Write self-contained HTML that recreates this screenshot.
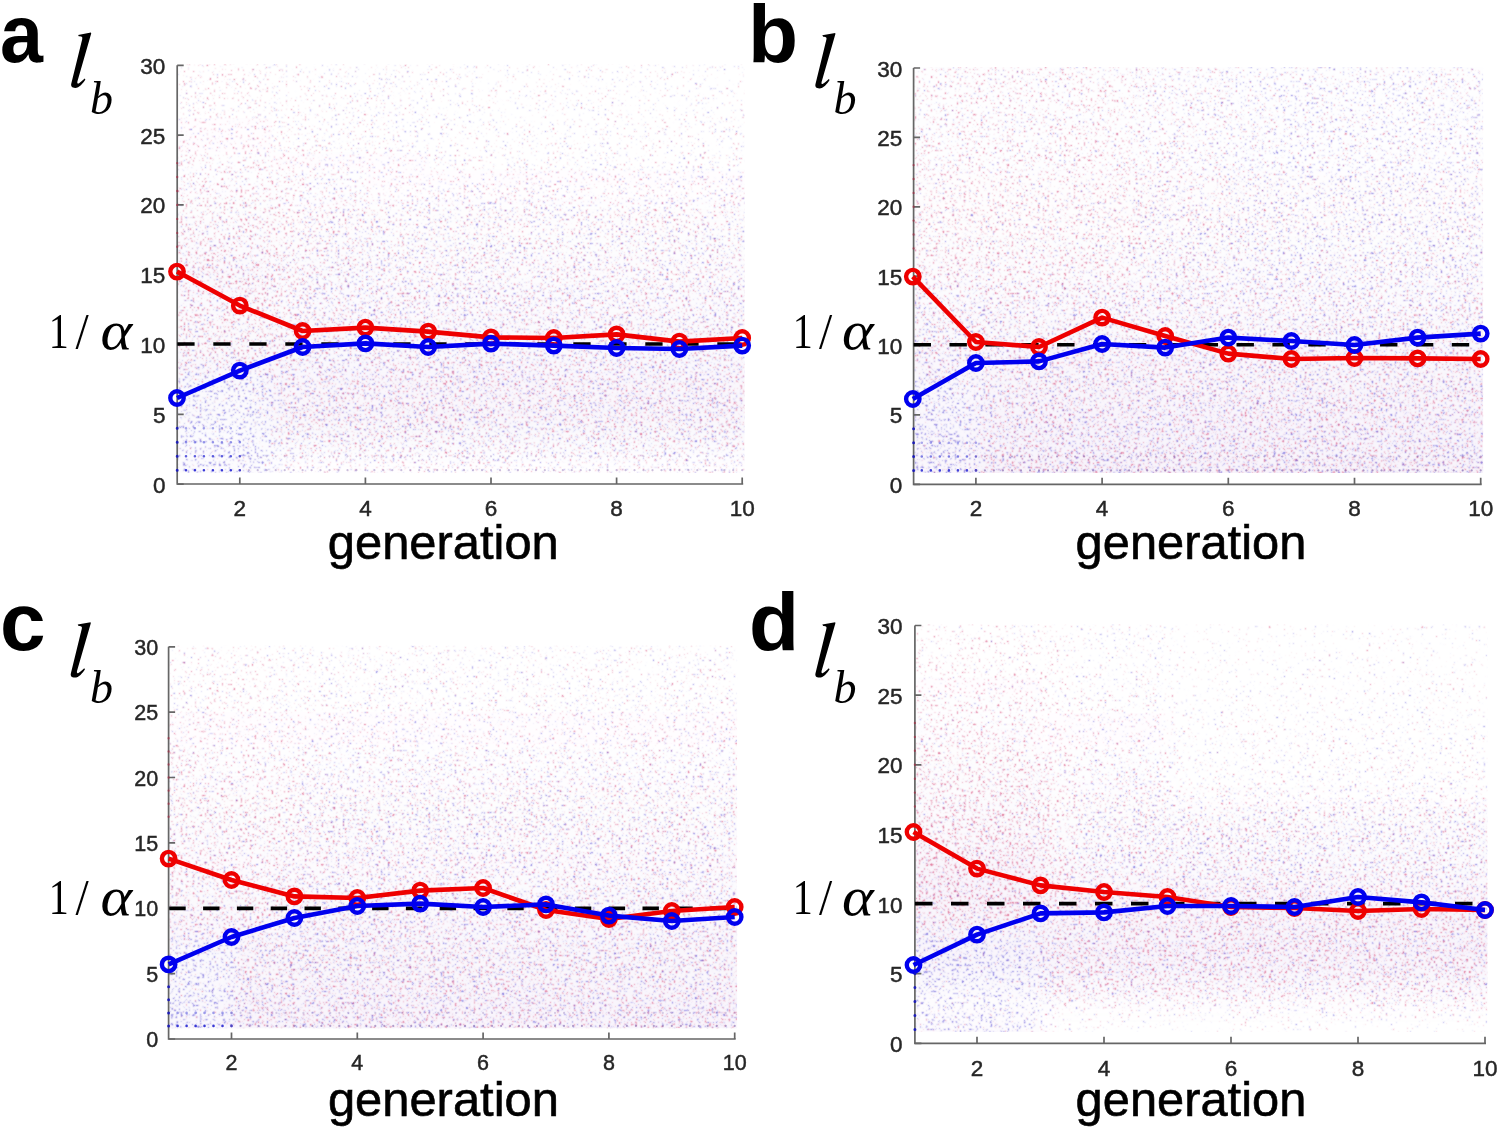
<!DOCTYPE html>
<html><head><meta charset="utf-8"><style>
html,body{margin:0;padding:0;background:#fff;overflow:hidden;}
svg{display:block;will-change:transform;}
.t{font-family:"Liberation Sans",sans-serif;fill:#262626;stroke:#262626;stroke-width:0.45px;}
.g{font-family:"Liberation Sans",sans-serif;font-size:48px;fill:#000;stroke:#000;stroke-width:0.6px;}
.L{font-family:"Liberation Sans",sans-serif;font-weight:bold;font-size:82px;fill:#000;}
.s{font-family:"Liberation Serif",serif;fill:#000;}
.si{font-family:"Liberation Serif",serif;font-style:italic;fill:#000;}
</style></head><body>
<svg width="1500" height="1132" viewBox="0 0 1500 1132">
<defs>
<filter id="nR" x="0" y="0" width="1" height="1" color-interpolation-filters="sRGB">
<feGaussianBlur in="SourceGraphic" stdDeviation="10" result="dn"/>
<feTurbulence type="fractalNoise" baseFrequency="0.42" numOctaves="2" seed="3" result="t0"/>
<feColorMatrix in="t0" type="matrix" values="1 0 0 0 0  0 1 0 0 0  0 0 1 0 0  0 0 0 0 1" result="t"/>
<feComposite in="t" in2="dn" operator="arithmetic" k1="0" k2="1" k3="0.4" k4="-0.2" result="s"/>
<feComponentTransfer in="s"><feFuncR type="linear" slope="6" intercept="-3.600"/></feComponentTransfer>
<feConvolveMatrix order="3" kernelMatrix="1 2 1 2 8 2 1 2 1" preserveAlpha="true"/>
<feColorMatrix type="matrix" values="0 0 0 0 0.85  0 0 0 0 0.33  0 0 0 0 0.5  0.9 0 0 0 0"/>
</filter>
<filter id="nB" x="0" y="0" width="1" height="1" color-interpolation-filters="sRGB">
<feGaussianBlur in="SourceGraphic" stdDeviation="10" result="dn"/>
<feTurbulence type="fractalNoise" baseFrequency="0.42" numOctaves="2" seed="11" result="t0"/>
<feColorMatrix in="t0" type="matrix" values="1 0 0 0 0  0 1 0 0 0  0 0 1 0 0  0 0 0 0 1" result="t"/>
<feComposite in="t" in2="dn" operator="arithmetic" k1="0" k2="1" k3="0.4" k4="-0.2" result="s"/>
<feComponentTransfer in="s"><feFuncR type="linear" slope="6" intercept="-3.600"/></feComponentTransfer>
<feConvolveMatrix order="3" kernelMatrix="1 2 1 2 8 2 1 2 1" preserveAlpha="true"/>
<feColorMatrix type="matrix" values="0 0 0 0 0.42  0 0 0 0 0.38  0 0 0 0 0.85  0.9 0 0 0 0"/>
</filter>
<filter id="tb" x="-0.05" y="-0.05" width="1.1" height="1.1"><feGaussianBlur stdDeviation="10"/></filter>
<clipPath id="ca"><rect x="178.1" y="64.3" width="566.5" height="408.4"/></clipPath>
<clipPath id="cb"><rect x="914.5" y="67.0" width="568.6" height="405.9"/></clipPath>
<clipPath id="cc"><rect x="169.5" y="645.8" width="567.6" height="382.5"/></clipPath>
<clipPath id="cd"><rect x="915.8" y="624.5" width="571.6" height="407.4"/></clipPath>
</defs>
<rect width="1500" height="1132" fill="#fff"/>
<g clip-path="url(#ca)"><g fill="rgb(205, 178, 228)" filter="url(#tb)"><path fill-opacity="0.004" d="M83 100h32v18h-32zM83 83h32v18h-32zM83 65h32v18h-32zM83 48h32v18h-32zM83 30h32v18h-32zM83 13h32v18h-32zM114 100h32v18h-32zM114 83h32v18h-32zM114 65h32v18h-32zM114 48h32v18h-32zM114 30h32v18h-32zM114 13h32v18h-32zM146 100h32v18h-32zM146 83h32v18h-32zM146 65h32v18h-32zM146 48h32v18h-32zM146 30h32v18h-32zM146 13h32v18h-32zM177 100h32v18h-32zM177 83h32v18h-32zM177 65h32v18h-32zM177 48h32v18h-32zM177 30h32v18h-32zM177 13h32v18h-32zM208 100h32v18h-32zM208 83h32v18h-32zM208 65h32v18h-32zM208 48h32v18h-32zM208 30h32v18h-32zM208 13h32v18h-32zM240 100h32v18h-32zM240 83h32v18h-32zM240 65h32v18h-32zM240 48h32v18h-32zM240 30h32v18h-32zM240 13h32v18h-32zM271 135h32v18h-32zM271 118h32v18h-32zM271 100h32v18h-32zM271 83h32v18h-32zM271 65h32v18h-32zM271 48h32v18h-32zM271 30h32v18h-32zM271 13h32v18h-32zM303 135h32v18h-32zM303 118h32v18h-32zM303 100h32v18h-32zM303 83h32v18h-32zM303 65h32v18h-32zM303 48h32v18h-32zM303 30h32v18h-32zM303 13h32v18h-32zM334 135h32v18h-32zM334 118h32v18h-32zM334 100h32v18h-32zM334 83h32v18h-32zM334 65h32v18h-32zM334 48h32v18h-32zM334 30h32v18h-32zM334 13h32v18h-32zM365 135h32v18h-32zM365 118h32v18h-32zM365 100h32v18h-32zM365 83h32v18h-32zM397 135h32v18h-32zM397 118h32v18h-32zM397 100h32v18h-32zM397 83h32v18h-32zM428 153h32v18h-32zM428 135h32v18h-32zM428 118h32v18h-32zM460 153h32v18h-32zM460 135h32v18h-32zM460 118h32v18h-32zM491 153h32v18h-32zM491 135h32v18h-32zM491 118h32v18h-32zM522 153h32v18h-32zM522 135h32v18h-32zM522 118h32v18h-32zM554 153h32v18h-32zM554 135h32v18h-32zM554 118h32v18h-32zM585 153h32v18h-32zM585 135h32v18h-32zM585 118h32v18h-32zM617 153h32v18h-32zM617 135h32v18h-32zM617 118h32v18h-32zM648 153h32v18h-32zM648 135h32v18h-32zM648 118h32v18h-32zM679 153h32v18h-32zM679 135h32v18h-32zM679 118h32v18h-32zM711 153h32v18h-32zM711 135h32v18h-32zM711 118h32v18h-32zM742 153h32v18h-32zM742 135h32v18h-32zM742 118h32v18h-32zM774 153h32v18h-32zM774 135h32v18h-32zM774 118h32v18h-32z"/><path fill-opacity="0.008" d="M83 135h32v18h-32zM83 118h32v18h-32zM114 135h32v18h-32zM114 118h32v18h-32zM146 135h32v18h-32zM146 118h32v18h-32zM177 135h32v18h-32zM177 118h32v18h-32zM208 135h32v18h-32zM208 118h32v18h-32zM240 135h32v18h-32zM240 118h32v18h-32zM271 519h32v18h-32zM271 502h32v18h-32zM271 484h32v18h-32zM271 467h32v18h-32zM271 153h32v18h-32zM303 519h32v18h-32zM303 502h32v18h-32zM303 484h32v18h-32zM303 467h32v18h-32zM303 153h32v18h-32zM334 519h32v18h-32zM334 502h32v18h-32zM334 484h32v18h-32zM334 467h32v18h-32zM334 153h32v18h-32zM365 519h32v18h-32zM365 502h32v18h-32zM365 484h32v18h-32zM365 467h32v18h-32zM365 170h32v18h-32zM365 153h32v18h-32zM397 519h32v18h-32zM397 502h32v18h-32zM397 484h32v18h-32zM397 467h32v18h-32zM397 170h32v18h-32zM397 153h32v18h-32zM428 519h32v18h-32zM428 502h32v18h-32zM428 484h32v18h-32zM428 467h32v18h-32zM428 170h32v18h-32zM460 519h32v18h-32zM460 502h32v18h-32zM460 484h32v18h-32zM460 467h32v18h-32zM460 170h32v18h-32zM491 519h32v18h-32zM491 502h32v18h-32zM491 484h32v18h-32zM491 467h32v18h-32zM491 170h32v18h-32zM522 519h32v18h-32zM522 502h32v18h-32zM522 484h32v18h-32zM522 467h32v18h-32zM522 170h32v18h-32zM554 519h32v18h-32zM554 502h32v18h-32zM554 484h32v18h-32zM554 467h32v18h-32zM554 170h32v18h-32zM585 519h32v18h-32zM585 502h32v18h-32zM585 484h32v18h-32zM585 467h32v18h-32zM585 170h32v18h-32zM617 519h32v18h-32zM617 502h32v18h-32zM617 484h32v18h-32zM617 467h32v18h-32zM617 170h32v18h-32zM648 519h32v18h-32zM648 502h32v18h-32zM648 484h32v18h-32zM648 467h32v18h-32zM648 170h32v18h-32zM679 519h32v18h-32zM679 502h32v18h-32zM679 484h32v18h-32zM679 467h32v18h-32zM679 170h32v18h-32zM711 519h32v18h-32zM711 502h32v18h-32zM711 484h32v18h-32zM711 467h32v18h-32zM711 170h32v18h-32zM742 519h32v18h-32zM742 502h32v18h-32zM742 484h32v18h-32zM742 467h32v18h-32zM742 170h32v18h-32zM774 519h32v18h-32zM774 502h32v18h-32zM774 484h32v18h-32zM774 467h32v18h-32zM774 170h32v18h-32z"/><path fill-opacity="0.012" d="M83 153h32v18h-32zM114 153h32v18h-32zM146 153h32v18h-32zM177 153h32v18h-32zM208 153h32v18h-32zM240 153h32v18h-32zM271 170h32v18h-32zM303 170h32v18h-32zM334 170h32v18h-32zM365 187h32v18h-32zM397 187h32v18h-32zM428 187h32v18h-32zM460 187h32v18h-32zM491 187h32v18h-32zM522 187h32v18h-32zM554 187h32v18h-32zM585 187h32v18h-32zM617 187h32v18h-32zM648 187h32v18h-32zM679 187h32v18h-32zM711 187h32v18h-32zM742 187h32v18h-32zM774 187h32v18h-32z"/><path fill-opacity="0.016" d="M83 170h32v18h-32zM114 170h32v18h-32zM146 170h32v18h-32zM177 170h32v18h-32zM208 170h32v18h-32zM240 170h32v18h-32zM271 449h32v18h-32zM271 187h32v18h-32zM303 449h32v18h-32zM303 187h32v18h-32zM334 449h32v18h-32zM334 187h32v18h-32zM365 449h32v18h-32zM397 449h32v18h-32zM428 449h32v18h-32zM460 449h32v18h-32zM491 449h32v18h-32zM522 449h32v18h-32zM554 449h32v18h-32zM585 449h32v18h-32zM617 449h32v18h-32zM648 449h32v18h-32zM679 449h32v18h-32zM711 449h32v18h-32zM742 449h32v18h-32zM774 449h32v18h-32z"/><path fill-opacity="0.020" d="M83 187h32v18h-32zM114 187h32v18h-32zM146 187h32v18h-32zM177 187h32v18h-32zM208 187h32v18h-32zM240 187h32v18h-32zM365 205h32v18h-32zM397 205h32v18h-32zM428 205h32v18h-32zM460 205h32v18h-32zM491 205h32v18h-32zM522 205h32v18h-32zM554 205h32v18h-32zM585 205h32v18h-32zM617 205h32v18h-32zM648 205h32v18h-32zM679 205h32v18h-32zM711 205h32v18h-32zM742 205h32v18h-32zM774 205h32v18h-32z"/><path fill-opacity="0.024" d="M271 205h32v18h-32zM303 205h32v18h-32zM334 205h32v18h-32zM365 222h32v18h-32zM397 222h32v18h-32zM428 222h32v18h-32zM460 222h32v18h-32zM491 222h32v18h-32zM522 222h32v18h-32zM554 222h32v18h-32zM585 222h32v18h-32zM617 222h32v18h-32zM648 222h32v18h-32zM679 222h32v18h-32zM711 222h32v18h-32zM742 222h32v18h-32zM774 222h32v18h-32z"/><path fill-opacity="0.027" d="M271 222h32v18h-32zM303 222h32v18h-32zM334 222h32v18h-32z"/><path fill-opacity="0.031" d="M83 205h32v18h-32zM114 205h32v18h-32zM146 205h32v18h-32zM177 205h32v18h-32zM208 205h32v18h-32zM240 205h32v18h-32zM365 240h32v18h-32zM397 240h32v18h-32zM428 240h32v18h-32zM460 240h32v18h-32zM491 240h32v18h-32zM522 240h32v18h-32zM554 240h32v18h-32zM585 240h32v18h-32zM617 240h32v18h-32zM648 240h32v18h-32zM679 240h32v18h-32zM711 240h32v18h-32zM742 240h32v18h-32zM774 240h32v18h-32z"/><path fill-opacity="0.035" d="M271 240h32v18h-32zM303 240h32v18h-32zM334 240h32v18h-32zM365 257h32v18h-32zM397 257h32v18h-32zM428 257h32v18h-32zM460 257h32v18h-32zM491 257h32v18h-32zM522 257h32v18h-32zM554 257h32v18h-32zM585 257h32v18h-32zM617 257h32v18h-32zM648 257h32v18h-32zM679 257h32v18h-32zM711 257h32v18h-32zM742 257h32v18h-32zM774 257h32v18h-32z"/><path fill-opacity="0.039" d="M83 222h32v18h-32zM114 222h32v18h-32zM146 222h32v18h-32zM177 222h32v18h-32zM208 222h32v18h-32zM240 222h32v18h-32z"/><path fill-opacity="0.043" d="M271 257h32v18h-32zM303 257h32v18h-32zM334 257h32v18h-32zM365 275h32v18h-32zM397 275h32v18h-32zM428 275h32v18h-32zM460 275h32v18h-32zM491 275h32v18h-32zM522 275h32v18h-32zM554 275h32v18h-32zM585 275h32v18h-32zM617 275h32v18h-32zM648 275h32v18h-32zM679 275h32v18h-32zM711 275h32v18h-32zM742 275h32v18h-32zM774 275h32v18h-32z"/><path fill-opacity="0.051" d="M83 519h32v18h-32zM83 502h32v18h-32zM83 484h32v18h-32zM83 467h32v18h-32zM83 449h32v18h-32zM83 432h32v18h-32zM83 292h32v18h-32zM83 240h32v18h-32zM114 519h32v18h-32zM114 502h32v18h-32zM114 484h32v18h-32zM114 467h32v18h-32zM114 449h32v18h-32zM114 432h32v18h-32zM114 292h32v18h-32zM114 240h32v18h-32zM146 519h32v18h-32zM146 502h32v18h-32zM146 484h32v18h-32zM146 467h32v18h-32zM146 449h32v18h-32zM146 432h32v18h-32zM146 292h32v18h-32zM146 240h32v18h-32zM177 519h32v18h-32zM177 502h32v18h-32zM177 484h32v18h-32zM177 467h32v18h-32zM177 449h32v18h-32zM177 432h32v18h-32zM177 292h32v18h-32zM177 240h32v18h-32zM208 519h32v18h-32zM208 502h32v18h-32zM208 484h32v18h-32zM208 467h32v18h-32zM208 449h32v18h-32zM208 432h32v18h-32zM208 292h32v18h-32zM208 240h32v18h-32zM240 519h32v18h-32zM240 502h32v18h-32zM240 484h32v18h-32zM240 467h32v18h-32zM240 449h32v18h-32zM240 432h32v18h-32zM240 292h32v18h-32zM240 240h32v18h-32zM271 292h32v18h-32zM271 275h32v18h-32zM303 292h32v18h-32zM303 275h32v18h-32zM334 292h32v18h-32zM334 275h32v18h-32zM365 292h32v18h-32zM397 292h32v18h-32zM428 292h32v18h-32zM460 292h32v18h-32zM491 292h32v18h-32zM522 292h32v18h-32zM554 292h32v18h-32zM585 292h32v18h-32zM617 292h32v18h-32zM648 292h32v18h-32zM679 292h32v18h-32zM711 292h32v18h-32zM742 292h32v18h-32zM774 292h32v18h-32z"/><path fill-opacity="0.059" d="M83 310h32v18h-32zM114 310h32v18h-32zM146 310h32v18h-32zM177 310h32v18h-32zM208 310h32v18h-32zM240 310h32v18h-32zM271 310h32v18h-32zM303 310h32v18h-32zM334 310h32v18h-32zM365 310h32v18h-32zM397 310h32v18h-32zM428 310h32v18h-32zM460 310h32v18h-32zM491 310h32v18h-32zM522 310h32v18h-32zM554 310h32v18h-32zM585 310h32v18h-32zM617 310h32v18h-32zM648 310h32v18h-32zM679 310h32v18h-32zM711 310h32v18h-32zM742 310h32v18h-32zM774 310h32v18h-32z"/><path fill-opacity="0.063" d="M83 257h32v18h-32zM114 257h32v18h-32zM146 257h32v18h-32zM177 257h32v18h-32zM208 257h32v18h-32zM240 257h32v18h-32z"/><path fill-opacity="0.071" d="M83 414h32v18h-32zM83 379h32v18h-32zM83 327h32v18h-32zM114 414h32v18h-32zM114 379h32v18h-32zM114 327h32v18h-32zM146 414h32v18h-32zM146 379h32v18h-32zM146 327h32v18h-32zM177 414h32v18h-32zM177 379h32v18h-32zM177 327h32v18h-32zM208 414h32v18h-32zM208 379h32v18h-32zM208 327h32v18h-32zM240 414h32v18h-32zM240 379h32v18h-32zM240 327h32v18h-32zM271 432h32v18h-32zM271 327h32v18h-32zM303 432h32v18h-32zM303 327h32v18h-32zM334 432h32v18h-32zM334 327h32v18h-32zM365 432h32v18h-32zM365 327h32v18h-32zM397 432h32v18h-32zM397 327h32v18h-32zM428 432h32v18h-32zM428 327h32v18h-32zM460 432h32v18h-32zM460 327h32v18h-32zM491 432h32v18h-32zM491 327h32v18h-32zM522 432h32v18h-32zM522 327h32v18h-32zM554 432h32v18h-32zM554 327h32v18h-32zM585 432h32v18h-32zM585 327h32v18h-32zM617 432h32v18h-32zM617 327h32v18h-32zM648 432h32v18h-32zM648 327h32v18h-32zM679 432h32v18h-32zM679 327h32v18h-32zM711 432h32v18h-32zM711 327h32v18h-32zM742 432h32v18h-32zM742 327h32v18h-32zM774 432h32v18h-32zM774 327h32v18h-32z"/><path fill-opacity="0.075" d="M83 397h32v18h-32zM83 275h32v18h-32zM114 397h32v18h-32zM114 275h32v18h-32zM146 397h32v18h-32zM146 275h32v18h-32zM177 397h32v18h-32zM177 275h32v18h-32zM208 397h32v18h-32zM208 275h32v18h-32zM240 397h32v18h-32zM240 275h32v18h-32z"/><path fill-opacity="0.082" d="M83 345h32v18h-32zM114 345h32v18h-32zM146 345h32v18h-32zM177 345h32v18h-32zM208 345h32v18h-32zM240 345h32v18h-32zM271 345h32v18h-32zM303 345h32v18h-32zM334 345h32v18h-32zM365 345h32v18h-32zM397 345h32v18h-32zM428 345h32v18h-32zM460 345h32v18h-32zM491 345h32v18h-32zM522 345h32v18h-32zM554 345h32v18h-32zM585 345h32v18h-32zM617 345h32v18h-32zM648 345h32v18h-32zM679 345h32v18h-32zM711 345h32v18h-32zM742 345h32v18h-32zM774 345h32v18h-32z"/><path fill-opacity="0.090" d="M83 362h32v18h-32zM114 362h32v18h-32zM146 362h32v18h-32zM177 362h32v18h-32zM208 362h32v18h-32zM240 362h32v18h-32zM271 362h32v18h-32zM303 362h32v18h-32zM334 362h32v18h-32zM365 362h32v18h-32zM397 362h32v18h-32zM428 362h32v18h-32zM460 362h32v18h-32zM491 362h32v18h-32zM522 362h32v18h-32zM554 362h32v18h-32zM585 362h32v18h-32zM617 362h32v18h-32zM648 362h32v18h-32zM679 362h32v18h-32zM711 362h32v18h-32zM742 362h32v18h-32zM774 362h32v18h-32z"/><path fill-opacity="0.094" d="M271 414h32v18h-32zM303 414h32v18h-32zM334 414h32v18h-32zM365 414h32v18h-32zM397 414h32v18h-32zM428 414h32v18h-32zM460 414h32v18h-32zM491 414h32v18h-32zM522 414h32v18h-32zM554 414h32v18h-32zM585 414h32v18h-32zM617 414h32v18h-32zM648 414h32v18h-32zM679 414h32v18h-32zM711 414h32v18h-32zM742 414h32v18h-32zM774 414h32v18h-32z"/><path fill-opacity="0.102" d="M271 379h32v18h-32zM303 379h32v18h-32zM334 379h32v18h-32zM365 379h32v18h-32zM397 379h32v18h-32zM428 379h32v18h-32zM460 379h32v18h-32zM491 379h32v18h-32zM522 379h32v18h-32zM554 379h32v18h-32zM585 379h32v18h-32zM617 379h32v18h-32zM648 379h32v18h-32zM679 379h32v18h-32zM711 379h32v18h-32zM742 379h32v18h-32zM774 379h32v18h-32z"/><path fill-opacity="0.106" d="M271 397h32v18h-32zM303 397h32v18h-32zM334 397h32v18h-32zM365 397h32v18h-32zM397 397h32v18h-32zM428 397h32v18h-32zM460 397h32v18h-32zM491 397h32v18h-32zM522 397h32v18h-32zM554 397h32v18h-32zM585 397h32v18h-32zM617 397h32v18h-32zM648 397h32v18h-32zM679 397h32v18h-32zM711 397h32v18h-32zM742 397h32v18h-32zM774 397h32v18h-32z"/></g><g filter="url(#nR)"><path fill="rgb(49,49,49)" d="M83 519h32v18h-32zM83 502h32v18h-32zM83 484h32v18h-32zM83 467h32v18h-32zM83 449h32v18h-32zM83 432h32v18h-32zM114 519h32v18h-32zM114 502h32v18h-32zM114 484h32v18h-32zM114 467h32v18h-32zM114 449h32v18h-32zM114 432h32v18h-32zM146 519h32v18h-32zM146 502h32v18h-32zM146 484h32v18h-32zM146 467h32v18h-32zM146 449h32v18h-32zM146 432h32v18h-32zM177 519h32v18h-32zM177 502h32v18h-32zM177 484h32v18h-32zM177 467h32v18h-32zM177 449h32v18h-32zM177 432h32v18h-32zM208 519h32v18h-32zM208 502h32v18h-32zM208 484h32v18h-32zM208 467h32v18h-32zM208 449h32v18h-32zM208 432h32v18h-32zM240 519h32v18h-32zM240 502h32v18h-32zM240 484h32v18h-32zM240 467h32v18h-32zM240 449h32v18h-32zM240 432h32v18h-32z"/><path fill="rgb(51,51,51)" d="M83 414h32v18h-32zM83 397h32v18h-32zM83 379h32v18h-32zM114 414h32v18h-32zM114 397h32v18h-32zM114 379h32v18h-32zM146 414h32v18h-32zM146 397h32v18h-32zM146 379h32v18h-32zM177 414h32v18h-32zM177 397h32v18h-32zM177 379h32v18h-32zM208 414h32v18h-32zM208 397h32v18h-32zM208 379h32v18h-32zM240 414h32v18h-32zM240 397h32v18h-32zM240 379h32v18h-32z"/><path fill="rgb(52,52,52)" d="M428 65h32v18h-32zM428 48h32v18h-32zM428 30h32v18h-32zM428 13h32v18h-32zM460 65h32v18h-32zM460 48h32v18h-32zM460 30h32v18h-32zM460 13h32v18h-32zM491 65h32v18h-32zM491 48h32v18h-32zM491 30h32v18h-32zM491 13h32v18h-32zM522 65h32v18h-32zM522 48h32v18h-32zM522 30h32v18h-32zM522 13h32v18h-32zM554 65h32v18h-32zM554 48h32v18h-32zM554 30h32v18h-32zM554 13h32v18h-32zM585 65h32v18h-32zM585 48h32v18h-32zM585 30h32v18h-32zM585 13h32v18h-32zM617 65h32v18h-32zM617 48h32v18h-32zM617 30h32v18h-32zM617 13h32v18h-32zM648 65h32v18h-32zM648 48h32v18h-32zM648 30h32v18h-32zM648 13h32v18h-32zM679 65h32v18h-32zM679 48h32v18h-32zM679 30h32v18h-32zM679 13h32v18h-32zM711 65h32v18h-32zM711 48h32v18h-32zM711 30h32v18h-32zM711 13h32v18h-32zM742 65h32v18h-32zM742 48h32v18h-32zM742 30h32v18h-32zM742 13h32v18h-32zM774 65h32v18h-32zM774 48h32v18h-32zM774 30h32v18h-32zM774 13h32v18h-32z"/><path fill="rgb(54,54,54)" d="M428 83h32v18h-32zM460 83h32v18h-32zM491 83h32v18h-32zM522 83h32v18h-32zM554 83h32v18h-32zM585 83h32v18h-32zM617 83h32v18h-32zM648 83h32v18h-32zM679 83h32v18h-32zM711 83h32v18h-32zM742 83h32v18h-32zM774 83h32v18h-32z"/><path fill="rgb(55,55,55)" d="M428 100h32v18h-32zM460 100h32v18h-32zM491 100h32v18h-32zM522 100h32v18h-32zM554 100h32v18h-32zM585 100h32v18h-32zM617 100h32v18h-32zM648 100h32v18h-32zM679 100h32v18h-32zM711 100h32v18h-32zM742 100h32v18h-32zM774 100h32v18h-32z"/><path fill="rgb(57,57,57)" d="M365 48h32v18h-32zM365 30h32v18h-32zM365 13h32v18h-32zM397 48h32v18h-32zM397 30h32v18h-32zM397 13h32v18h-32z"/><path fill="rgb(58,58,58)" d="M365 65h32v18h-32zM397 65h32v18h-32zM428 118h32v18h-32zM460 118h32v18h-32zM491 118h32v18h-32zM522 118h32v18h-32zM554 118h32v18h-32zM585 118h32v18h-32zM617 118h32v18h-32zM648 118h32v18h-32zM679 118h32v18h-32zM711 118h32v18h-32zM742 118h32v18h-32zM774 118h32v18h-32z"/><path fill="rgb(60,60,60)" d="M303 65h32v18h-32zM303 48h32v18h-32zM303 30h32v18h-32zM303 13h32v18h-32zM334 65h32v18h-32zM334 48h32v18h-32zM334 30h32v18h-32zM334 13h32v18h-32zM365 83h32v18h-32zM397 83h32v18h-32z"/><path fill="rgb(62,62,62)" d="M303 83h32v18h-32zM334 83h32v18h-32zM365 100h32v18h-32zM397 100h32v18h-32zM428 135h32v18h-32zM460 135h32v18h-32zM491 135h32v18h-32zM522 135h32v18h-32zM554 135h32v18h-32zM585 135h32v18h-32zM617 135h32v18h-32zM648 135h32v18h-32zM679 135h32v18h-32zM711 135h32v18h-32zM742 135h32v18h-32zM774 135h32v18h-32z"/><path fill="rgb(64,64,64)" d="M303 100h32v18h-32zM334 100h32v18h-32z"/><path fill="rgb(66,66,66)" d="M365 118h32v18h-32zM397 118h32v18h-32z"/><path fill="rgb(67,67,67)" d="M428 153h32v18h-32zM460 153h32v18h-32zM491 153h32v18h-32zM522 153h32v18h-32zM554 153h32v18h-32zM585 153h32v18h-32zM617 153h32v18h-32zM648 153h32v18h-32zM679 153h32v18h-32zM711 153h32v18h-32zM742 153h32v18h-32zM774 153h32v18h-32z"/><path fill="rgb(69,69,69)" d="M271 48h32v18h-32zM271 30h32v18h-32zM271 13h32v18h-32zM303 118h32v18h-32zM334 118h32v18h-32z"/><path fill="rgb(70,70,70)" d="M271 65h32v18h-32zM365 135h32v18h-32zM397 135h32v18h-32z"/><path fill="rgb(72,72,72)" d="M271 83h32v18h-32z"/><path fill="rgb(73,73,73)" d="M303 135h32v18h-32zM334 135h32v18h-32z"/><path fill="rgb(74,74,74)" d="M83 48h32v18h-32zM83 30h32v18h-32zM83 13h32v18h-32zM114 48h32v18h-32zM114 30h32v18h-32zM114 13h32v18h-32zM146 48h32v18h-32zM146 30h32v18h-32zM146 13h32v18h-32zM177 48h32v18h-32zM177 30h32v18h-32zM177 13h32v18h-32zM208 48h32v18h-32zM208 30h32v18h-32zM208 13h32v18h-32zM240 48h32v18h-32zM240 30h32v18h-32zM240 13h32v18h-32z"/><path fill="rgb(75,75,75)" d="M271 100h32v18h-32z"/><path fill="rgb(76,76,76)" d="M83 65h32v18h-32zM114 65h32v18h-32zM146 65h32v18h-32zM177 65h32v18h-32zM208 65h32v18h-32zM240 65h32v18h-32zM365 153h32v18h-32zM397 153h32v18h-32z"/><path fill="rgb(77,77,77)" d="M83 83h32v18h-32zM114 83h32v18h-32zM146 83h32v18h-32zM177 83h32v18h-32zM208 83h32v18h-32zM240 83h32v18h-32zM271 519h32v18h-32zM271 502h32v18h-32zM271 484h32v18h-32zM271 467h32v18h-32zM303 519h32v18h-32zM303 502h32v18h-32zM303 484h32v18h-32zM303 467h32v18h-32zM334 519h32v18h-32zM334 502h32v18h-32zM334 484h32v18h-32zM334 467h32v18h-32zM365 519h32v18h-32zM365 502h32v18h-32zM365 484h32v18h-32zM365 467h32v18h-32zM397 519h32v18h-32zM397 502h32v18h-32zM397 484h32v18h-32zM397 467h32v18h-32zM428 519h32v18h-32zM428 502h32v18h-32zM428 484h32v18h-32zM428 467h32v18h-32zM460 519h32v18h-32zM460 502h32v18h-32zM460 484h32v18h-32zM460 467h32v18h-32zM491 519h32v18h-32zM491 502h32v18h-32zM491 484h32v18h-32zM491 467h32v18h-32zM522 519h32v18h-32zM522 502h32v18h-32zM522 484h32v18h-32zM522 467h32v18h-32zM554 519h32v18h-32zM554 502h32v18h-32zM554 484h32v18h-32zM554 467h32v18h-32zM585 519h32v18h-32zM585 502h32v18h-32zM585 484h32v18h-32zM585 467h32v18h-32zM617 519h32v18h-32zM617 502h32v18h-32zM617 484h32v18h-32zM617 467h32v18h-32zM648 519h32v18h-32zM648 502h32v18h-32zM648 484h32v18h-32zM648 467h32v18h-32zM679 519h32v18h-32zM679 502h32v18h-32zM679 484h32v18h-32zM679 467h32v18h-32zM711 519h32v18h-32zM711 502h32v18h-32zM711 484h32v18h-32zM711 467h32v18h-32zM742 519h32v18h-32zM742 502h32v18h-32zM742 484h32v18h-32zM742 467h32v18h-32zM774 519h32v18h-32zM774 502h32v18h-32zM774 484h32v18h-32zM774 467h32v18h-32z"/><path fill="rgb(79,79,79)" d="M83 100h32v18h-32zM114 100h32v18h-32zM146 100h32v18h-32zM177 100h32v18h-32zM208 100h32v18h-32zM240 100h32v18h-32zM271 118h32v18h-32zM303 153h32v18h-32zM334 153h32v18h-32z"/><path fill="rgb(80,80,80)" d="M365 170h32v18h-32zM397 170h32v18h-32zM428 170h32v18h-32zM460 170h32v18h-32zM491 170h32v18h-32zM522 170h32v18h-32zM554 170h32v18h-32zM585 170h32v18h-32zM617 170h32v18h-32zM648 170h32v18h-32zM679 170h32v18h-32zM711 170h32v18h-32zM742 170h32v18h-32zM774 170h32v18h-32z"/><path fill="rgb(83,83,83)" d="M271 135h32v18h-32zM303 170h32v18h-32zM334 170h32v18h-32z"/><path fill="rgb(84,84,84)" d="M83 118h32v18h-32zM114 118h32v18h-32zM146 118h32v18h-32zM177 118h32v18h-32zM208 118h32v18h-32zM240 118h32v18h-32z"/><path fill="rgb(85,85,85)" d="M365 187h32v18h-32zM397 187h32v18h-32zM428 187h32v18h-32zM460 187h32v18h-32zM491 187h32v18h-32zM522 187h32v18h-32zM554 187h32v18h-32zM585 187h32v18h-32zM617 187h32v18h-32zM648 187h32v18h-32zM679 187h32v18h-32zM711 187h32v18h-32zM742 187h32v18h-32zM774 187h32v18h-32z"/><path fill="rgb(86,86,86)" d="M271 449h32v18h-32zM303 449h32v18h-32zM334 449h32v18h-32zM365 449h32v18h-32zM397 449h32v18h-32zM428 449h32v18h-32zM460 449h32v18h-32zM491 449h32v18h-32zM522 449h32v18h-32zM554 449h32v18h-32zM585 449h32v18h-32zM617 449h32v18h-32zM648 449h32v18h-32zM679 449h32v18h-32zM711 449h32v18h-32zM742 449h32v18h-32zM774 449h32v18h-32z"/><path fill="rgb(88,88,88)" d="M83 135h32v18h-32zM114 135h32v18h-32zM146 135h32v18h-32zM177 135h32v18h-32zM208 135h32v18h-32zM240 135h32v18h-32zM303 187h32v18h-32zM334 187h32v18h-32z"/><path fill="rgb(89,89,89)" d="M271 153h32v18h-32z"/><path fill="rgb(90,90,90)" d="M365 205h32v18h-32zM397 205h32v18h-32zM428 205h32v18h-32zM460 205h32v18h-32zM491 205h32v18h-32zM522 205h32v18h-32zM554 205h32v18h-32zM585 205h32v18h-32zM617 205h32v18h-32zM648 205h32v18h-32zM679 205h32v18h-32zM711 205h32v18h-32zM742 205h32v18h-32zM774 205h32v18h-32z"/><path fill="rgb(92,92,92)" d="M303 205h32v18h-32zM334 205h32v18h-32z"/><path fill="rgb(93,93,93)" d="M83 153h32v18h-32zM114 153h32v18h-32zM146 153h32v18h-32zM177 153h32v18h-32zM208 153h32v18h-32zM240 153h32v18h-32zM271 170h32v18h-32zM365 222h32v18h-32zM397 222h32v18h-32zM428 222h32v18h-32zM460 222h32v18h-32zM491 222h32v18h-32zM522 222h32v18h-32zM554 222h32v18h-32zM585 222h32v18h-32zM617 222h32v18h-32zM648 222h32v18h-32zM679 222h32v18h-32zM711 222h32v18h-32zM742 222h32v18h-32zM774 222h32v18h-32z"/><path fill="rgb(95,95,95)" d="M303 222h32v18h-32zM334 222h32v18h-32zM365 240h32v18h-32zM397 240h32v18h-32zM428 240h32v18h-32zM460 240h32v18h-32zM491 240h32v18h-32zM522 240h32v18h-32zM554 240h32v18h-32zM585 240h32v18h-32zM617 240h32v18h-32zM648 240h32v18h-32zM679 240h32v18h-32zM711 240h32v18h-32zM742 240h32v18h-32zM774 240h32v18h-32z"/><path fill="rgb(97,97,97)" d="M83 170h32v18h-32zM114 170h32v18h-32zM146 170h32v18h-32zM177 170h32v18h-32zM208 170h32v18h-32zM240 170h32v18h-32zM271 187h32v18h-32z"/><path fill="rgb(98,98,98)" d="M303 240h32v18h-32zM334 240h32v18h-32zM365 257h32v18h-32zM397 257h32v18h-32zM428 257h32v18h-32zM460 257h32v18h-32zM491 257h32v18h-32zM522 257h32v18h-32zM554 257h32v18h-32zM585 257h32v18h-32zM617 257h32v18h-32zM648 257h32v18h-32zM679 257h32v18h-32zM711 257h32v18h-32zM742 257h32v18h-32zM774 257h32v18h-32z"/><path fill="rgb(100,100,100)" d="M303 257h32v18h-32zM334 257h32v18h-32zM365 275h32v18h-32zM397 275h32v18h-32zM428 275h32v18h-32zM460 275h32v18h-32zM491 275h32v18h-32zM522 275h32v18h-32zM554 275h32v18h-32zM585 275h32v18h-32zM617 275h32v18h-32zM648 275h32v18h-32zM679 275h32v18h-32zM711 275h32v18h-32zM742 275h32v18h-32zM774 275h32v18h-32z"/><path fill="rgb(101,101,101)" d="M83 187h32v18h-32zM114 187h32v18h-32zM146 187h32v18h-32zM177 187h32v18h-32zM208 187h32v18h-32zM240 187h32v18h-32zM271 205h32v18h-32z"/><path fill="rgb(102,102,102)" d="M303 292h32v18h-32zM303 275h32v18h-32zM334 292h32v18h-32zM334 275h32v18h-32zM365 292h32v18h-32zM397 292h32v18h-32zM428 292h32v18h-32zM460 292h32v18h-32zM491 292h32v18h-32zM522 292h32v18h-32zM554 292h32v18h-32zM585 292h32v18h-32zM617 292h32v18h-32zM648 292h32v18h-32zM679 292h32v18h-32zM711 292h32v18h-32zM742 292h32v18h-32zM774 292h32v18h-32z"/><path fill="rgb(103,103,103)" d="M303 310h32v18h-32zM334 310h32v18h-32zM365 310h32v18h-32zM397 310h32v18h-32zM428 310h32v18h-32zM460 310h32v18h-32zM491 310h32v18h-32zM522 310h32v18h-32zM554 310h32v18h-32zM585 310h32v18h-32zM617 310h32v18h-32zM648 310h32v18h-32zM679 310h32v18h-32zM711 310h32v18h-32zM742 310h32v18h-32zM774 310h32v18h-32z"/><path fill="rgb(105,105,105)" d="M271 432h32v18h-32zM271 222h32v18h-32zM303 432h32v18h-32zM303 327h32v18h-32zM334 432h32v18h-32zM334 327h32v18h-32zM365 432h32v18h-32zM365 327h32v18h-32zM397 432h32v18h-32zM397 327h32v18h-32zM428 432h32v18h-32zM428 327h32v18h-32zM460 432h32v18h-32zM460 327h32v18h-32zM491 432h32v18h-32zM491 327h32v18h-32zM522 432h32v18h-32zM522 327h32v18h-32zM554 432h32v18h-32zM554 327h32v18h-32zM585 432h32v18h-32zM585 327h32v18h-32zM617 432h32v18h-32zM617 327h32v18h-32zM648 432h32v18h-32zM648 327h32v18h-32zM679 432h32v18h-32zM679 327h32v18h-32zM711 432h32v18h-32zM711 327h32v18h-32zM742 432h32v18h-32zM742 327h32v18h-32zM774 432h32v18h-32zM774 327h32v18h-32z"/><path fill="rgb(106,106,106)" d="M83 205h32v18h-32zM114 205h32v18h-32zM146 205h32v18h-32zM177 205h32v18h-32zM208 205h32v18h-32zM240 205h32v18h-32zM303 345h32v18h-32zM334 345h32v18h-32zM365 345h32v18h-32zM397 345h32v18h-32zM428 345h32v18h-32zM460 345h32v18h-32zM491 345h32v18h-32zM522 345h32v18h-32zM554 345h32v18h-32zM585 345h32v18h-32zM617 345h32v18h-32zM648 345h32v18h-32zM679 345h32v18h-32zM711 345h32v18h-32zM742 345h32v18h-32zM774 345h32v18h-32z"/><path fill="rgb(107,107,107)" d="M83 362h32v18h-32zM114 362h32v18h-32zM146 362h32v18h-32zM177 362h32v18h-32zM208 362h32v18h-32zM240 362h32v18h-32zM271 362h32v18h-32zM303 362h32v18h-32zM334 362h32v18h-32zM365 362h32v18h-32zM397 362h32v18h-32zM428 362h32v18h-32zM460 362h32v18h-32zM491 362h32v18h-32zM522 362h32v18h-32zM554 362h32v18h-32zM585 362h32v18h-32zM617 362h32v18h-32zM648 362h32v18h-32zM679 362h32v18h-32zM711 362h32v18h-32zM742 362h32v18h-32zM774 362h32v18h-32z"/><path fill="rgb(108,108,108)" d="M271 414h32v18h-32zM271 379h32v18h-32zM271 240h32v18h-32zM303 414h32v18h-32zM303 379h32v18h-32zM334 414h32v18h-32zM334 379h32v18h-32zM365 414h32v18h-32zM365 379h32v18h-32zM397 414h32v18h-32zM397 379h32v18h-32zM428 414h32v18h-32zM428 379h32v18h-32zM460 414h32v18h-32zM460 379h32v18h-32zM491 414h32v18h-32zM491 379h32v18h-32zM522 414h32v18h-32zM522 379h32v18h-32zM554 414h32v18h-32zM554 379h32v18h-32zM585 414h32v18h-32zM585 379h32v18h-32zM617 414h32v18h-32zM617 379h32v18h-32zM648 414h32v18h-32zM648 379h32v18h-32zM679 414h32v18h-32zM679 379h32v18h-32zM711 414h32v18h-32zM711 379h32v18h-32zM742 414h32v18h-32zM742 379h32v18h-32zM774 414h32v18h-32zM774 379h32v18h-32z"/><path fill="rgb(109,109,109)" d="M271 397h32v18h-32zM303 397h32v18h-32zM334 397h32v18h-32zM365 397h32v18h-32zM397 397h32v18h-32zM428 397h32v18h-32zM460 397h32v18h-32zM491 397h32v18h-32zM522 397h32v18h-32zM554 397h32v18h-32zM585 397h32v18h-32zM617 397h32v18h-32zM648 397h32v18h-32zM679 397h32v18h-32zM711 397h32v18h-32zM742 397h32v18h-32zM774 397h32v18h-32z"/><path fill="rgb(110,110,110)" d="M83 222h32v18h-32zM114 222h32v18h-32zM146 222h32v18h-32zM177 222h32v18h-32zM208 222h32v18h-32zM240 222h32v18h-32z"/><path fill="rgb(111,111,111)" d="M271 257h32v18h-32z"/><path fill="rgb(113,113,113)" d="M83 292h32v18h-32zM83 240h32v18h-32zM114 292h32v18h-32zM114 240h32v18h-32zM146 292h32v18h-32zM146 240h32v18h-32zM177 292h32v18h-32zM177 240h32v18h-32zM208 292h32v18h-32zM208 240h32v18h-32zM240 292h32v18h-32zM240 240h32v18h-32zM271 292h32v18h-32zM271 275h32v18h-32z"/><path fill="rgb(115,115,115)" d="M83 310h32v18h-32zM83 257h32v18h-32zM114 310h32v18h-32zM114 257h32v18h-32zM146 310h32v18h-32zM146 257h32v18h-32zM177 310h32v18h-32zM177 257h32v18h-32zM208 310h32v18h-32zM208 257h32v18h-32zM240 310h32v18h-32zM240 257h32v18h-32zM271 310h32v18h-32z"/><path fill="rgb(117,117,117)" d="M83 327h32v18h-32zM83 275h32v18h-32zM114 327h32v18h-32zM114 275h32v18h-32zM146 327h32v18h-32zM146 275h32v18h-32zM177 327h32v18h-32zM177 275h32v18h-32zM208 327h32v18h-32zM208 275h32v18h-32zM240 327h32v18h-32zM240 275h32v18h-32zM271 327h32v18h-32z"/><path fill="rgb(119,119,119)" d="M83 345h32v18h-32zM114 345h32v18h-32zM146 345h32v18h-32zM177 345h32v18h-32zM208 345h32v18h-32zM240 345h32v18h-32zM271 345h32v18h-32z"/></g><g filter="url(#nB)"><path fill="rgb(46,46,46)" d="M271 48h32v18h-32zM271 30h32v18h-32zM271 13h32v18h-32z"/><path fill="rgb(47,47,47)" d="M271 65h32v18h-32z"/><path fill="rgb(48,48,48)" d="M428 48h32v18h-32zM428 30h32v18h-32zM428 13h32v18h-32zM460 48h32v18h-32zM460 30h32v18h-32zM460 13h32v18h-32zM491 48h32v18h-32zM491 30h32v18h-32zM491 13h32v18h-32zM522 48h32v18h-32zM522 30h32v18h-32zM522 13h32v18h-32zM554 48h32v18h-32zM554 30h32v18h-32zM554 13h32v18h-32zM585 48h32v18h-32zM585 30h32v18h-32zM585 13h32v18h-32zM617 48h32v18h-32zM617 30h32v18h-32zM617 13h32v18h-32zM648 48h32v18h-32zM648 30h32v18h-32zM648 13h32v18h-32zM679 48h32v18h-32zM679 30h32v18h-32zM679 13h32v18h-32zM711 48h32v18h-32zM711 30h32v18h-32zM711 13h32v18h-32zM742 48h32v18h-32zM742 30h32v18h-32zM742 13h32v18h-32zM774 48h32v18h-32zM774 30h32v18h-32zM774 13h32v18h-32z"/><path fill="rgb(49,49,49)" d="M271 83h32v18h-32zM428 65h32v18h-32zM460 65h32v18h-32zM491 65h32v18h-32zM522 65h32v18h-32zM554 65h32v18h-32zM585 65h32v18h-32zM617 65h32v18h-32zM648 65h32v18h-32zM679 65h32v18h-32zM711 65h32v18h-32zM742 65h32v18h-32zM774 65h32v18h-32z"/><path fill="rgb(51,51,51)" d="M83 65h32v18h-32zM83 48h32v18h-32zM83 30h32v18h-32zM83 13h32v18h-32zM114 65h32v18h-32zM114 48h32v18h-32zM114 30h32v18h-32zM114 13h32v18h-32zM146 65h32v18h-32zM146 48h32v18h-32zM146 30h32v18h-32zM146 13h32v18h-32zM177 65h32v18h-32zM177 48h32v18h-32zM177 30h32v18h-32zM177 13h32v18h-32zM208 65h32v18h-32zM208 48h32v18h-32zM208 30h32v18h-32zM208 13h32v18h-32zM240 65h32v18h-32zM240 48h32v18h-32zM240 30h32v18h-32zM240 13h32v18h-32zM271 100h32v18h-32zM428 83h32v18h-32zM460 83h32v18h-32zM491 83h32v18h-32zM522 83h32v18h-32zM554 83h32v18h-32zM585 83h32v18h-32zM617 83h32v18h-32zM648 83h32v18h-32zM679 83h32v18h-32zM711 83h32v18h-32zM742 83h32v18h-32zM774 83h32v18h-32z"/><path fill="rgb(52,52,52)" d="M83 83h32v18h-32zM114 83h32v18h-32zM146 83h32v18h-32zM177 83h32v18h-32zM208 83h32v18h-32zM240 83h32v18h-32zM428 100h32v18h-32zM460 100h32v18h-32zM491 100h32v18h-32zM522 100h32v18h-32zM554 100h32v18h-32zM585 100h32v18h-32zM617 100h32v18h-32zM648 100h32v18h-32zM679 100h32v18h-32zM711 100h32v18h-32zM742 100h32v18h-32zM774 100h32v18h-32z"/><path fill="rgb(53,53,53)" d="M271 118h32v18h-32z"/><path fill="rgb(54,54,54)" d="M83 100h32v18h-32zM114 100h32v18h-32zM146 100h32v18h-32zM177 100h32v18h-32zM208 100h32v18h-32zM240 100h32v18h-32zM365 48h32v18h-32zM365 30h32v18h-32zM365 13h32v18h-32zM397 48h32v18h-32zM397 30h32v18h-32zM397 13h32v18h-32z"/><path fill="rgb(55,55,55)" d="M365 65h32v18h-32zM397 65h32v18h-32zM428 118h32v18h-32zM460 118h32v18h-32zM491 118h32v18h-32zM522 118h32v18h-32zM554 118h32v18h-32zM585 118h32v18h-32zM617 118h32v18h-32zM648 118h32v18h-32zM679 118h32v18h-32zM711 118h32v18h-32zM742 118h32v18h-32zM774 118h32v18h-32z"/><path fill="rgb(56,56,56)" d="M83 118h32v18h-32zM114 118h32v18h-32zM146 118h32v18h-32zM177 118h32v18h-32zM208 118h32v18h-32zM240 118h32v18h-32zM271 135h32v18h-32zM303 48h32v18h-32zM303 30h32v18h-32zM303 13h32v18h-32zM334 48h32v18h-32zM334 30h32v18h-32zM334 13h32v18h-32zM365 83h32v18h-32zM397 83h32v18h-32z"/><path fill="rgb(57,57,57)" d="M303 65h32v18h-32zM334 65h32v18h-32z"/><path fill="rgb(58,58,58)" d="M303 83h32v18h-32zM334 83h32v18h-32zM365 100h32v18h-32zM397 100h32v18h-32zM428 135h32v18h-32zM460 135h32v18h-32zM491 135h32v18h-32zM522 135h32v18h-32zM554 135h32v18h-32zM585 135h32v18h-32zM617 135h32v18h-32zM648 135h32v18h-32zM679 135h32v18h-32zM711 135h32v18h-32zM742 135h32v18h-32zM774 135h32v18h-32z"/><path fill="rgb(59,59,59)" d="M83 135h32v18h-32zM114 135h32v18h-32zM146 135h32v18h-32zM177 135h32v18h-32zM208 135h32v18h-32zM240 135h32v18h-32z"/><path fill="rgb(60,60,60)" d="M271 153h32v18h-32zM303 100h32v18h-32zM334 100h32v18h-32z"/><path fill="rgb(61,61,61)" d="M365 118h32v18h-32zM397 118h32v18h-32z"/><path fill="rgb(62,62,62)" d="M428 153h32v18h-32zM460 153h32v18h-32zM491 153h32v18h-32zM522 153h32v18h-32zM554 153h32v18h-32zM585 153h32v18h-32zM617 153h32v18h-32zM648 153h32v18h-32zM679 153h32v18h-32zM711 153h32v18h-32zM742 153h32v18h-32zM774 153h32v18h-32z"/><path fill="rgb(63,63,63)" d="M83 153h32v18h-32zM114 153h32v18h-32zM146 153h32v18h-32zM177 153h32v18h-32zM208 153h32v18h-32zM240 153h32v18h-32zM271 170h32v18h-32z"/><path fill="rgb(64,64,64)" d="M303 118h32v18h-32zM334 118h32v18h-32z"/><path fill="rgb(65,65,65)" d="M365 135h32v18h-32zM397 135h32v18h-32z"/><path fill="rgb(66,66,66)" d="M271 187h32v18h-32z"/><path fill="rgb(67,67,67)" d="M83 170h32v18h-32zM114 170h32v18h-32zM146 170h32v18h-32zM177 170h32v18h-32zM208 170h32v18h-32zM240 170h32v18h-32zM303 135h32v18h-32zM334 135h32v18h-32z"/><path fill="rgb(68,68,68)" d="M365 153h32v18h-32zM397 153h32v18h-32z"/><path fill="rgb(69,69,69)" d="M271 519h32v18h-32zM271 502h32v18h-32zM271 484h32v18h-32zM271 467h32v18h-32zM303 519h32v18h-32zM303 502h32v18h-32zM303 484h32v18h-32zM303 467h32v18h-32zM334 519h32v18h-32zM334 502h32v18h-32zM334 484h32v18h-32zM334 467h32v18h-32zM365 519h32v18h-32zM365 502h32v18h-32zM365 484h32v18h-32zM365 467h32v18h-32zM397 519h32v18h-32zM397 502h32v18h-32zM397 484h32v18h-32zM397 467h32v18h-32zM428 519h32v18h-32zM428 502h32v18h-32zM428 484h32v18h-32zM428 467h32v18h-32zM460 519h32v18h-32zM460 502h32v18h-32zM460 484h32v18h-32zM460 467h32v18h-32zM491 519h32v18h-32zM491 502h32v18h-32zM491 484h32v18h-32zM491 467h32v18h-32zM522 519h32v18h-32zM522 502h32v18h-32zM522 484h32v18h-32zM522 467h32v18h-32zM554 519h32v18h-32zM554 502h32v18h-32zM554 484h32v18h-32zM554 467h32v18h-32zM585 519h32v18h-32zM585 502h32v18h-32zM585 484h32v18h-32zM585 467h32v18h-32zM617 519h32v18h-32zM617 502h32v18h-32zM617 484h32v18h-32zM617 467h32v18h-32zM648 519h32v18h-32zM648 502h32v18h-32zM648 484h32v18h-32zM648 467h32v18h-32zM679 519h32v18h-32zM679 502h32v18h-32zM679 484h32v18h-32zM679 467h32v18h-32zM711 519h32v18h-32zM711 502h32v18h-32zM711 484h32v18h-32zM711 467h32v18h-32zM742 519h32v18h-32zM742 502h32v18h-32zM742 484h32v18h-32zM742 467h32v18h-32zM774 519h32v18h-32zM774 502h32v18h-32zM774 484h32v18h-32zM774 467h32v18h-32z"/><path fill="rgb(70,70,70)" d="M83 187h32v18h-32zM114 187h32v18h-32zM146 187h32v18h-32zM177 187h32v18h-32zM208 187h32v18h-32zM240 187h32v18h-32zM271 205h32v18h-32z"/><path fill="rgb(71,71,71)" d="M303 153h32v18h-32zM334 153h32v18h-32z"/><path fill="rgb(72,72,72)" d="M365 170h32v18h-32zM397 170h32v18h-32zM428 170h32v18h-32zM460 170h32v18h-32zM491 170h32v18h-32zM522 170h32v18h-32zM554 170h32v18h-32zM585 170h32v18h-32zM617 170h32v18h-32zM648 170h32v18h-32zM679 170h32v18h-32zM711 170h32v18h-32zM742 170h32v18h-32zM774 170h32v18h-32z"/><path fill="rgb(73,73,73)" d="M271 222h32v18h-32z"/><path fill="rgb(74,74,74)" d="M83 205h32v18h-32zM114 205h32v18h-32zM146 205h32v18h-32zM177 205h32v18h-32zM208 205h32v18h-32zM240 205h32v18h-32z"/><path fill="rgb(75,75,75)" d="M303 170h32v18h-32zM334 170h32v18h-32z"/><path fill="rgb(76,76,76)" d="M271 240h32v18h-32z"/><path fill="rgb(77,77,77)" d="M83 222h32v18h-32zM114 222h32v18h-32zM146 222h32v18h-32zM177 222h32v18h-32zM208 222h32v18h-32zM240 222h32v18h-32zM365 187h32v18h-32zM397 187h32v18h-32zM428 187h32v18h-32zM460 187h32v18h-32zM491 187h32v18h-32zM522 187h32v18h-32zM554 187h32v18h-32zM585 187h32v18h-32zM617 187h32v18h-32zM648 187h32v18h-32zM679 187h32v18h-32zM711 187h32v18h-32zM742 187h32v18h-32zM774 187h32v18h-32z"/><path fill="rgb(78,78,78)" d="M271 257h32v18h-32z"/><path fill="rgb(79,79,79)" d="M271 449h32v18h-32zM303 449h32v18h-32zM334 449h32v18h-32zM365 449h32v18h-32zM397 449h32v18h-32zM428 449h32v18h-32zM460 449h32v18h-32zM491 449h32v18h-32zM522 449h32v18h-32zM554 449h32v18h-32zM585 449h32v18h-32zM617 449h32v18h-32zM648 449h32v18h-32zM679 449h32v18h-32zM711 449h32v18h-32zM742 449h32v18h-32zM774 449h32v18h-32z"/><path fill="rgb(80,80,80)" d="M83 292h32v18h-32zM83 240h32v18h-32zM114 292h32v18h-32zM114 240h32v18h-32zM146 292h32v18h-32zM146 240h32v18h-32zM177 292h32v18h-32zM177 240h32v18h-32zM208 292h32v18h-32zM208 240h32v18h-32zM240 292h32v18h-32zM240 240h32v18h-32zM271 292h32v18h-32zM303 187h32v18h-32zM334 187h32v18h-32z"/><path fill="rgb(81,81,81)" d="M271 275h32v18h-32z"/><path fill="rgb(83,83,83)" d="M83 310h32v18h-32zM83 257h32v18h-32zM114 310h32v18h-32zM114 257h32v18h-32zM146 310h32v18h-32zM146 257h32v18h-32zM177 310h32v18h-32zM177 257h32v18h-32zM208 310h32v18h-32zM208 257h32v18h-32zM240 310h32v18h-32zM240 257h32v18h-32zM271 310h32v18h-32zM365 205h32v18h-32zM397 205h32v18h-32zM428 205h32v18h-32zM460 205h32v18h-32zM491 205h32v18h-32zM522 205h32v18h-32zM554 205h32v18h-32zM585 205h32v18h-32zM617 205h32v18h-32zM648 205h32v18h-32zM679 205h32v18h-32zM711 205h32v18h-32zM742 205h32v18h-32zM774 205h32v18h-32z"/><path fill="rgb(85,85,85)" d="M83 327h32v18h-32zM114 327h32v18h-32zM146 327h32v18h-32zM177 327h32v18h-32zM208 327h32v18h-32zM240 327h32v18h-32zM271 327h32v18h-32z"/><path fill="rgb(86,86,86)" d="M83 275h32v18h-32zM114 275h32v18h-32zM146 275h32v18h-32zM177 275h32v18h-32zM208 275h32v18h-32zM240 275h32v18h-32zM303 205h32v18h-32zM334 205h32v18h-32z"/><path fill="rgb(87,87,87)" d="M83 345h32v18h-32zM114 345h32v18h-32zM146 345h32v18h-32zM177 345h32v18h-32zM208 345h32v18h-32zM240 345h32v18h-32zM271 345h32v18h-32z"/><path fill="rgb(88,88,88)" d="M365 222h32v18h-32zM397 222h32v18h-32zM428 222h32v18h-32zM460 222h32v18h-32zM491 222h32v18h-32zM522 222h32v18h-32zM554 222h32v18h-32zM585 222h32v18h-32zM617 222h32v18h-32zM648 222h32v18h-32zM679 222h32v18h-32zM711 222h32v18h-32zM742 222h32v18h-32zM774 222h32v18h-32z"/><path fill="rgb(91,91,91)" d="M303 222h32v18h-32zM334 222h32v18h-32zM365 240h32v18h-32zM397 240h32v18h-32zM428 240h32v18h-32zM460 240h32v18h-32zM491 240h32v18h-32zM522 240h32v18h-32zM554 240h32v18h-32zM585 240h32v18h-32zM617 240h32v18h-32zM648 240h32v18h-32zM679 240h32v18h-32zM711 240h32v18h-32zM742 240h32v18h-32zM774 240h32v18h-32z"/><path fill="rgb(93,93,93)" d="M303 240h32v18h-32zM334 240h32v18h-32zM365 257h32v18h-32zM397 257h32v18h-32zM428 257h32v18h-32zM460 257h32v18h-32zM491 257h32v18h-32zM522 257h32v18h-32zM554 257h32v18h-32zM585 257h32v18h-32zM617 257h32v18h-32zM648 257h32v18h-32zM679 257h32v18h-32zM711 257h32v18h-32zM742 257h32v18h-32zM774 257h32v18h-32z"/><path fill="rgb(95,95,95)" d="M303 257h32v18h-32zM334 257h32v18h-32zM365 275h32v18h-32zM397 275h32v18h-32zM428 275h32v18h-32zM460 275h32v18h-32zM491 275h32v18h-32zM522 275h32v18h-32zM554 275h32v18h-32zM585 275h32v18h-32zM617 275h32v18h-32zM648 275h32v18h-32zM679 275h32v18h-32zM711 275h32v18h-32zM742 275h32v18h-32zM774 275h32v18h-32z"/><path fill="rgb(97,97,97)" d="M303 292h32v18h-32zM303 275h32v18h-32zM334 292h32v18h-32zM334 275h32v18h-32zM365 292h32v18h-32zM397 292h32v18h-32zM428 292h32v18h-32zM460 292h32v18h-32zM491 292h32v18h-32zM522 292h32v18h-32zM554 292h32v18h-32zM585 292h32v18h-32zM617 292h32v18h-32zM648 292h32v18h-32zM679 292h32v18h-32zM711 292h32v18h-32zM742 292h32v18h-32zM774 292h32v18h-32z"/><path fill="rgb(99,99,99)" d="M303 310h32v18h-32zM334 310h32v18h-32zM365 310h32v18h-32zM397 310h32v18h-32zM428 310h32v18h-32zM460 310h32v18h-32zM491 310h32v18h-32zM522 310h32v18h-32zM554 310h32v18h-32zM585 310h32v18h-32zM617 310h32v18h-32zM648 310h32v18h-32zM679 310h32v18h-32zM711 310h32v18h-32zM742 310h32v18h-32zM774 310h32v18h-32z"/><path fill="rgb(100,100,100)" d="M271 432h32v18h-32zM303 432h32v18h-32zM303 327h32v18h-32zM334 432h32v18h-32zM334 327h32v18h-32zM365 432h32v18h-32zM365 327h32v18h-32zM397 432h32v18h-32zM397 327h32v18h-32zM428 432h32v18h-32zM428 327h32v18h-32zM460 432h32v18h-32zM460 327h32v18h-32zM491 432h32v18h-32zM491 327h32v18h-32zM522 432h32v18h-32zM522 327h32v18h-32zM554 432h32v18h-32zM554 327h32v18h-32zM585 432h32v18h-32zM585 327h32v18h-32zM617 432h32v18h-32zM617 327h32v18h-32zM648 432h32v18h-32zM648 327h32v18h-32zM679 432h32v18h-32zM679 327h32v18h-32zM711 432h32v18h-32zM711 327h32v18h-32zM742 432h32v18h-32zM742 327h32v18h-32zM774 432h32v18h-32zM774 327h32v18h-32z"/><path fill="rgb(102,102,102)" d="M303 345h32v18h-32zM334 345h32v18h-32zM365 345h32v18h-32zM397 345h32v18h-32zM428 345h32v18h-32zM460 345h32v18h-32zM491 345h32v18h-32zM522 345h32v18h-32zM554 345h32v18h-32zM585 345h32v18h-32zM617 345h32v18h-32zM648 345h32v18h-32zM679 345h32v18h-32zM711 345h32v18h-32zM742 345h32v18h-32zM774 345h32v18h-32z"/><path fill="rgb(103,103,103)" d="M83 362h32v18h-32zM114 362h32v18h-32zM146 362h32v18h-32zM177 362h32v18h-32zM208 362h32v18h-32zM240 362h32v18h-32zM271 414h32v18h-32zM271 362h32v18h-32zM303 414h32v18h-32zM303 362h32v18h-32zM334 414h32v18h-32zM334 362h32v18h-32zM365 414h32v18h-32zM365 362h32v18h-32zM397 414h32v18h-32zM397 362h32v18h-32zM428 414h32v18h-32zM428 362h32v18h-32zM460 414h32v18h-32zM460 362h32v18h-32zM491 414h32v18h-32zM491 362h32v18h-32zM522 414h32v18h-32zM522 362h32v18h-32zM554 414h32v18h-32zM554 362h32v18h-32zM585 414h32v18h-32zM585 362h32v18h-32zM617 414h32v18h-32zM617 362h32v18h-32zM648 414h32v18h-32zM648 362h32v18h-32zM679 414h32v18h-32zM679 362h32v18h-32zM711 414h32v18h-32zM711 362h32v18h-32zM742 414h32v18h-32zM742 362h32v18h-32zM774 414h32v18h-32zM774 362h32v18h-32z"/><path fill="rgb(104,104,104)" d="M271 397h32v18h-32zM271 379h32v18h-32zM303 397h32v18h-32zM303 379h32v18h-32zM334 397h32v18h-32zM334 379h32v18h-32zM365 397h32v18h-32zM365 379h32v18h-32zM397 397h32v18h-32zM397 379h32v18h-32zM428 397h32v18h-32zM428 379h32v18h-32zM460 397h32v18h-32zM460 379h32v18h-32zM491 397h32v18h-32zM491 379h32v18h-32zM522 397h32v18h-32zM522 379h32v18h-32zM554 397h32v18h-32zM554 379h32v18h-32zM585 397h32v18h-32zM585 379h32v18h-32zM617 397h32v18h-32zM617 379h32v18h-32zM648 397h32v18h-32zM648 379h32v18h-32zM679 397h32v18h-32zM679 379h32v18h-32zM711 397h32v18h-32zM711 379h32v18h-32zM742 397h32v18h-32zM742 379h32v18h-32zM774 397h32v18h-32zM774 379h32v18h-32z"/><path fill="rgb(119,119,119)" d="M83 519h32v18h-32zM83 502h32v18h-32zM83 484h32v18h-32zM83 467h32v18h-32zM83 449h32v18h-32zM83 432h32v18h-32zM114 519h32v18h-32zM114 502h32v18h-32zM114 484h32v18h-32zM114 467h32v18h-32zM114 449h32v18h-32zM114 432h32v18h-32zM146 519h32v18h-32zM146 502h32v18h-32zM146 484h32v18h-32zM146 467h32v18h-32zM146 449h32v18h-32zM146 432h32v18h-32zM177 519h32v18h-32zM177 502h32v18h-32zM177 484h32v18h-32zM177 467h32v18h-32zM177 449h32v18h-32zM177 432h32v18h-32zM208 519h32v18h-32zM208 502h32v18h-32zM208 484h32v18h-32zM208 467h32v18h-32zM208 449h32v18h-32zM208 432h32v18h-32zM240 519h32v18h-32zM240 502h32v18h-32zM240 484h32v18h-32zM240 467h32v18h-32zM240 449h32v18h-32zM240 432h32v18h-32z"/><path fill="rgb(123,123,123)" d="M83 414h32v18h-32zM114 414h32v18h-32zM146 414h32v18h-32zM177 414h32v18h-32zM208 414h32v18h-32zM240 414h32v18h-32z"/><path fill="rgb(124,124,124)" d="M83 397h32v18h-32zM83 379h32v18h-32zM114 397h32v18h-32zM114 379h32v18h-32zM146 397h32v18h-32zM146 379h32v18h-32zM177 397h32v18h-32zM177 379h32v18h-32zM208 397h32v18h-32zM208 379h32v18h-32zM240 397h32v18h-32zM240 379h32v18h-32z"/></g></g>
<g clip-path="url(#cb)"><g fill="rgb(205, 178, 228)" filter="url(#tb)"><path fill-opacity="0.012" d="M818 103h33v18h-33zM818 85h33v18h-33zM818 68h33v18h-33zM818 51h33v18h-33zM818 33h33v18h-33zM818 16h33v18h-33zM850 103h33v18h-33zM850 85h33v18h-33zM850 68h33v18h-33zM850 51h33v18h-33zM850 33h33v18h-33zM850 16h33v18h-33zM881 103h33v18h-33zM881 85h33v18h-33zM881 68h33v18h-33zM881 51h33v18h-33zM881 33h33v18h-33zM881 16h33v18h-33zM913 103h33v18h-33zM913 85h33v18h-33zM913 68h33v18h-33zM913 51h33v18h-33zM913 33h33v18h-33zM913 16h33v18h-33zM944 103h33v18h-33zM944 85h33v18h-33zM944 68h33v18h-33zM944 51h33v18h-33zM944 33h33v18h-33zM944 16h33v18h-33zM976 103h33v18h-33zM976 85h33v18h-33zM976 68h33v18h-33zM976 51h33v18h-33zM976 33h33v18h-33zM976 16h33v18h-33zM1007 103h33v18h-33zM1007 85h33v18h-33zM1007 68h33v18h-33zM1007 51h33v18h-33zM1007 33h33v18h-33zM1007 16h33v18h-33zM1039 103h33v18h-33zM1039 85h33v18h-33zM1039 68h33v18h-33zM1039 51h33v18h-33zM1039 33h33v18h-33zM1039 16h33v18h-33zM1071 103h33v18h-33zM1071 85h33v18h-33zM1071 68h33v18h-33zM1071 51h33v18h-33zM1071 33h33v18h-33zM1071 16h33v18h-33zM1102 103h33v18h-33zM1102 85h33v18h-33zM1102 68h33v18h-33zM1102 51h33v18h-33zM1102 33h33v18h-33zM1102 16h33v18h-33zM1134 103h33v18h-33zM1134 85h33v18h-33zM1134 68h33v18h-33zM1134 51h33v18h-33zM1134 33h33v18h-33zM1134 16h33v18h-33zM1165 103h33v18h-33zM1165 85h33v18h-33zM1165 68h33v18h-33zM1165 51h33v18h-33zM1165 33h33v18h-33zM1165 16h33v18h-33zM1197 103h33v18h-33zM1197 85h33v18h-33zM1197 68h33v18h-33zM1197 51h33v18h-33zM1197 33h33v18h-33zM1197 16h33v18h-33zM1228 103h33v18h-33zM1228 85h33v18h-33zM1228 68h33v18h-33zM1228 51h33v18h-33zM1228 33h33v18h-33zM1228 16h33v18h-33zM1260 103h33v18h-33zM1260 85h33v18h-33zM1260 68h33v18h-33zM1260 51h33v18h-33zM1260 33h33v18h-33zM1260 16h33v18h-33zM1291 103h33v18h-33zM1291 85h33v18h-33zM1291 68h33v18h-33zM1291 51h33v18h-33zM1291 33h33v18h-33zM1291 16h33v18h-33zM1323 103h33v18h-33zM1323 85h33v18h-33zM1323 68h33v18h-33zM1323 51h33v18h-33zM1323 33h33v18h-33zM1323 16h33v18h-33zM1354 103h33v18h-33zM1354 85h33v18h-33zM1354 68h33v18h-33zM1354 51h33v18h-33zM1354 33h33v18h-33zM1354 16h33v18h-33zM1386 103h33v18h-33zM1386 85h33v18h-33zM1386 68h33v18h-33zM1386 51h33v18h-33zM1386 33h33v18h-33zM1386 16h33v18h-33zM1418 103h33v18h-33zM1418 85h33v18h-33zM1418 68h33v18h-33zM1418 51h33v18h-33zM1418 33h33v18h-33zM1418 16h33v18h-33zM1449 103h33v18h-33zM1449 85h33v18h-33zM1449 68h33v18h-33zM1449 51h33v18h-33zM1449 33h33v18h-33zM1449 16h33v18h-33zM1481 103h33v18h-33zM1481 85h33v18h-33zM1481 68h33v18h-33zM1481 51h33v18h-33zM1481 33h33v18h-33zM1481 16h33v18h-33zM1512 103h33v18h-33zM1512 85h33v18h-33zM1512 68h33v18h-33zM1512 51h33v18h-33zM1512 33h33v18h-33zM1512 16h33v18h-33z"/><path fill-opacity="0.016" d="M818 155h33v18h-33zM818 137h33v18h-33zM818 120h33v18h-33zM850 155h33v18h-33zM850 137h33v18h-33zM850 120h33v18h-33zM881 155h33v18h-33zM881 137h33v18h-33zM881 120h33v18h-33zM913 155h33v18h-33zM913 137h33v18h-33zM913 120h33v18h-33zM944 155h33v18h-33zM944 137h33v18h-33zM944 120h33v18h-33zM976 155h33v18h-33zM976 137h33v18h-33zM976 120h33v18h-33zM1007 155h33v18h-33zM1007 137h33v18h-33zM1007 120h33v18h-33zM1039 155h33v18h-33zM1039 137h33v18h-33zM1039 120h33v18h-33zM1071 155h33v18h-33zM1071 137h33v18h-33zM1071 120h33v18h-33zM1102 155h33v18h-33zM1102 137h33v18h-33zM1102 120h33v18h-33zM1134 155h33v18h-33zM1134 137h33v18h-33zM1134 120h33v18h-33zM1165 155h33v18h-33zM1165 137h33v18h-33zM1165 120h33v18h-33zM1197 155h33v18h-33zM1197 137h33v18h-33zM1197 120h33v18h-33zM1228 155h33v18h-33zM1228 137h33v18h-33zM1228 120h33v18h-33zM1260 155h33v18h-33zM1260 137h33v18h-33zM1260 120h33v18h-33zM1291 155h33v18h-33zM1291 137h33v18h-33zM1291 120h33v18h-33zM1323 155h33v18h-33zM1323 137h33v18h-33zM1323 120h33v18h-33zM1354 155h33v18h-33zM1354 137h33v18h-33zM1354 120h33v18h-33zM1386 155h33v18h-33zM1386 137h33v18h-33zM1386 120h33v18h-33zM1418 155h33v18h-33zM1418 137h33v18h-33zM1418 120h33v18h-33zM1449 155h33v18h-33zM1449 137h33v18h-33zM1449 120h33v18h-33zM1481 155h33v18h-33zM1481 137h33v18h-33zM1481 120h33v18h-33zM1512 155h33v18h-33zM1512 137h33v18h-33zM1512 120h33v18h-33z"/><path fill-opacity="0.020" d="M818 189h33v18h-33zM818 172h33v18h-33zM850 189h33v18h-33zM850 172h33v18h-33zM881 189h33v18h-33zM881 172h33v18h-33zM913 189h33v18h-33zM913 172h33v18h-33zM944 189h33v18h-33zM944 172h33v18h-33zM976 189h33v18h-33zM976 172h33v18h-33zM1007 189h33v18h-33zM1007 172h33v18h-33zM1039 189h33v18h-33zM1039 172h33v18h-33zM1071 189h33v18h-33zM1071 172h33v18h-33zM1102 189h33v18h-33zM1102 172h33v18h-33zM1134 189h33v18h-33zM1134 172h33v18h-33zM1165 189h33v18h-33zM1165 172h33v18h-33zM1197 189h33v18h-33zM1197 172h33v18h-33zM1228 189h33v18h-33zM1228 172h33v18h-33zM1260 189h33v18h-33zM1260 172h33v18h-33zM1291 189h33v18h-33zM1291 172h33v18h-33zM1323 189h33v18h-33zM1323 172h33v18h-33zM1354 189h33v18h-33zM1354 172h33v18h-33zM1386 189h33v18h-33zM1386 172h33v18h-33zM1418 189h33v18h-33zM1418 172h33v18h-33zM1449 189h33v18h-33zM1449 172h33v18h-33zM1481 189h33v18h-33zM1481 172h33v18h-33zM1512 189h33v18h-33zM1512 172h33v18h-33z"/><path fill-opacity="0.024" d="M818 207h33v18h-33zM850 207h33v18h-33zM881 207h33v18h-33zM913 207h33v18h-33zM944 207h33v18h-33zM976 207h33v18h-33zM1007 207h33v18h-33zM1039 207h33v18h-33zM1071 207h33v18h-33zM1102 207h33v18h-33zM1134 207h33v18h-33zM1165 207h33v18h-33zM1197 207h33v18h-33zM1228 207h33v18h-33zM1260 207h33v18h-33zM1291 207h33v18h-33zM1323 207h33v18h-33zM1354 207h33v18h-33zM1386 207h33v18h-33zM1418 207h33v18h-33zM1449 207h33v18h-33zM1481 207h33v18h-33zM1512 207h33v18h-33z"/><path fill-opacity="0.027" d="M818 224h33v18h-33zM850 224h33v18h-33zM881 224h33v18h-33zM913 224h33v18h-33zM944 224h33v18h-33zM976 224h33v18h-33zM1007 224h33v18h-33zM1039 224h33v18h-33zM1071 224h33v18h-33zM1102 224h33v18h-33zM1134 224h33v18h-33zM1165 224h33v18h-33zM1197 224h33v18h-33zM1228 224h33v18h-33zM1260 224h33v18h-33zM1291 224h33v18h-33zM1323 224h33v18h-33zM1354 224h33v18h-33zM1386 224h33v18h-33zM1418 224h33v18h-33zM1449 224h33v18h-33zM1481 224h33v18h-33zM1512 224h33v18h-33z"/><path fill-opacity="0.031" d="M818 241h33v18h-33zM850 241h33v18h-33zM881 241h33v18h-33zM913 241h33v18h-33zM944 241h33v18h-33zM976 241h33v18h-33zM1007 241h33v18h-33zM1039 241h33v18h-33zM1071 241h33v18h-33zM1102 241h33v18h-33zM1134 241h33v18h-33zM1165 241h33v18h-33zM1197 241h33v18h-33zM1228 241h33v18h-33zM1260 241h33v18h-33zM1291 241h33v18h-33zM1323 241h33v18h-33zM1354 241h33v18h-33zM1386 241h33v18h-33zM1418 241h33v18h-33zM1449 241h33v18h-33zM1481 241h33v18h-33zM1512 241h33v18h-33z"/><path fill-opacity="0.039" d="M818 259h33v18h-33zM850 259h33v18h-33zM881 259h33v18h-33zM913 259h33v18h-33zM944 259h33v18h-33zM976 259h33v18h-33zM1007 259h33v18h-33zM1039 259h33v18h-33zM1071 259h33v18h-33zM1102 259h33v18h-33zM1134 259h33v18h-33zM1165 259h33v18h-33zM1197 259h33v18h-33zM1228 259h33v18h-33zM1260 259h33v18h-33zM1291 259h33v18h-33zM1323 259h33v18h-33zM1354 259h33v18h-33zM1386 259h33v18h-33zM1418 259h33v18h-33zM1449 259h33v18h-33zM1481 259h33v18h-33zM1512 259h33v18h-33z"/><path fill-opacity="0.043" d="M818 276h33v18h-33zM850 276h33v18h-33zM881 276h33v18h-33zM913 276h33v18h-33zM944 276h33v18h-33zM976 276h33v18h-33zM1007 276h33v18h-33zM1039 276h33v18h-33zM1071 276h33v18h-33zM1102 276h33v18h-33zM1134 276h33v18h-33zM1165 276h33v18h-33zM1197 276h33v18h-33zM1228 276h33v18h-33zM1260 276h33v18h-33zM1291 276h33v18h-33zM1323 276h33v18h-33zM1354 276h33v18h-33zM1386 276h33v18h-33zM1418 276h33v18h-33zM1449 276h33v18h-33zM1481 276h33v18h-33zM1512 276h33v18h-33z"/><path fill-opacity="0.051" d="M818 293h33v18h-33zM850 293h33v18h-33zM881 293h33v18h-33zM913 293h33v18h-33zM944 293h33v18h-33zM976 293h33v18h-33zM1007 293h33v18h-33zM1039 293h33v18h-33zM1071 293h33v18h-33zM1102 293h33v18h-33zM1134 293h33v18h-33zM1165 293h33v18h-33zM1197 293h33v18h-33zM1228 293h33v18h-33zM1260 293h33v18h-33zM1291 293h33v18h-33zM1323 293h33v18h-33zM1354 293h33v18h-33zM1386 293h33v18h-33zM1418 293h33v18h-33zM1449 293h33v18h-33zM1481 293h33v18h-33zM1512 293h33v18h-33z"/><path fill-opacity="0.059" d="M818 311h33v18h-33zM850 311h33v18h-33zM881 311h33v18h-33zM913 311h33v18h-33zM944 311h33v18h-33zM976 311h33v18h-33zM1007 311h33v18h-33zM1039 311h33v18h-33zM1071 311h33v18h-33zM1102 311h33v18h-33zM1134 311h33v18h-33zM1165 311h33v18h-33zM1197 311h33v18h-33zM1228 311h33v18h-33zM1260 311h33v18h-33zM1291 311h33v18h-33zM1323 311h33v18h-33zM1354 311h33v18h-33zM1386 311h33v18h-33zM1418 311h33v18h-33zM1449 311h33v18h-33zM1481 311h33v18h-33zM1512 311h33v18h-33z"/><path fill-opacity="0.071" d="M818 328h33v18h-33zM850 328h33v18h-33zM881 328h33v18h-33zM913 328h33v18h-33zM944 328h33v18h-33zM976 328h33v18h-33zM1007 328h33v18h-33zM1039 328h33v18h-33zM1071 328h33v18h-33zM1102 328h33v18h-33zM1134 328h33v18h-33zM1165 328h33v18h-33zM1197 328h33v18h-33zM1228 328h33v18h-33zM1260 328h33v18h-33zM1291 328h33v18h-33zM1323 328h33v18h-33zM1354 328h33v18h-33zM1386 328h33v18h-33zM1418 328h33v18h-33zM1449 328h33v18h-33zM1481 328h33v18h-33zM1512 328h33v18h-33z"/><path fill-opacity="0.078" d="M818 380h33v18h-33zM850 380h33v18h-33zM881 380h33v18h-33zM913 380h33v18h-33zM944 380h33v18h-33z"/><path fill-opacity="0.086" d="M818 398h33v18h-33zM818 346h33v18h-33zM850 398h33v18h-33zM850 346h33v18h-33zM881 398h33v18h-33zM881 346h33v18h-33zM913 398h33v18h-33zM913 346h33v18h-33zM944 398h33v18h-33zM944 346h33v18h-33zM976 346h33v18h-33zM1007 346h33v18h-33zM1039 346h33v18h-33zM1071 346h33v18h-33zM1102 346h33v18h-33zM1134 346h33v18h-33zM1165 346h33v18h-33zM1197 346h33v18h-33zM1228 346h33v18h-33zM1260 346h33v18h-33zM1291 346h33v18h-33zM1323 346h33v18h-33zM1354 346h33v18h-33zM1386 346h33v18h-33zM1418 346h33v18h-33zM1449 346h33v18h-33zM1481 346h33v18h-33zM1512 346h33v18h-33z"/><path fill-opacity="0.090" d="M818 415h33v18h-33zM850 415h33v18h-33zM881 415h33v18h-33zM913 415h33v18h-33zM944 415h33v18h-33z"/><path fill-opacity="0.098" d="M818 432h33v18h-33zM818 363h33v18h-33zM850 432h33v18h-33zM850 363h33v18h-33zM881 432h33v18h-33zM881 363h33v18h-33zM913 432h33v18h-33zM913 363h33v18h-33zM944 432h33v18h-33zM944 363h33v18h-33zM976 363h33v18h-33zM1007 363h33v18h-33zM1039 363h33v18h-33zM1071 363h33v18h-33zM1102 363h33v18h-33zM1134 363h33v18h-33zM1165 363h33v18h-33zM1197 363h33v18h-33zM1228 363h33v18h-33zM1260 363h33v18h-33zM1291 363h33v18h-33zM1323 363h33v18h-33zM1354 363h33v18h-33zM1386 363h33v18h-33zM1418 363h33v18h-33zM1449 363h33v18h-33zM1481 363h33v18h-33zM1512 363h33v18h-33z"/><path fill-opacity="0.110" d="M818 519h33v18h-33zM818 502h33v18h-33zM818 484h33v18h-33zM818 467h33v18h-33zM818 450h33v18h-33zM850 519h33v18h-33zM850 502h33v18h-33zM850 484h33v18h-33zM850 467h33v18h-33zM850 450h33v18h-33zM881 519h33v18h-33zM881 502h33v18h-33zM881 484h33v18h-33zM881 467h33v18h-33zM881 450h33v18h-33zM913 519h33v18h-33zM913 502h33v18h-33zM913 484h33v18h-33zM913 467h33v18h-33zM913 450h33v18h-33zM944 519h33v18h-33zM944 502h33v18h-33zM944 484h33v18h-33zM944 467h33v18h-33zM944 450h33v18h-33zM976 380h33v18h-33zM1007 380h33v18h-33zM1039 380h33v18h-33zM1071 380h33v18h-33zM1102 380h33v18h-33zM1134 380h33v18h-33zM1165 380h33v18h-33zM1197 380h33v18h-33zM1228 380h33v18h-33zM1260 380h33v18h-33zM1291 380h33v18h-33zM1323 380h33v18h-33zM1354 380h33v18h-33zM1386 380h33v18h-33zM1418 380h33v18h-33zM1449 380h33v18h-33zM1481 380h33v18h-33zM1512 380h33v18h-33z"/><path fill-opacity="0.118" d="M976 398h33v18h-33zM1007 398h33v18h-33zM1039 398h33v18h-33zM1071 398h33v18h-33zM1102 398h33v18h-33zM1134 398h33v18h-33zM1165 398h33v18h-33zM1197 398h33v18h-33zM1228 398h33v18h-33zM1260 398h33v18h-33zM1291 398h33v18h-33zM1323 398h33v18h-33zM1354 398h33v18h-33zM1386 398h33v18h-33zM1418 398h33v18h-33zM1449 398h33v18h-33zM1481 398h33v18h-33zM1512 398h33v18h-33z"/><path fill-opacity="0.125" d="M976 415h33v18h-33zM1007 415h33v18h-33zM1039 415h33v18h-33zM1071 415h33v18h-33zM1102 415h33v18h-33zM1134 415h33v18h-33zM1165 415h33v18h-33zM1197 415h33v18h-33zM1228 415h33v18h-33zM1260 415h33v18h-33zM1291 415h33v18h-33zM1323 415h33v18h-33zM1354 415h33v18h-33zM1386 415h33v18h-33zM1418 415h33v18h-33zM1449 415h33v18h-33zM1481 415h33v18h-33zM1512 415h33v18h-33z"/><path fill-opacity="0.129" d="M976 432h33v18h-33zM1007 432h33v18h-33zM1039 432h33v18h-33zM1071 432h33v18h-33zM1102 432h33v18h-33zM1134 432h33v18h-33zM1165 432h33v18h-33zM1197 432h33v18h-33zM1228 432h33v18h-33zM1260 432h33v18h-33zM1291 432h33v18h-33zM1323 432h33v18h-33zM1354 432h33v18h-33zM1386 432h33v18h-33zM1418 432h33v18h-33zM1449 432h33v18h-33zM1481 432h33v18h-33zM1512 432h33v18h-33z"/><path fill-opacity="0.137" d="M976 519h33v18h-33zM976 502h33v18h-33zM976 484h33v18h-33zM976 467h33v18h-33zM976 450h33v18h-33zM1007 519h33v18h-33zM1007 502h33v18h-33zM1007 484h33v18h-33zM1007 467h33v18h-33zM1007 450h33v18h-33zM1039 519h33v18h-33zM1039 502h33v18h-33zM1039 484h33v18h-33zM1039 467h33v18h-33zM1039 450h33v18h-33zM1071 519h33v18h-33zM1071 502h33v18h-33zM1071 484h33v18h-33zM1071 467h33v18h-33zM1071 450h33v18h-33zM1102 519h33v18h-33zM1102 502h33v18h-33zM1102 484h33v18h-33zM1102 467h33v18h-33zM1102 450h33v18h-33zM1134 519h33v18h-33zM1134 502h33v18h-33zM1134 484h33v18h-33zM1134 467h33v18h-33zM1134 450h33v18h-33zM1165 519h33v18h-33zM1165 502h33v18h-33zM1165 484h33v18h-33zM1165 467h33v18h-33zM1165 450h33v18h-33zM1197 519h33v18h-33zM1197 502h33v18h-33zM1197 484h33v18h-33zM1197 467h33v18h-33zM1197 450h33v18h-33zM1228 519h33v18h-33zM1228 502h33v18h-33zM1228 484h33v18h-33zM1228 467h33v18h-33zM1228 450h33v18h-33zM1260 519h33v18h-33zM1260 502h33v18h-33zM1260 484h33v18h-33zM1260 467h33v18h-33zM1260 450h33v18h-33zM1291 519h33v18h-33zM1291 502h33v18h-33zM1291 484h33v18h-33zM1291 467h33v18h-33zM1291 450h33v18h-33zM1323 519h33v18h-33zM1323 502h33v18h-33zM1323 484h33v18h-33zM1323 467h33v18h-33zM1323 450h33v18h-33zM1354 519h33v18h-33zM1354 502h33v18h-33zM1354 484h33v18h-33zM1354 467h33v18h-33zM1354 450h33v18h-33zM1386 519h33v18h-33zM1386 502h33v18h-33zM1386 484h33v18h-33zM1386 467h33v18h-33zM1386 450h33v18h-33zM1418 519h33v18h-33zM1418 502h33v18h-33zM1418 484h33v18h-33zM1418 467h33v18h-33zM1418 450h33v18h-33zM1449 519h33v18h-33zM1449 502h33v18h-33zM1449 484h33v18h-33zM1449 467h33v18h-33zM1449 450h33v18h-33zM1481 519h33v18h-33zM1481 502h33v18h-33zM1481 484h33v18h-33zM1481 467h33v18h-33zM1481 450h33v18h-33zM1512 519h33v18h-33zM1512 502h33v18h-33zM1512 484h33v18h-33zM1512 467h33v18h-33zM1512 450h33v18h-33z"/></g><g filter="url(#nR)"><path fill="rgb(56,56,56)" d="M818 380h33v18h-33zM850 380h33v18h-33zM881 380h33v18h-33zM913 380h33v18h-33zM944 380h33v18h-33z"/><path fill="rgb(57,57,57)" d="M818 432h33v18h-33zM818 415h33v18h-33zM818 398h33v18h-33zM850 432h33v18h-33zM850 415h33v18h-33zM850 398h33v18h-33zM881 432h33v18h-33zM881 415h33v18h-33zM881 398h33v18h-33zM913 432h33v18h-33zM913 415h33v18h-33zM913 398h33v18h-33zM944 432h33v18h-33zM944 415h33v18h-33zM944 398h33v18h-33z"/><path fill="rgb(58,58,58)" d="M818 519h33v18h-33zM818 502h33v18h-33zM818 484h33v18h-33zM818 467h33v18h-33zM818 450h33v18h-33zM850 519h33v18h-33zM850 502h33v18h-33zM850 484h33v18h-33zM850 467h33v18h-33zM850 450h33v18h-33zM881 519h33v18h-33zM881 502h33v18h-33zM881 484h33v18h-33zM881 467h33v18h-33zM881 450h33v18h-33zM913 519h33v18h-33zM913 502h33v18h-33zM913 484h33v18h-33zM913 467h33v18h-33zM913 450h33v18h-33zM944 519h33v18h-33zM944 502h33v18h-33zM944 484h33v18h-33zM944 467h33v18h-33zM944 450h33v18h-33z"/><path fill="rgb(72,72,72)" d="M1228 68h33v18h-33zM1228 51h33v18h-33zM1228 33h33v18h-33zM1228 16h33v18h-33zM1260 68h33v18h-33zM1260 51h33v18h-33zM1260 33h33v18h-33zM1260 16h33v18h-33zM1291 68h33v18h-33zM1291 51h33v18h-33zM1291 33h33v18h-33zM1291 16h33v18h-33zM1323 68h33v18h-33zM1323 51h33v18h-33zM1323 33h33v18h-33zM1323 16h33v18h-33zM1354 68h33v18h-33zM1354 51h33v18h-33zM1354 33h33v18h-33zM1354 16h33v18h-33zM1386 68h33v18h-33zM1386 51h33v18h-33zM1386 33h33v18h-33zM1386 16h33v18h-33zM1418 68h33v18h-33zM1418 51h33v18h-33zM1418 33h33v18h-33zM1418 16h33v18h-33zM1449 68h33v18h-33zM1449 51h33v18h-33zM1449 33h33v18h-33zM1449 16h33v18h-33zM1481 68h33v18h-33zM1481 51h33v18h-33zM1481 33h33v18h-33zM1481 16h33v18h-33zM1512 68h33v18h-33zM1512 51h33v18h-33zM1512 33h33v18h-33zM1512 16h33v18h-33z"/><path fill="rgb(73,73,73)" d="M1228 85h33v18h-33zM1260 85h33v18h-33zM1291 85h33v18h-33zM1323 85h33v18h-33zM1354 85h33v18h-33zM1386 85h33v18h-33zM1418 85h33v18h-33zM1449 85h33v18h-33zM1481 85h33v18h-33zM1512 85h33v18h-33z"/><path fill="rgb(74,74,74)" d="M1228 103h33v18h-33zM1260 103h33v18h-33zM1291 103h33v18h-33zM1323 103h33v18h-33zM1354 103h33v18h-33zM1386 103h33v18h-33zM1418 103h33v18h-33zM1449 103h33v18h-33zM1481 103h33v18h-33zM1512 103h33v18h-33z"/><path fill="rgb(75,75,75)" d="M1228 120h33v18h-33zM1260 120h33v18h-33zM1291 120h33v18h-33zM1323 120h33v18h-33zM1354 120h33v18h-33zM1386 120h33v18h-33zM1418 120h33v18h-33zM1449 120h33v18h-33zM1481 120h33v18h-33zM1512 120h33v18h-33z"/><path fill="rgb(77,77,77)" d="M1228 137h33v18h-33zM1260 137h33v18h-33zM1291 137h33v18h-33zM1323 137h33v18h-33zM1354 137h33v18h-33zM1386 137h33v18h-33zM1418 137h33v18h-33zM1449 137h33v18h-33zM1481 137h33v18h-33zM1512 137h33v18h-33z"/><path fill="rgb(78,78,78)" d="M1228 155h33v18h-33zM1260 155h33v18h-33zM1291 155h33v18h-33zM1323 155h33v18h-33zM1354 155h33v18h-33zM1386 155h33v18h-33zM1418 155h33v18h-33zM1449 155h33v18h-33zM1481 155h33v18h-33zM1512 155h33v18h-33z"/><path fill="rgb(79,79,79)" d="M1228 172h33v18h-33zM1260 172h33v18h-33zM1291 172h33v18h-33zM1323 172h33v18h-33zM1354 172h33v18h-33zM1386 172h33v18h-33zM1418 172h33v18h-33zM1449 172h33v18h-33zM1481 172h33v18h-33zM1512 172h33v18h-33z"/><path fill="rgb(80,80,80)" d="M1228 189h33v18h-33zM1260 189h33v18h-33zM1291 189h33v18h-33zM1323 189h33v18h-33zM1354 189h33v18h-33zM1386 189h33v18h-33zM1418 189h33v18h-33zM1449 189h33v18h-33zM1481 189h33v18h-33zM1512 189h33v18h-33z"/><path fill="rgb(82,82,82)" d="M1228 207h33v18h-33zM1260 207h33v18h-33zM1291 207h33v18h-33zM1323 207h33v18h-33zM1354 207h33v18h-33zM1386 207h33v18h-33zM1418 207h33v18h-33zM1449 207h33v18h-33zM1481 207h33v18h-33zM1512 207h33v18h-33z"/><path fill="rgb(83,83,83)" d="M1134 51h33v18h-33zM1134 33h33v18h-33zM1134 16h33v18h-33zM1165 51h33v18h-33zM1165 33h33v18h-33zM1165 16h33v18h-33zM1197 51h33v18h-33zM1197 33h33v18h-33zM1197 16h33v18h-33z"/><path fill="rgb(84,84,84)" d="M1134 85h33v18h-33zM1134 68h33v18h-33zM1165 85h33v18h-33zM1165 68h33v18h-33zM1197 85h33v18h-33zM1197 68h33v18h-33zM1228 224h33v18h-33zM1260 224h33v18h-33zM1291 224h33v18h-33zM1323 224h33v18h-33zM1354 224h33v18h-33zM1386 224h33v18h-33zM1418 224h33v18h-33zM1449 224h33v18h-33zM1481 224h33v18h-33zM1512 224h33v18h-33z"/><path fill="rgb(85,85,85)" d="M1134 103h33v18h-33zM1165 103h33v18h-33zM1197 103h33v18h-33z"/><path fill="rgb(86,86,86)" d="M1228 241h33v18h-33zM1260 241h33v18h-33zM1291 241h33v18h-33zM1323 241h33v18h-33zM1354 241h33v18h-33zM1386 241h33v18h-33zM1418 241h33v18h-33zM1449 241h33v18h-33zM1481 241h33v18h-33zM1512 241h33v18h-33z"/><path fill="rgb(87,87,87)" d="M1134 120h33v18h-33zM1165 120h33v18h-33zM1197 120h33v18h-33zM1228 259h33v18h-33zM1260 259h33v18h-33zM1291 259h33v18h-33zM1323 259h33v18h-33zM1354 259h33v18h-33zM1386 259h33v18h-33zM1418 259h33v18h-33zM1449 259h33v18h-33zM1481 259h33v18h-33zM1512 259h33v18h-33z"/><path fill="rgb(88,88,88)" d="M1134 137h33v18h-33zM1165 137h33v18h-33zM1197 137h33v18h-33z"/><path fill="rgb(89,89,89)" d="M1134 155h33v18h-33zM1165 155h33v18h-33zM1197 155h33v18h-33zM1228 276h33v18h-33zM1260 276h33v18h-33zM1291 276h33v18h-33zM1323 276h33v18h-33zM1354 276h33v18h-33zM1386 276h33v18h-33zM1418 276h33v18h-33zM1449 276h33v18h-33zM1481 276h33v18h-33zM1512 276h33v18h-33z"/><path fill="rgb(90,90,90)" d="M1134 172h33v18h-33zM1165 172h33v18h-33zM1197 172h33v18h-33z"/><path fill="rgb(91,91,91)" d="M1134 189h33v18h-33zM1165 189h33v18h-33zM1197 189h33v18h-33z"/><path fill="rgb(93,93,93)" d="M1134 207h33v18h-33zM1165 207h33v18h-33zM1197 207h33v18h-33z"/><path fill="rgb(94,94,94)" d="M818 68h33v18h-33zM818 51h33v18h-33zM818 33h33v18h-33zM818 16h33v18h-33zM850 68h33v18h-33zM850 51h33v18h-33zM850 33h33v18h-33zM850 16h33v18h-33zM881 68h33v18h-33zM881 51h33v18h-33zM881 33h33v18h-33zM881 16h33v18h-33zM913 68h33v18h-33zM913 51h33v18h-33zM913 33h33v18h-33zM913 16h33v18h-33zM944 68h33v18h-33zM944 51h33v18h-33zM944 33h33v18h-33zM944 16h33v18h-33zM976 68h33v18h-33zM976 51h33v18h-33zM976 33h33v18h-33zM976 16h33v18h-33zM1007 68h33v18h-33zM1007 51h33v18h-33zM1007 33h33v18h-33zM1007 16h33v18h-33zM1039 68h33v18h-33zM1039 51h33v18h-33zM1039 33h33v18h-33zM1039 16h33v18h-33zM1071 68h33v18h-33zM1071 51h33v18h-33zM1071 33h33v18h-33zM1071 16h33v18h-33zM1102 68h33v18h-33zM1102 51h33v18h-33zM1102 33h33v18h-33zM1102 16h33v18h-33z"/><path fill="rgb(95,95,95)" d="M818 103h33v18h-33zM818 85h33v18h-33zM850 103h33v18h-33zM850 85h33v18h-33zM881 103h33v18h-33zM881 85h33v18h-33zM913 103h33v18h-33zM913 85h33v18h-33zM944 103h33v18h-33zM944 85h33v18h-33zM976 103h33v18h-33zM976 85h33v18h-33zM1007 103h33v18h-33zM1007 85h33v18h-33zM1039 103h33v18h-33zM1039 85h33v18h-33zM1071 103h33v18h-33zM1071 85h33v18h-33zM1102 103h33v18h-33zM1102 85h33v18h-33zM1134 224h33v18h-33zM1165 224h33v18h-33zM1197 224h33v18h-33z"/><path fill="rgb(96,96,96)" d="M1134 241h33v18h-33zM1165 241h33v18h-33zM1197 241h33v18h-33z"/><path fill="rgb(97,97,97)" d="M818 120h33v18h-33zM850 120h33v18h-33zM881 120h33v18h-33zM913 120h33v18h-33zM944 120h33v18h-33zM976 120h33v18h-33zM1007 120h33v18h-33zM1039 120h33v18h-33zM1071 120h33v18h-33zM1102 120h33v18h-33z"/><path fill="rgb(98,98,98)" d="M818 137h33v18h-33zM850 137h33v18h-33zM881 137h33v18h-33zM913 137h33v18h-33zM944 137h33v18h-33zM976 137h33v18h-33zM1007 137h33v18h-33zM1039 137h33v18h-33zM1071 137h33v18h-33zM1102 137h33v18h-33zM1134 259h33v18h-33zM1165 259h33v18h-33zM1197 259h33v18h-33z"/><path fill="rgb(99,99,99)" d="M818 155h33v18h-33zM850 155h33v18h-33zM881 155h33v18h-33zM913 155h33v18h-33zM944 155h33v18h-33zM976 155h33v18h-33zM1007 155h33v18h-33zM1039 155h33v18h-33zM1071 155h33v18h-33zM1102 155h33v18h-33z"/><path fill="rgb(100,100,100)" d="M1134 276h33v18h-33zM1165 276h33v18h-33zM1197 276h33v18h-33z"/><path fill="rgb(101,101,101)" d="M818 172h33v18h-33zM850 172h33v18h-33zM881 172h33v18h-33zM913 172h33v18h-33zM944 172h33v18h-33zM976 172h33v18h-33zM1007 172h33v18h-33zM1039 172h33v18h-33zM1071 172h33v18h-33zM1102 172h33v18h-33z"/><path fill="rgb(102,102,102)" d="M818 293h33v18h-33zM818 189h33v18h-33zM850 293h33v18h-33zM850 189h33v18h-33zM881 293h33v18h-33zM881 189h33v18h-33zM913 293h33v18h-33zM913 189h33v18h-33zM944 293h33v18h-33zM944 189h33v18h-33zM976 293h33v18h-33zM976 189h33v18h-33zM1007 293h33v18h-33zM1007 189h33v18h-33zM1039 293h33v18h-33zM1039 189h33v18h-33zM1071 293h33v18h-33zM1071 189h33v18h-33zM1102 293h33v18h-33zM1102 189h33v18h-33zM1134 293h33v18h-33zM1165 293h33v18h-33zM1197 293h33v18h-33zM1228 293h33v18h-33zM1260 293h33v18h-33zM1291 293h33v18h-33zM1323 293h33v18h-33zM1354 293h33v18h-33zM1386 293h33v18h-33zM1418 293h33v18h-33zM1449 293h33v18h-33zM1481 293h33v18h-33zM1512 293h33v18h-33z"/><path fill="rgb(103,103,103)" d="M818 311h33v18h-33zM850 311h33v18h-33zM881 311h33v18h-33zM913 311h33v18h-33zM944 311h33v18h-33zM976 311h33v18h-33zM1007 311h33v18h-33zM1039 311h33v18h-33zM1071 311h33v18h-33zM1102 311h33v18h-33zM1134 311h33v18h-33zM1165 311h33v18h-33zM1197 311h33v18h-33zM1228 311h33v18h-33zM1260 311h33v18h-33zM1291 311h33v18h-33zM1323 311h33v18h-33zM1354 311h33v18h-33zM1386 311h33v18h-33zM1418 311h33v18h-33zM1449 311h33v18h-33zM1481 311h33v18h-33zM1512 311h33v18h-33z"/><path fill="rgb(104,104,104)" d="M818 207h33v18h-33zM850 207h33v18h-33zM881 207h33v18h-33zM913 207h33v18h-33zM944 207h33v18h-33zM976 207h33v18h-33zM1007 207h33v18h-33zM1039 207h33v18h-33zM1071 207h33v18h-33zM1102 207h33v18h-33z"/><path fill="rgb(105,105,105)" d="M818 328h33v18h-33zM850 328h33v18h-33zM881 328h33v18h-33zM913 328h33v18h-33zM944 328h33v18h-33zM976 328h33v18h-33zM1007 328h33v18h-33zM1039 328h33v18h-33zM1071 328h33v18h-33zM1102 328h33v18h-33zM1134 328h33v18h-33zM1165 328h33v18h-33zM1197 328h33v18h-33zM1228 328h33v18h-33zM1260 328h33v18h-33zM1291 328h33v18h-33zM1323 328h33v18h-33zM1354 328h33v18h-33zM1386 328h33v18h-33zM1418 328h33v18h-33zM1449 328h33v18h-33zM1481 328h33v18h-33zM1512 328h33v18h-33z"/><path fill="rgb(106,106,106)" d="M818 224h33v18h-33zM850 224h33v18h-33zM881 224h33v18h-33zM913 224h33v18h-33zM944 224h33v18h-33zM976 224h33v18h-33zM1007 224h33v18h-33zM1039 224h33v18h-33zM1071 224h33v18h-33zM1102 224h33v18h-33z"/><path fill="rgb(107,107,107)" d="M818 346h33v18h-33zM850 346h33v18h-33zM881 346h33v18h-33zM913 346h33v18h-33zM944 346h33v18h-33zM976 346h33v18h-33zM1007 346h33v18h-33zM1039 346h33v18h-33zM1071 346h33v18h-33zM1102 346h33v18h-33zM1134 346h33v18h-33zM1165 346h33v18h-33zM1197 346h33v18h-33zM1228 346h33v18h-33zM1260 346h33v18h-33zM1291 346h33v18h-33zM1323 346h33v18h-33zM1354 346h33v18h-33zM1386 346h33v18h-33zM1418 346h33v18h-33zM1449 346h33v18h-33zM1481 346h33v18h-33zM1512 346h33v18h-33z"/><path fill="rgb(108,108,108)" d="M818 363h33v18h-33zM818 241h33v18h-33zM850 363h33v18h-33zM850 241h33v18h-33zM881 363h33v18h-33zM881 241h33v18h-33zM913 363h33v18h-33zM913 241h33v18h-33zM944 363h33v18h-33zM944 241h33v18h-33zM976 363h33v18h-33zM976 241h33v18h-33zM1007 363h33v18h-33zM1007 241h33v18h-33zM1039 363h33v18h-33zM1039 241h33v18h-33zM1071 363h33v18h-33zM1071 241h33v18h-33zM1102 363h33v18h-33zM1102 241h33v18h-33zM1134 363h33v18h-33zM1165 363h33v18h-33zM1197 363h33v18h-33zM1228 363h33v18h-33zM1260 363h33v18h-33zM1291 363h33v18h-33zM1323 363h33v18h-33zM1354 363h33v18h-33zM1386 363h33v18h-33zM1418 363h33v18h-33zM1449 363h33v18h-33zM1481 363h33v18h-33zM1512 363h33v18h-33z"/><path fill="rgb(109,109,109)" d="M976 380h33v18h-33zM1007 380h33v18h-33zM1039 380h33v18h-33zM1071 380h33v18h-33zM1102 380h33v18h-33zM1134 380h33v18h-33zM1165 380h33v18h-33zM1197 380h33v18h-33zM1228 380h33v18h-33zM1260 380h33v18h-33zM1291 380h33v18h-33zM1323 380h33v18h-33zM1354 380h33v18h-33zM1386 380h33v18h-33zM1418 380h33v18h-33zM1449 380h33v18h-33zM1481 380h33v18h-33zM1512 380h33v18h-33z"/><path fill="rgb(110,110,110)" d="M818 259h33v18h-33zM850 259h33v18h-33zM881 259h33v18h-33zM913 259h33v18h-33zM944 259h33v18h-33zM976 415h33v18h-33zM976 398h33v18h-33zM976 259h33v18h-33zM1007 415h33v18h-33zM1007 398h33v18h-33zM1007 259h33v18h-33zM1039 415h33v18h-33zM1039 398h33v18h-33zM1039 259h33v18h-33zM1071 415h33v18h-33zM1071 398h33v18h-33zM1071 259h33v18h-33zM1102 415h33v18h-33zM1102 398h33v18h-33zM1102 259h33v18h-33zM1134 415h33v18h-33zM1134 398h33v18h-33zM1165 415h33v18h-33zM1165 398h33v18h-33zM1197 415h33v18h-33zM1197 398h33v18h-33zM1228 415h33v18h-33zM1228 398h33v18h-33zM1260 415h33v18h-33zM1260 398h33v18h-33zM1291 415h33v18h-33zM1291 398h33v18h-33zM1323 415h33v18h-33zM1323 398h33v18h-33zM1354 415h33v18h-33zM1354 398h33v18h-33zM1386 415h33v18h-33zM1386 398h33v18h-33zM1418 415h33v18h-33zM1418 398h33v18h-33zM1449 415h33v18h-33zM1449 398h33v18h-33zM1481 415h33v18h-33zM1481 398h33v18h-33zM1512 415h33v18h-33zM1512 398h33v18h-33z"/><path fill="rgb(111,111,111)" d="M976 432h33v18h-33zM1007 432h33v18h-33zM1039 432h33v18h-33zM1071 432h33v18h-33zM1102 432h33v18h-33zM1134 432h33v18h-33zM1165 432h33v18h-33zM1197 432h33v18h-33zM1228 432h33v18h-33zM1260 432h33v18h-33zM1291 432h33v18h-33zM1323 432h33v18h-33zM1354 432h33v18h-33zM1386 432h33v18h-33zM1418 432h33v18h-33zM1449 432h33v18h-33zM1481 432h33v18h-33zM1512 432h33v18h-33z"/><path fill="rgb(112,112,112)" d="M818 276h33v18h-33zM850 276h33v18h-33zM881 276h33v18h-33zM913 276h33v18h-33zM944 276h33v18h-33zM976 276h33v18h-33zM1007 276h33v18h-33zM1039 276h33v18h-33zM1071 276h33v18h-33zM1102 276h33v18h-33z"/><path fill="rgb(113,113,113)" d="M976 450h33v18h-33zM1007 450h33v18h-33zM1039 450h33v18h-33zM1071 450h33v18h-33zM1102 450h33v18h-33zM1134 450h33v18h-33zM1165 450h33v18h-33zM1197 450h33v18h-33zM1228 450h33v18h-33zM1260 450h33v18h-33zM1291 450h33v18h-33zM1323 450h33v18h-33zM1354 450h33v18h-33zM1386 450h33v18h-33zM1418 450h33v18h-33zM1449 450h33v18h-33zM1481 450h33v18h-33zM1512 450h33v18h-33z"/><path fill="rgb(114,114,114)" d="M976 519h33v18h-33zM976 502h33v18h-33zM976 484h33v18h-33zM976 467h33v18h-33zM1007 519h33v18h-33zM1007 502h33v18h-33zM1007 484h33v18h-33zM1007 467h33v18h-33zM1039 519h33v18h-33zM1039 502h33v18h-33zM1039 484h33v18h-33zM1039 467h33v18h-33zM1071 519h33v18h-33zM1071 502h33v18h-33zM1071 484h33v18h-33zM1071 467h33v18h-33zM1102 519h33v18h-33zM1102 502h33v18h-33zM1102 484h33v18h-33zM1102 467h33v18h-33zM1134 519h33v18h-33zM1134 502h33v18h-33zM1134 484h33v18h-33zM1134 467h33v18h-33zM1165 519h33v18h-33zM1165 502h33v18h-33zM1165 484h33v18h-33zM1165 467h33v18h-33zM1197 519h33v18h-33zM1197 502h33v18h-33zM1197 484h33v18h-33zM1197 467h33v18h-33zM1228 519h33v18h-33zM1228 502h33v18h-33zM1228 484h33v18h-33zM1228 467h33v18h-33zM1260 519h33v18h-33zM1260 502h33v18h-33zM1260 484h33v18h-33zM1260 467h33v18h-33zM1291 519h33v18h-33zM1291 502h33v18h-33zM1291 484h33v18h-33zM1291 467h33v18h-33zM1323 519h33v18h-33zM1323 502h33v18h-33zM1323 484h33v18h-33zM1323 467h33v18h-33zM1354 519h33v18h-33zM1354 502h33v18h-33zM1354 484h33v18h-33zM1354 467h33v18h-33zM1386 519h33v18h-33zM1386 502h33v18h-33zM1386 484h33v18h-33zM1386 467h33v18h-33zM1418 519h33v18h-33zM1418 502h33v18h-33zM1418 484h33v18h-33zM1418 467h33v18h-33zM1449 519h33v18h-33zM1449 502h33v18h-33zM1449 484h33v18h-33zM1449 467h33v18h-33zM1481 519h33v18h-33zM1481 502h33v18h-33zM1481 484h33v18h-33zM1481 467h33v18h-33zM1512 519h33v18h-33zM1512 502h33v18h-33zM1512 484h33v18h-33zM1512 467h33v18h-33z"/></g><g filter="url(#nB)"><path fill="rgb(62,62,62)" d="M818 68h33v18h-33zM818 51h33v18h-33zM818 33h33v18h-33zM818 16h33v18h-33zM850 68h33v18h-33zM850 51h33v18h-33zM850 33h33v18h-33zM850 16h33v18h-33zM881 68h33v18h-33zM881 51h33v18h-33zM881 33h33v18h-33zM881 16h33v18h-33zM913 68h33v18h-33zM913 51h33v18h-33zM913 33h33v18h-33zM913 16h33v18h-33zM944 68h33v18h-33zM944 51h33v18h-33zM944 33h33v18h-33zM944 16h33v18h-33zM976 68h33v18h-33zM976 51h33v18h-33zM976 33h33v18h-33zM976 16h33v18h-33zM1007 68h33v18h-33zM1007 51h33v18h-33zM1007 33h33v18h-33zM1007 16h33v18h-33zM1039 68h33v18h-33zM1039 51h33v18h-33zM1039 33h33v18h-33zM1039 16h33v18h-33zM1071 68h33v18h-33zM1071 51h33v18h-33zM1071 33h33v18h-33zM1071 16h33v18h-33zM1102 68h33v18h-33zM1102 51h33v18h-33zM1102 33h33v18h-33zM1102 16h33v18h-33z"/><path fill="rgb(63,63,63)" d="M818 103h33v18h-33zM818 85h33v18h-33zM850 103h33v18h-33zM850 85h33v18h-33zM881 103h33v18h-33zM881 85h33v18h-33zM913 103h33v18h-33zM913 85h33v18h-33zM944 103h33v18h-33zM944 85h33v18h-33zM976 103h33v18h-33zM976 85h33v18h-33zM1007 103h33v18h-33zM1007 85h33v18h-33zM1039 103h33v18h-33zM1039 85h33v18h-33zM1071 103h33v18h-33zM1071 85h33v18h-33zM1102 103h33v18h-33zM1102 85h33v18h-33z"/><path fill="rgb(64,64,64)" d="M818 120h33v18h-33zM850 120h33v18h-33zM881 120h33v18h-33zM913 120h33v18h-33zM944 120h33v18h-33zM976 120h33v18h-33zM1007 120h33v18h-33zM1039 120h33v18h-33zM1071 120h33v18h-33zM1102 120h33v18h-33z"/><path fill="rgb(65,65,65)" d="M818 137h33v18h-33zM850 137h33v18h-33zM881 137h33v18h-33zM913 137h33v18h-33zM944 137h33v18h-33zM976 137h33v18h-33zM1007 137h33v18h-33zM1039 137h33v18h-33zM1071 137h33v18h-33zM1102 137h33v18h-33z"/><path fill="rgb(66,66,66)" d="M818 155h33v18h-33zM850 155h33v18h-33zM881 155h33v18h-33zM913 155h33v18h-33zM944 155h33v18h-33zM976 155h33v18h-33zM1007 155h33v18h-33zM1039 155h33v18h-33zM1071 155h33v18h-33zM1102 155h33v18h-33z"/><path fill="rgb(67,67,67)" d="M818 172h33v18h-33zM850 172h33v18h-33zM881 172h33v18h-33zM913 172h33v18h-33zM944 172h33v18h-33zM976 172h33v18h-33zM1007 172h33v18h-33zM1039 172h33v18h-33zM1071 172h33v18h-33zM1102 172h33v18h-33z"/><path fill="rgb(68,68,68)" d="M818 189h33v18h-33zM850 189h33v18h-33zM881 189h33v18h-33zM913 189h33v18h-33zM944 189h33v18h-33zM976 189h33v18h-33zM1007 189h33v18h-33zM1039 189h33v18h-33zM1071 189h33v18h-33zM1102 189h33v18h-33z"/><path fill="rgb(70,70,70)" d="M818 207h33v18h-33zM850 207h33v18h-33zM881 207h33v18h-33zM913 207h33v18h-33zM944 207h33v18h-33zM976 207h33v18h-33zM1007 207h33v18h-33zM1039 207h33v18h-33zM1071 207h33v18h-33zM1102 207h33v18h-33z"/><path fill="rgb(71,71,71)" d="M818 224h33v18h-33zM850 224h33v18h-33zM881 224h33v18h-33zM913 224h33v18h-33zM944 224h33v18h-33zM976 224h33v18h-33zM1007 224h33v18h-33zM1039 224h33v18h-33zM1071 224h33v18h-33zM1102 224h33v18h-33z"/><path fill="rgb(73,73,73)" d="M818 241h33v18h-33zM850 241h33v18h-33zM881 241h33v18h-33zM913 241h33v18h-33zM944 241h33v18h-33zM976 241h33v18h-33zM1007 241h33v18h-33zM1039 241h33v18h-33zM1071 241h33v18h-33zM1102 241h33v18h-33z"/><path fill="rgb(74,74,74)" d="M818 259h33v18h-33zM850 259h33v18h-33zM881 259h33v18h-33zM913 259h33v18h-33zM944 259h33v18h-33zM976 259h33v18h-33zM1007 259h33v18h-33zM1039 259h33v18h-33zM1071 259h33v18h-33zM1102 259h33v18h-33z"/><path fill="rgb(75,75,75)" d="M1134 51h33v18h-33zM1134 33h33v18h-33zM1134 16h33v18h-33zM1165 51h33v18h-33zM1165 33h33v18h-33zM1165 16h33v18h-33zM1197 51h33v18h-33zM1197 33h33v18h-33zM1197 16h33v18h-33z"/><path fill="rgb(76,76,76)" d="M818 276h33v18h-33zM850 276h33v18h-33zM881 276h33v18h-33zM913 276h33v18h-33zM944 276h33v18h-33zM976 276h33v18h-33zM1007 276h33v18h-33zM1039 276h33v18h-33zM1071 276h33v18h-33zM1102 276h33v18h-33zM1134 85h33v18h-33zM1134 68h33v18h-33zM1165 85h33v18h-33zM1165 68h33v18h-33zM1197 85h33v18h-33zM1197 68h33v18h-33z"/><path fill="rgb(77,77,77)" d="M1134 103h33v18h-33zM1165 103h33v18h-33zM1197 103h33v18h-33z"/><path fill="rgb(79,79,79)" d="M1134 120h33v18h-33zM1165 120h33v18h-33zM1197 120h33v18h-33z"/><path fill="rgb(81,81,81)" d="M1134 137h33v18h-33zM1165 137h33v18h-33zM1197 137h33v18h-33z"/><path fill="rgb(82,82,82)" d="M1134 155h33v18h-33zM1165 155h33v18h-33zM1197 155h33v18h-33z"/><path fill="rgb(84,84,84)" d="M1134 172h33v18h-33zM1165 172h33v18h-33zM1197 172h33v18h-33z"/><path fill="rgb(86,86,86)" d="M1134 189h33v18h-33zM1165 189h33v18h-33zM1197 189h33v18h-33zM1228 51h33v18h-33zM1228 33h33v18h-33zM1228 16h33v18h-33zM1260 51h33v18h-33zM1260 33h33v18h-33zM1260 16h33v18h-33zM1291 51h33v18h-33zM1291 33h33v18h-33zM1291 16h33v18h-33zM1323 51h33v18h-33zM1323 33h33v18h-33zM1323 16h33v18h-33zM1354 51h33v18h-33zM1354 33h33v18h-33zM1354 16h33v18h-33zM1386 51h33v18h-33zM1386 33h33v18h-33zM1386 16h33v18h-33zM1418 51h33v18h-33zM1418 33h33v18h-33zM1418 16h33v18h-33zM1449 51h33v18h-33zM1449 33h33v18h-33zM1449 16h33v18h-33zM1481 51h33v18h-33zM1481 33h33v18h-33zM1481 16h33v18h-33zM1512 51h33v18h-33zM1512 33h33v18h-33zM1512 16h33v18h-33z"/><path fill="rgb(87,87,87)" d="M1228 68h33v18h-33zM1260 68h33v18h-33zM1291 68h33v18h-33zM1323 68h33v18h-33zM1354 68h33v18h-33zM1386 68h33v18h-33zM1418 68h33v18h-33zM1449 68h33v18h-33zM1481 68h33v18h-33zM1512 68h33v18h-33z"/><path fill="rgb(88,88,88)" d="M1228 85h33v18h-33zM1260 85h33v18h-33zM1291 85h33v18h-33zM1323 85h33v18h-33zM1354 85h33v18h-33zM1386 85h33v18h-33zM1418 85h33v18h-33zM1449 85h33v18h-33zM1481 85h33v18h-33zM1512 85h33v18h-33z"/><path fill="rgb(89,89,89)" d="M1134 207h33v18h-33zM1165 207h33v18h-33zM1197 207h33v18h-33zM1228 103h33v18h-33zM1260 103h33v18h-33zM1291 103h33v18h-33zM1323 103h33v18h-33zM1354 103h33v18h-33zM1386 103h33v18h-33zM1418 103h33v18h-33zM1449 103h33v18h-33zM1481 103h33v18h-33zM1512 103h33v18h-33z"/><path fill="rgb(90,90,90)" d="M1228 120h33v18h-33zM1260 120h33v18h-33zM1291 120h33v18h-33zM1323 120h33v18h-33zM1354 120h33v18h-33zM1386 120h33v18h-33zM1418 120h33v18h-33zM1449 120h33v18h-33zM1481 120h33v18h-33zM1512 120h33v18h-33z"/><path fill="rgb(91,91,91)" d="M1134 224h33v18h-33zM1165 224h33v18h-33zM1197 224h33v18h-33zM1228 137h33v18h-33zM1260 137h33v18h-33zM1291 137h33v18h-33zM1323 137h33v18h-33zM1354 137h33v18h-33zM1386 137h33v18h-33zM1418 137h33v18h-33zM1449 137h33v18h-33zM1481 137h33v18h-33zM1512 137h33v18h-33z"/><path fill="rgb(92,92,92)" d="M1134 241h33v18h-33zM1165 241h33v18h-33zM1197 241h33v18h-33z"/><path fill="rgb(93,93,93)" d="M1228 155h33v18h-33zM1260 155h33v18h-33zM1291 155h33v18h-33zM1323 155h33v18h-33zM1354 155h33v18h-33zM1386 155h33v18h-33zM1418 155h33v18h-33zM1449 155h33v18h-33zM1481 155h33v18h-33zM1512 155h33v18h-33z"/><path fill="rgb(94,94,94)" d="M1134 259h33v18h-33zM1165 259h33v18h-33zM1197 259h33v18h-33zM1228 172h33v18h-33zM1260 172h33v18h-33zM1291 172h33v18h-33zM1323 172h33v18h-33zM1354 172h33v18h-33zM1386 172h33v18h-33zM1418 172h33v18h-33zM1449 172h33v18h-33zM1481 172h33v18h-33zM1512 172h33v18h-33z"/><path fill="rgb(95,95,95)" d="M1134 276h33v18h-33zM1165 276h33v18h-33zM1197 276h33v18h-33zM1228 189h33v18h-33zM1260 189h33v18h-33zM1291 189h33v18h-33zM1323 189h33v18h-33zM1354 189h33v18h-33zM1386 189h33v18h-33zM1418 189h33v18h-33zM1449 189h33v18h-33zM1481 189h33v18h-33zM1512 189h33v18h-33z"/><path fill="rgb(97,97,97)" d="M818 293h33v18h-33zM850 293h33v18h-33zM881 293h33v18h-33zM913 293h33v18h-33zM944 293h33v18h-33zM976 293h33v18h-33zM1007 293h33v18h-33zM1039 293h33v18h-33zM1071 293h33v18h-33zM1102 293h33v18h-33zM1134 293h33v18h-33zM1165 293h33v18h-33zM1197 293h33v18h-33zM1228 293h33v18h-33zM1228 207h33v18h-33zM1260 293h33v18h-33zM1260 207h33v18h-33zM1291 293h33v18h-33zM1291 207h33v18h-33zM1323 293h33v18h-33zM1323 207h33v18h-33zM1354 293h33v18h-33zM1354 207h33v18h-33zM1386 293h33v18h-33zM1386 207h33v18h-33zM1418 293h33v18h-33zM1418 207h33v18h-33zM1449 293h33v18h-33zM1449 207h33v18h-33zM1481 293h33v18h-33zM1481 207h33v18h-33zM1512 293h33v18h-33zM1512 207h33v18h-33z"/><path fill="rgb(99,99,99)" d="M818 311h33v18h-33zM850 311h33v18h-33zM881 311h33v18h-33zM913 311h33v18h-33zM944 311h33v18h-33zM976 311h33v18h-33zM1007 311h33v18h-33zM1039 311h33v18h-33zM1071 311h33v18h-33zM1102 311h33v18h-33zM1134 311h33v18h-33zM1165 311h33v18h-33zM1197 311h33v18h-33zM1228 311h33v18h-33zM1228 224h33v18h-33zM1260 311h33v18h-33zM1260 224h33v18h-33zM1291 311h33v18h-33zM1291 224h33v18h-33zM1323 311h33v18h-33zM1323 224h33v18h-33zM1354 311h33v18h-33zM1354 224h33v18h-33zM1386 311h33v18h-33zM1386 224h33v18h-33zM1418 311h33v18h-33zM1418 224h33v18h-33zM1449 311h33v18h-33zM1449 224h33v18h-33zM1481 311h33v18h-33zM1481 224h33v18h-33zM1512 311h33v18h-33zM1512 224h33v18h-33z"/><path fill="rgb(101,101,101)" d="M818 328h33v18h-33zM850 328h33v18h-33zM881 328h33v18h-33zM913 328h33v18h-33zM944 328h33v18h-33zM976 328h33v18h-33zM1007 328h33v18h-33zM1039 328h33v18h-33zM1071 328h33v18h-33zM1102 328h33v18h-33zM1134 328h33v18h-33zM1165 328h33v18h-33zM1197 328h33v18h-33zM1228 328h33v18h-33zM1228 241h33v18h-33zM1260 328h33v18h-33zM1260 241h33v18h-33zM1291 328h33v18h-33zM1291 241h33v18h-33zM1323 328h33v18h-33zM1323 241h33v18h-33zM1354 328h33v18h-33zM1354 241h33v18h-33zM1386 328h33v18h-33zM1386 241h33v18h-33zM1418 328h33v18h-33zM1418 241h33v18h-33zM1449 328h33v18h-33zM1449 241h33v18h-33zM1481 328h33v18h-33zM1481 241h33v18h-33zM1512 328h33v18h-33zM1512 241h33v18h-33z"/><path fill="rgb(102,102,102)" d="M818 346h33v18h-33zM850 346h33v18h-33zM881 346h33v18h-33zM913 346h33v18h-33zM944 346h33v18h-33zM976 346h33v18h-33zM1007 346h33v18h-33zM1039 346h33v18h-33zM1071 346h33v18h-33zM1102 346h33v18h-33zM1134 346h33v18h-33zM1165 346h33v18h-33zM1197 346h33v18h-33zM1228 346h33v18h-33zM1228 259h33v18h-33zM1260 346h33v18h-33zM1260 259h33v18h-33zM1291 346h33v18h-33zM1291 259h33v18h-33zM1323 346h33v18h-33zM1323 259h33v18h-33zM1354 346h33v18h-33zM1354 259h33v18h-33zM1386 346h33v18h-33zM1386 259h33v18h-33zM1418 346h33v18h-33zM1418 259h33v18h-33zM1449 346h33v18h-33zM1449 259h33v18h-33zM1481 346h33v18h-33zM1481 259h33v18h-33zM1512 346h33v18h-33zM1512 259h33v18h-33z"/><path fill="rgb(103,103,103)" d="M818 363h33v18h-33zM850 363h33v18h-33zM881 363h33v18h-33zM913 363h33v18h-33zM944 363h33v18h-33zM976 363h33v18h-33zM1007 363h33v18h-33zM1039 363h33v18h-33zM1071 363h33v18h-33zM1102 363h33v18h-33zM1134 363h33v18h-33zM1165 363h33v18h-33zM1197 363h33v18h-33zM1228 363h33v18h-33zM1260 363h33v18h-33zM1291 363h33v18h-33zM1323 363h33v18h-33zM1354 363h33v18h-33zM1386 363h33v18h-33zM1418 363h33v18h-33zM1449 363h33v18h-33zM1481 363h33v18h-33zM1512 363h33v18h-33z"/><path fill="rgb(104,104,104)" d="M976 380h33v18h-33zM1007 380h33v18h-33zM1039 380h33v18h-33zM1071 380h33v18h-33zM1102 380h33v18h-33zM1134 380h33v18h-33zM1165 380h33v18h-33zM1197 380h33v18h-33zM1228 380h33v18h-33zM1228 276h33v18h-33zM1260 380h33v18h-33zM1260 276h33v18h-33zM1291 380h33v18h-33zM1291 276h33v18h-33zM1323 380h33v18h-33zM1323 276h33v18h-33zM1354 380h33v18h-33zM1354 276h33v18h-33zM1386 380h33v18h-33zM1386 276h33v18h-33zM1418 380h33v18h-33zM1418 276h33v18h-33zM1449 380h33v18h-33zM1449 276h33v18h-33zM1481 380h33v18h-33zM1481 276h33v18h-33zM1512 380h33v18h-33zM1512 276h33v18h-33z"/><path fill="rgb(105,105,105)" d="M976 415h33v18h-33zM976 398h33v18h-33zM1007 415h33v18h-33zM1007 398h33v18h-33zM1039 415h33v18h-33zM1039 398h33v18h-33zM1071 415h33v18h-33zM1071 398h33v18h-33zM1102 415h33v18h-33zM1102 398h33v18h-33zM1134 415h33v18h-33zM1134 398h33v18h-33zM1165 415h33v18h-33zM1165 398h33v18h-33zM1197 415h33v18h-33zM1197 398h33v18h-33zM1228 415h33v18h-33zM1228 398h33v18h-33zM1260 415h33v18h-33zM1260 398h33v18h-33zM1291 415h33v18h-33zM1291 398h33v18h-33zM1323 415h33v18h-33zM1323 398h33v18h-33zM1354 415h33v18h-33zM1354 398h33v18h-33zM1386 415h33v18h-33zM1386 398h33v18h-33zM1418 415h33v18h-33zM1418 398h33v18h-33zM1449 415h33v18h-33zM1449 398h33v18h-33zM1481 415h33v18h-33zM1481 398h33v18h-33zM1512 415h33v18h-33zM1512 398h33v18h-33z"/><path fill="rgb(106,106,106)" d="M976 432h33v18h-33zM1007 432h33v18h-33zM1039 432h33v18h-33zM1071 432h33v18h-33zM1102 432h33v18h-33zM1134 432h33v18h-33zM1165 432h33v18h-33zM1197 432h33v18h-33zM1228 432h33v18h-33zM1260 432h33v18h-33zM1291 432h33v18h-33zM1323 432h33v18h-33zM1354 432h33v18h-33zM1386 432h33v18h-33zM1418 432h33v18h-33zM1449 432h33v18h-33zM1481 432h33v18h-33zM1512 432h33v18h-33z"/><path fill="rgb(108,108,108)" d="M976 519h33v18h-33zM976 502h33v18h-33zM976 484h33v18h-33zM976 467h33v18h-33zM976 450h33v18h-33zM1007 519h33v18h-33zM1007 502h33v18h-33zM1007 484h33v18h-33zM1007 467h33v18h-33zM1007 450h33v18h-33zM1039 519h33v18h-33zM1039 502h33v18h-33zM1039 484h33v18h-33zM1039 467h33v18h-33zM1039 450h33v18h-33zM1071 519h33v18h-33zM1071 502h33v18h-33zM1071 484h33v18h-33zM1071 467h33v18h-33zM1071 450h33v18h-33zM1102 519h33v18h-33zM1102 502h33v18h-33zM1102 484h33v18h-33zM1102 467h33v18h-33zM1102 450h33v18h-33zM1134 519h33v18h-33zM1134 502h33v18h-33zM1134 484h33v18h-33zM1134 467h33v18h-33zM1134 450h33v18h-33zM1165 519h33v18h-33zM1165 502h33v18h-33zM1165 484h33v18h-33zM1165 467h33v18h-33zM1165 450h33v18h-33zM1197 519h33v18h-33zM1197 502h33v18h-33zM1197 484h33v18h-33zM1197 467h33v18h-33zM1197 450h33v18h-33zM1228 519h33v18h-33zM1228 502h33v18h-33zM1228 484h33v18h-33zM1228 467h33v18h-33zM1228 450h33v18h-33zM1260 519h33v18h-33zM1260 502h33v18h-33zM1260 484h33v18h-33zM1260 467h33v18h-33zM1260 450h33v18h-33zM1291 519h33v18h-33zM1291 502h33v18h-33zM1291 484h33v18h-33zM1291 467h33v18h-33zM1291 450h33v18h-33zM1323 519h33v18h-33zM1323 502h33v18h-33zM1323 484h33v18h-33zM1323 467h33v18h-33zM1323 450h33v18h-33zM1354 519h33v18h-33zM1354 502h33v18h-33zM1354 484h33v18h-33zM1354 467h33v18h-33zM1354 450h33v18h-33zM1386 519h33v18h-33zM1386 502h33v18h-33zM1386 484h33v18h-33zM1386 467h33v18h-33zM1386 450h33v18h-33zM1418 519h33v18h-33zM1418 502h33v18h-33zM1418 484h33v18h-33zM1418 467h33v18h-33zM1418 450h33v18h-33zM1449 519h33v18h-33zM1449 502h33v18h-33zM1449 484h33v18h-33zM1449 467h33v18h-33zM1449 450h33v18h-33zM1481 519h33v18h-33zM1481 502h33v18h-33zM1481 484h33v18h-33zM1481 467h33v18h-33zM1481 450h33v18h-33zM1512 519h33v18h-33zM1512 502h33v18h-33zM1512 484h33v18h-33zM1512 467h33v18h-33zM1512 450h33v18h-33z"/><path fill="rgb(124,124,124)" d="M818 380h33v18h-33zM850 380h33v18h-33zM881 380h33v18h-33zM913 380h33v18h-33zM944 380h33v18h-33z"/><path fill="rgb(125,125,125)" d="M818 398h33v18h-33zM850 398h33v18h-33zM881 398h33v18h-33zM913 398h33v18h-33zM944 398h33v18h-33z"/><path fill="rgb(126,126,126)" d="M818 432h33v18h-33zM818 415h33v18h-33zM850 432h33v18h-33zM850 415h33v18h-33zM881 432h33v18h-33zM881 415h33v18h-33zM913 432h33v18h-33zM913 415h33v18h-33zM944 432h33v18h-33zM944 415h33v18h-33z"/><path fill="rgb(127,127,127)" d="M818 450h33v18h-33zM850 450h33v18h-33zM881 450h33v18h-33zM913 450h33v18h-33zM944 450h33v18h-33z"/><path fill="rgb(128,128,128)" d="M818 519h33v18h-33zM818 502h33v18h-33zM818 484h33v18h-33zM818 467h33v18h-33zM850 519h33v18h-33zM850 502h33v18h-33zM850 484h33v18h-33zM850 467h33v18h-33zM881 519h33v18h-33zM881 502h33v18h-33zM881 484h33v18h-33zM881 467h33v18h-33zM913 519h33v18h-33zM913 502h33v18h-33zM913 484h33v18h-33zM913 467h33v18h-33zM944 519h33v18h-33zM944 502h33v18h-33zM944 484h33v18h-33zM944 467h33v18h-33z"/></g></g>
<g clip-path="url(#cc)"><g fill="rgb(205, 178, 228)" filter="url(#tb)"><path fill-opacity="0.004" d="M74 696h32v17h-32zM74 679h32v17h-32zM74 663h32v17h-32zM74 647h32v17h-32zM74 630h32v17h-32zM74 614h32v17h-32zM74 598h32v17h-32zM106 696h32v17h-32zM106 679h32v17h-32zM106 663h32v17h-32zM106 647h32v17h-32zM106 630h32v17h-32zM106 614h32v17h-32zM106 598h32v17h-32zM137 696h32v17h-32zM137 679h32v17h-32zM137 663h32v17h-32zM137 647h32v17h-32zM137 630h32v17h-32zM137 614h32v17h-32zM137 598h32v17h-32zM169 696h32v17h-32zM169 679h32v17h-32zM169 663h32v17h-32zM169 647h32v17h-32zM169 630h32v17h-32zM169 614h32v17h-32zM169 598h32v17h-32zM200 696h32v17h-32zM200 679h32v17h-32zM200 663h32v17h-32zM200 647h32v17h-32zM200 630h32v17h-32zM200 614h32v17h-32zM200 598h32v17h-32zM232 696h32v17h-32zM232 679h32v17h-32zM232 663h32v17h-32zM232 647h32v17h-32zM232 630h32v17h-32zM232 614h32v17h-32zM232 598h32v17h-32zM263 696h32v17h-32zM263 679h32v17h-32zM263 663h32v17h-32zM263 647h32v17h-32zM263 630h32v17h-32zM263 614h32v17h-32zM263 598h32v17h-32zM294 696h32v17h-32zM294 679h32v17h-32zM294 663h32v17h-32zM294 647h32v17h-32zM294 630h32v17h-32zM294 614h32v17h-32zM294 598h32v17h-32zM326 696h32v17h-32zM326 679h32v17h-32zM326 663h32v17h-32zM326 647h32v17h-32zM326 630h32v17h-32zM326 614h32v17h-32zM326 598h32v17h-32zM357 696h32v17h-32zM357 679h32v17h-32zM357 663h32v17h-32zM357 647h32v17h-32zM357 630h32v17h-32zM357 614h32v17h-32zM357 598h32v17h-32zM389 696h32v17h-32zM389 679h32v17h-32zM389 663h32v17h-32zM389 647h32v17h-32zM389 630h32v17h-32zM389 614h32v17h-32zM389 598h32v17h-32zM420 696h32v17h-32zM420 679h32v17h-32zM420 663h32v17h-32zM420 647h32v17h-32zM420 630h32v17h-32zM420 614h32v17h-32zM420 598h32v17h-32zM452 696h32v17h-32zM452 679h32v17h-32zM452 663h32v17h-32zM452 647h32v17h-32zM452 630h32v17h-32zM452 614h32v17h-32zM452 598h32v17h-32zM483 696h32v17h-32zM483 679h32v17h-32zM483 663h32v17h-32zM483 647h32v17h-32zM483 630h32v17h-32zM483 614h32v17h-32zM483 598h32v17h-32zM515 696h32v17h-32zM515 679h32v17h-32zM515 663h32v17h-32zM515 647h32v17h-32zM515 630h32v17h-32zM515 614h32v17h-32zM515 598h32v17h-32zM546 696h32v17h-32zM546 679h32v17h-32zM546 663h32v17h-32zM546 647h32v17h-32zM546 630h32v17h-32zM546 614h32v17h-32zM546 598h32v17h-32zM577 696h32v17h-32zM577 679h32v17h-32zM577 663h32v17h-32zM577 647h32v17h-32zM577 630h32v17h-32zM577 614h32v17h-32zM577 598h32v17h-32zM609 696h32v17h-32zM609 679h32v17h-32zM609 663h32v17h-32zM609 647h32v17h-32zM609 630h32v17h-32zM609 614h32v17h-32zM609 598h32v17h-32zM640 696h32v17h-32zM640 679h32v17h-32zM640 663h32v17h-32zM640 647h32v17h-32zM640 630h32v17h-32zM640 614h32v17h-32zM640 598h32v17h-32zM672 696h32v17h-32zM672 679h32v17h-32zM672 663h32v17h-32zM672 647h32v17h-32zM672 630h32v17h-32zM672 614h32v17h-32zM672 598h32v17h-32zM703 696h32v17h-32zM703 679h32v17h-32zM703 663h32v17h-32zM703 647h32v17h-32zM703 630h32v17h-32zM703 614h32v17h-32zM703 598h32v17h-32zM735 696h32v17h-32zM735 679h32v17h-32zM735 663h32v17h-32zM735 647h32v17h-32zM735 630h32v17h-32zM735 614h32v17h-32zM735 598h32v17h-32zM766 696h32v17h-32zM766 679h32v17h-32zM766 663h32v17h-32zM766 647h32v17h-32zM766 630h32v17h-32zM766 614h32v17h-32zM766 598h32v17h-32z"/><path fill-opacity="0.008" d="M74 729h32v17h-32zM74 712h32v17h-32zM106 729h32v17h-32zM106 712h32v17h-32zM137 729h32v17h-32zM137 712h32v17h-32zM169 729h32v17h-32zM169 712h32v17h-32zM200 729h32v17h-32zM200 712h32v17h-32zM232 729h32v17h-32zM232 712h32v17h-32zM263 729h32v17h-32zM263 712h32v17h-32zM294 729h32v17h-32zM294 712h32v17h-32zM326 729h32v17h-32zM326 712h32v17h-32zM357 729h32v17h-32zM357 712h32v17h-32zM389 729h32v17h-32zM389 712h32v17h-32zM420 729h32v17h-32zM420 712h32v17h-32zM452 729h32v17h-32zM452 712h32v17h-32zM483 729h32v17h-32zM483 712h32v17h-32zM515 729h32v17h-32zM515 712h32v17h-32zM546 729h32v17h-32zM546 712h32v17h-32zM577 729h32v17h-32zM577 712h32v17h-32zM609 729h32v17h-32zM609 712h32v17h-32zM640 729h32v17h-32zM640 712h32v17h-32zM672 729h32v17h-32zM672 712h32v17h-32zM703 729h32v17h-32zM703 712h32v17h-32zM735 729h32v17h-32zM735 712h32v17h-32zM766 729h32v17h-32zM766 712h32v17h-32z"/><path fill-opacity="0.012" d="M74 745h32v17h-32zM106 745h32v17h-32zM137 745h32v17h-32zM169 745h32v17h-32zM200 745h32v17h-32zM232 745h32v17h-32zM263 745h32v17h-32zM294 745h32v17h-32zM326 745h32v17h-32zM357 745h32v17h-32zM389 745h32v17h-32zM420 745h32v17h-32zM452 745h32v17h-32zM483 745h32v17h-32zM515 745h32v17h-32zM546 745h32v17h-32zM577 745h32v17h-32zM609 745h32v17h-32zM640 745h32v17h-32zM672 745h32v17h-32zM703 745h32v17h-32zM735 745h32v17h-32zM766 745h32v17h-32z"/><path fill-opacity="0.016" d="M74 761h32v17h-32zM106 761h32v17h-32zM137 761h32v17h-32zM169 761h32v17h-32zM200 761h32v17h-32zM232 761h32v17h-32zM263 761h32v17h-32zM294 761h32v17h-32zM326 761h32v17h-32zM357 761h32v17h-32zM389 761h32v17h-32zM420 761h32v17h-32zM452 761h32v17h-32zM483 761h32v17h-32zM515 761h32v17h-32zM546 761h32v17h-32zM577 761h32v17h-32zM609 761h32v17h-32zM640 761h32v17h-32zM672 761h32v17h-32zM703 761h32v17h-32zM735 761h32v17h-32zM766 761h32v17h-32z"/><path fill-opacity="0.020" d="M74 778h32v17h-32zM106 778h32v17h-32zM137 778h32v17h-32zM169 778h32v17h-32zM200 778h32v17h-32zM232 778h32v17h-32zM263 778h32v17h-32zM294 778h32v17h-32zM326 778h32v17h-32zM357 778h32v17h-32zM389 778h32v17h-32zM420 778h32v17h-32zM452 778h32v17h-32zM483 778h32v17h-32zM515 778h32v17h-32zM546 778h32v17h-32zM577 778h32v17h-32zM609 778h32v17h-32zM640 778h32v17h-32zM672 778h32v17h-32zM703 778h32v17h-32zM735 778h32v17h-32zM766 778h32v17h-32z"/><path fill-opacity="0.027" d="M74 794h32v17h-32zM106 794h32v17h-32zM137 794h32v17h-32zM169 794h32v17h-32zM200 794h32v17h-32zM232 794h32v17h-32zM263 794h32v17h-32zM294 794h32v17h-32zM326 794h32v17h-32zM357 794h32v17h-32zM389 794h32v17h-32zM420 794h32v17h-32zM452 794h32v17h-32zM483 794h32v17h-32zM515 794h32v17h-32zM546 794h32v17h-32zM577 794h32v17h-32zM609 794h32v17h-32zM640 794h32v17h-32zM672 794h32v17h-32zM703 794h32v17h-32zM735 794h32v17h-32zM766 794h32v17h-32z"/><path fill-opacity="0.031" d="M74 810h32v17h-32zM106 810h32v17h-32zM137 810h32v17h-32zM169 810h32v17h-32zM200 810h32v17h-32zM232 810h32v17h-32zM263 810h32v17h-32zM294 810h32v17h-32zM326 810h32v17h-32zM357 810h32v17h-32zM389 810h32v17h-32zM420 810h32v17h-32zM452 810h32v17h-32zM483 810h32v17h-32zM515 810h32v17h-32zM546 810h32v17h-32zM577 810h32v17h-32zM609 810h32v17h-32zM640 810h32v17h-32zM672 810h32v17h-32zM703 810h32v17h-32zM735 810h32v17h-32zM766 810h32v17h-32z"/><path fill-opacity="0.035" d="M74 827h32v17h-32zM106 827h32v17h-32zM137 827h32v17h-32zM169 827h32v17h-32zM200 827h32v17h-32zM232 827h32v17h-32zM263 827h32v17h-32zM294 827h32v17h-32zM326 827h32v17h-32zM357 827h32v17h-32zM389 827h32v17h-32zM420 827h32v17h-32zM452 827h32v17h-32zM483 827h32v17h-32zM515 827h32v17h-32zM546 827h32v17h-32zM577 827h32v17h-32zM609 827h32v17h-32zM640 827h32v17h-32zM672 827h32v17h-32zM703 827h32v17h-32zM735 827h32v17h-32zM766 827h32v17h-32z"/><path fill-opacity="0.043" d="M74 843h32v17h-32zM106 843h32v17h-32zM137 843h32v17h-32zM169 843h32v17h-32zM200 843h32v17h-32zM232 843h32v17h-32zM263 843h32v17h-32zM294 843h32v17h-32zM326 843h32v17h-32zM357 843h32v17h-32zM389 843h32v17h-32zM420 843h32v17h-32zM452 843h32v17h-32zM483 843h32v17h-32zM515 843h32v17h-32zM546 843h32v17h-32zM577 843h32v17h-32zM609 843h32v17h-32zM640 843h32v17h-32zM672 843h32v17h-32zM703 843h32v17h-32zM735 843h32v17h-32zM766 843h32v17h-32z"/><path fill-opacity="0.047" d="M74 859h32v17h-32zM106 859h32v17h-32zM137 859h32v17h-32zM169 859h32v17h-32zM200 859h32v17h-32zM232 859h32v17h-32zM263 859h32v17h-32zM294 859h32v17h-32zM326 859h32v17h-32zM357 859h32v17h-32zM389 859h32v17h-32zM420 859h32v17h-32zM452 859h32v17h-32zM483 859h32v17h-32zM515 859h32v17h-32zM546 859h32v17h-32zM577 859h32v17h-32zM609 859h32v17h-32zM640 859h32v17h-32zM672 859h32v17h-32zM703 859h32v17h-32zM735 859h32v17h-32zM766 859h32v17h-32z"/><path fill-opacity="0.051" d="M74 876h32v17h-32zM106 876h32v17h-32zM137 876h32v17h-32zM169 876h32v17h-32zM200 876h32v17h-32zM232 876h32v17h-32zM263 876h32v17h-32zM294 876h32v17h-32zM326 876h32v17h-32zM357 876h32v17h-32zM389 876h32v17h-32zM420 876h32v17h-32zM452 876h32v17h-32zM483 876h32v17h-32zM515 876h32v17h-32zM546 876h32v17h-32zM577 876h32v17h-32zM609 876h32v17h-32zM640 876h32v17h-32zM672 876h32v17h-32zM703 876h32v17h-32zM735 876h32v17h-32zM766 876h32v17h-32z"/><path fill-opacity="0.063" d="M74 892h32v17h-32zM106 892h32v17h-32zM137 892h32v17h-32zM169 892h32v17h-32zM200 892h32v17h-32zM232 892h32v17h-32zM263 892h32v17h-32zM294 892h32v17h-32zM326 892h32v17h-32zM357 892h32v17h-32zM389 892h32v17h-32zM420 892h32v17h-32zM452 892h32v17h-32zM483 892h32v17h-32zM515 892h32v17h-32zM546 892h32v17h-32zM577 892h32v17h-32zM609 892h32v17h-32zM640 892h32v17h-32zM672 892h32v17h-32zM703 892h32v17h-32zM735 892h32v17h-32zM766 892h32v17h-32z"/><path fill-opacity="0.071" d="M74 941h32v17h-32zM106 941h32v17h-32zM137 941h32v17h-32zM169 941h32v17h-32zM200 941h32v17h-32z"/><path fill-opacity="0.075" d="M74 957h32v17h-32zM106 957h32v17h-32zM137 957h32v17h-32zM169 957h32v17h-32zM200 957h32v17h-32z"/><path fill-opacity="0.078" d="M74 974h32v17h-32zM74 908h32v17h-32zM106 974h32v17h-32zM106 908h32v17h-32zM137 974h32v17h-32zM137 908h32v17h-32zM169 974h32v17h-32zM169 908h32v17h-32zM200 974h32v17h-32zM200 908h32v17h-32zM232 908h32v17h-32zM263 908h32v17h-32zM294 908h32v17h-32zM326 908h32v17h-32zM357 908h32v17h-32zM389 908h32v17h-32zM420 908h32v17h-32zM452 908h32v17h-32zM483 908h32v17h-32zM515 908h32v17h-32zM546 908h32v17h-32zM577 908h32v17h-32zM609 908h32v17h-32zM640 908h32v17h-32zM672 908h32v17h-32zM703 908h32v17h-32zM735 908h32v17h-32zM766 908h32v17h-32z"/><path fill-opacity="0.082" d="M74 990h32v17h-32zM106 990h32v17h-32zM137 990h32v17h-32zM169 990h32v17h-32zM200 990h32v17h-32z"/><path fill-opacity="0.086" d="M74 925h32v17h-32zM106 925h32v17h-32zM137 925h32v17h-32zM169 925h32v17h-32zM200 925h32v17h-32zM232 925h32v17h-32zM263 925h32v17h-32zM294 925h32v17h-32zM326 925h32v17h-32zM357 925h32v17h-32zM389 925h32v17h-32zM420 925h32v17h-32zM452 925h32v17h-32zM483 925h32v17h-32zM515 925h32v17h-32zM546 925h32v17h-32zM577 925h32v17h-32zM609 925h32v17h-32zM640 925h32v17h-32zM672 925h32v17h-32zM703 925h32v17h-32zM735 925h32v17h-32zM766 925h32v17h-32z"/><path fill-opacity="0.090" d="M74 1072h32v17h-32zM74 1055h32v17h-32zM74 1039h32v17h-32zM74 1023h32v17h-32zM74 1006h32v17h-32zM106 1072h32v17h-32zM106 1055h32v17h-32zM106 1039h32v17h-32zM106 1023h32v17h-32zM106 1006h32v17h-32zM137 1072h32v17h-32zM137 1055h32v17h-32zM137 1039h32v17h-32zM137 1023h32v17h-32zM137 1006h32v17h-32zM169 1072h32v17h-32zM169 1055h32v17h-32zM169 1039h32v17h-32zM169 1023h32v17h-32zM169 1006h32v17h-32zM200 1072h32v17h-32zM200 1055h32v17h-32zM200 1039h32v17h-32zM200 1023h32v17h-32zM200 1006h32v17h-32z"/><path fill-opacity="0.094" d="M232 941h32v17h-32zM263 941h32v17h-32zM294 941h32v17h-32zM326 941h32v17h-32zM357 941h32v17h-32zM389 941h32v17h-32zM420 941h32v17h-32zM452 941h32v17h-32zM483 941h32v17h-32zM515 941h32v17h-32zM546 941h32v17h-32zM577 941h32v17h-32zM609 941h32v17h-32zM640 941h32v17h-32zM672 941h32v17h-32zM703 941h32v17h-32zM735 941h32v17h-32zM766 941h32v17h-32z"/><path fill-opacity="0.106" d="M232 957h32v17h-32zM263 957h32v17h-32zM294 957h32v17h-32zM326 957h32v17h-32zM357 957h32v17h-32zM389 957h32v17h-32zM420 957h32v17h-32zM452 957h32v17h-32zM483 957h32v17h-32zM515 957h32v17h-32zM546 957h32v17h-32zM577 957h32v17h-32zM609 957h32v17h-32zM640 957h32v17h-32zM672 957h32v17h-32zM703 957h32v17h-32zM735 957h32v17h-32zM766 957h32v17h-32z"/><path fill-opacity="0.110" d="M232 974h32v17h-32zM263 974h32v17h-32zM294 974h32v17h-32zM326 974h32v17h-32zM357 974h32v17h-32zM389 974h32v17h-32zM420 974h32v17h-32zM452 974h32v17h-32zM483 974h32v17h-32zM515 974h32v17h-32zM546 974h32v17h-32zM577 974h32v17h-32zM609 974h32v17h-32zM640 974h32v17h-32zM672 974h32v17h-32zM703 974h32v17h-32zM735 974h32v17h-32zM766 974h32v17h-32z"/><path fill-opacity="0.118" d="M232 990h32v17h-32zM263 990h32v17h-32zM294 990h32v17h-32zM326 990h32v17h-32zM357 990h32v17h-32zM389 990h32v17h-32zM420 990h32v17h-32zM452 990h32v17h-32zM483 990h32v17h-32zM515 990h32v17h-32zM546 990h32v17h-32zM577 990h32v17h-32zM609 990h32v17h-32zM640 990h32v17h-32zM672 990h32v17h-32zM703 990h32v17h-32zM735 990h32v17h-32zM766 990h32v17h-32z"/><path fill-opacity="0.125" d="M232 1072h32v17h-32zM232 1055h32v17h-32zM232 1039h32v17h-32zM232 1023h32v17h-32zM232 1006h32v17h-32zM263 1072h32v17h-32zM263 1055h32v17h-32zM263 1039h32v17h-32zM263 1023h32v17h-32zM263 1006h32v17h-32zM294 1072h32v17h-32zM294 1055h32v17h-32zM294 1039h32v17h-32zM294 1023h32v17h-32zM294 1006h32v17h-32zM326 1072h32v17h-32zM326 1055h32v17h-32zM326 1039h32v17h-32zM326 1023h32v17h-32zM326 1006h32v17h-32zM357 1072h32v17h-32zM357 1055h32v17h-32zM357 1039h32v17h-32zM357 1023h32v17h-32zM357 1006h32v17h-32zM389 1072h32v17h-32zM389 1055h32v17h-32zM389 1039h32v17h-32zM389 1023h32v17h-32zM389 1006h32v17h-32zM420 1072h32v17h-32zM420 1055h32v17h-32zM420 1039h32v17h-32zM420 1023h32v17h-32zM420 1006h32v17h-32zM452 1072h32v17h-32zM452 1055h32v17h-32zM452 1039h32v17h-32zM452 1023h32v17h-32zM452 1006h32v17h-32zM483 1072h32v17h-32zM483 1055h32v17h-32zM483 1039h32v17h-32zM483 1023h32v17h-32zM483 1006h32v17h-32zM515 1072h32v17h-32zM515 1055h32v17h-32zM515 1039h32v17h-32zM515 1023h32v17h-32zM515 1006h32v17h-32zM546 1072h32v17h-32zM546 1055h32v17h-32zM546 1039h32v17h-32zM546 1023h32v17h-32zM546 1006h32v17h-32zM577 1072h32v17h-32zM577 1055h32v17h-32zM577 1039h32v17h-32zM577 1023h32v17h-32zM577 1006h32v17h-32zM609 1072h32v17h-32zM609 1055h32v17h-32zM609 1039h32v17h-32zM609 1023h32v17h-32zM609 1006h32v17h-32zM640 1072h32v17h-32zM640 1055h32v17h-32zM640 1039h32v17h-32zM640 1023h32v17h-32zM640 1006h32v17h-32zM672 1072h32v17h-32zM672 1055h32v17h-32zM672 1039h32v17h-32zM672 1023h32v17h-32zM672 1006h32v17h-32zM703 1072h32v17h-32zM703 1055h32v17h-32zM703 1039h32v17h-32zM703 1023h32v17h-32zM703 1006h32v17h-32zM735 1072h32v17h-32zM735 1055h32v17h-32zM735 1039h32v17h-32zM735 1023h32v17h-32zM735 1006h32v17h-32zM766 1072h32v17h-32zM766 1055h32v17h-32zM766 1039h32v17h-32zM766 1023h32v17h-32zM766 1006h32v17h-32z"/></g><g filter="url(#nR)"><path fill="rgb(55,55,55)" d="M74 941h32v17h-32zM106 941h32v17h-32zM137 941h32v17h-32zM169 941h32v17h-32zM200 941h32v17h-32z"/><path fill="rgb(56,56,56)" d="M74 974h32v17h-32zM74 957h32v17h-32zM106 974h32v17h-32zM106 957h32v17h-32zM137 974h32v17h-32zM137 957h32v17h-32zM169 974h32v17h-32zM169 957h32v17h-32zM200 974h32v17h-32zM200 957h32v17h-32z"/><path fill="rgb(57,57,57)" d="M74 1072h32v17h-32zM74 1055h32v17h-32zM74 1039h32v17h-32zM74 1023h32v17h-32zM74 1006h32v17h-32zM74 990h32v17h-32zM106 1072h32v17h-32zM106 1055h32v17h-32zM106 1039h32v17h-32zM106 1023h32v17h-32zM106 1006h32v17h-32zM106 990h32v17h-32zM137 1072h32v17h-32zM137 1055h32v17h-32zM137 1039h32v17h-32zM137 1023h32v17h-32zM137 1006h32v17h-32zM137 990h32v17h-32zM169 1072h32v17h-32zM169 1055h32v17h-32zM169 1039h32v17h-32zM169 1023h32v17h-32zM169 1006h32v17h-32zM169 990h32v17h-32zM200 1072h32v17h-32zM200 1055h32v17h-32zM200 1039h32v17h-32zM200 1023h32v17h-32zM200 1006h32v17h-32zM200 990h32v17h-32z"/><path fill="rgb(61,61,61)" d="M294 630h32v17h-32zM294 614h32v17h-32zM294 598h32v17h-32zM326 630h32v17h-32zM326 614h32v17h-32zM326 598h32v17h-32zM357 630h32v17h-32zM357 614h32v17h-32zM357 598h32v17h-32zM389 630h32v17h-32zM389 614h32v17h-32zM389 598h32v17h-32zM420 630h32v17h-32zM420 614h32v17h-32zM420 598h32v17h-32zM452 630h32v17h-32zM452 614h32v17h-32zM452 598h32v17h-32zM483 630h32v17h-32zM483 614h32v17h-32zM483 598h32v17h-32zM515 630h32v17h-32zM515 614h32v17h-32zM515 598h32v17h-32zM546 630h32v17h-32zM546 614h32v17h-32zM546 598h32v17h-32zM577 630h32v17h-32zM577 614h32v17h-32zM577 598h32v17h-32zM609 630h32v17h-32zM609 614h32v17h-32zM609 598h32v17h-32zM640 630h32v17h-32zM640 614h32v17h-32zM640 598h32v17h-32zM672 630h32v17h-32zM672 614h32v17h-32zM672 598h32v17h-32zM703 630h32v17h-32zM703 614h32v17h-32zM703 598h32v17h-32zM735 630h32v17h-32zM735 614h32v17h-32zM735 598h32v17h-32zM766 630h32v17h-32zM766 614h32v17h-32zM766 598h32v17h-32z"/><path fill="rgb(62,62,62)" d="M294 647h32v17h-32zM326 647h32v17h-32zM357 647h32v17h-32zM389 647h32v17h-32zM420 647h32v17h-32zM452 647h32v17h-32zM483 647h32v17h-32zM515 647h32v17h-32zM546 647h32v17h-32zM577 647h32v17h-32zM609 647h32v17h-32zM640 647h32v17h-32zM672 647h32v17h-32zM703 647h32v17h-32zM735 647h32v17h-32zM766 647h32v17h-32z"/><path fill="rgb(64,64,64)" d="M294 663h32v17h-32zM326 663h32v17h-32zM357 663h32v17h-32zM389 663h32v17h-32zM420 663h32v17h-32zM452 663h32v17h-32zM483 663h32v17h-32zM515 663h32v17h-32zM546 663h32v17h-32zM577 663h32v17h-32zM609 663h32v17h-32zM640 663h32v17h-32zM672 663h32v17h-32zM703 663h32v17h-32zM735 663h32v17h-32zM766 663h32v17h-32z"/><path fill="rgb(67,67,67)" d="M294 679h32v17h-32zM326 679h32v17h-32zM357 679h32v17h-32zM389 679h32v17h-32zM420 679h32v17h-32zM452 679h32v17h-32zM483 679h32v17h-32zM515 679h32v17h-32zM546 679h32v17h-32zM577 679h32v17h-32zM609 679h32v17h-32zM640 679h32v17h-32zM672 679h32v17h-32zM703 679h32v17h-32zM735 679h32v17h-32zM766 679h32v17h-32z"/><path fill="rgb(69,69,69)" d="M74 630h32v17h-32zM74 614h32v17h-32zM74 598h32v17h-32zM106 630h32v17h-32zM106 614h32v17h-32zM106 598h32v17h-32zM137 630h32v17h-32zM137 614h32v17h-32zM137 598h32v17h-32zM169 630h32v17h-32zM169 614h32v17h-32zM169 598h32v17h-32zM200 630h32v17h-32zM200 614h32v17h-32zM200 598h32v17h-32zM232 630h32v17h-32zM232 614h32v17h-32zM232 598h32v17h-32zM263 630h32v17h-32zM263 614h32v17h-32zM263 598h32v17h-32z"/><path fill="rgb(70,70,70)" d="M74 647h32v17h-32zM106 647h32v17h-32zM137 647h32v17h-32zM169 647h32v17h-32zM200 647h32v17h-32zM232 647h32v17h-32zM263 647h32v17h-32z"/><path fill="rgb(72,72,72)" d="M294 696h32v17h-32zM326 696h32v17h-32zM357 696h32v17h-32zM389 696h32v17h-32zM420 696h32v17h-32zM452 696h32v17h-32zM483 696h32v17h-32zM515 696h32v17h-32zM546 696h32v17h-32zM577 696h32v17h-32zM609 696h32v17h-32zM640 696h32v17h-32zM672 696h32v17h-32zM703 696h32v17h-32zM735 696h32v17h-32zM766 696h32v17h-32z"/><path fill="rgb(73,73,73)" d="M74 663h32v17h-32zM106 663h32v17h-32zM137 663h32v17h-32zM169 663h32v17h-32zM200 663h32v17h-32zM232 663h32v17h-32zM263 663h32v17h-32z"/><path fill="rgb(76,76,76)" d="M74 679h32v17h-32zM106 679h32v17h-32zM137 679h32v17h-32zM169 679h32v17h-32zM200 679h32v17h-32zM232 679h32v17h-32zM263 679h32v17h-32zM294 712h32v17h-32zM326 712h32v17h-32zM357 712h32v17h-32zM389 712h32v17h-32zM420 712h32v17h-32zM452 712h32v17h-32zM483 712h32v17h-32zM515 712h32v17h-32zM546 712h32v17h-32zM577 712h32v17h-32zM609 712h32v17h-32zM640 712h32v17h-32zM672 712h32v17h-32zM703 712h32v17h-32zM735 712h32v17h-32zM766 712h32v17h-32z"/><path fill="rgb(80,80,80)" d="M74 696h32v17h-32zM106 696h32v17h-32zM137 696h32v17h-32zM169 696h32v17h-32zM200 696h32v17h-32zM232 696h32v17h-32zM263 696h32v17h-32zM294 729h32v17h-32zM326 729h32v17h-32zM357 729h32v17h-32zM389 729h32v17h-32zM420 729h32v17h-32zM452 729h32v17h-32zM483 729h32v17h-32zM515 729h32v17h-32zM546 729h32v17h-32zM577 729h32v17h-32zM609 729h32v17h-32zM640 729h32v17h-32zM672 729h32v17h-32zM703 729h32v17h-32zM735 729h32v17h-32zM766 729h32v17h-32z"/><path fill="rgb(84,84,84)" d="M74 712h32v17h-32zM106 712h32v17h-32zM137 712h32v17h-32zM169 712h32v17h-32zM200 712h32v17h-32zM232 712h32v17h-32zM263 712h32v17h-32zM294 745h32v17h-32zM326 745h32v17h-32zM357 745h32v17h-32zM389 745h32v17h-32zM420 745h32v17h-32zM452 745h32v17h-32zM483 745h32v17h-32zM515 745h32v17h-32zM546 745h32v17h-32zM577 745h32v17h-32zM609 745h32v17h-32zM640 745h32v17h-32zM672 745h32v17h-32zM703 745h32v17h-32zM735 745h32v17h-32zM766 745h32v17h-32z"/><path fill="rgb(88,88,88)" d="M294 761h32v17h-32zM326 761h32v17h-32zM357 761h32v17h-32zM389 761h32v17h-32zM420 761h32v17h-32zM452 761h32v17h-32zM483 761h32v17h-32zM515 761h32v17h-32zM546 761h32v17h-32zM577 761h32v17h-32zM609 761h32v17h-32zM640 761h32v17h-32zM672 761h32v17h-32zM703 761h32v17h-32zM735 761h32v17h-32zM766 761h32v17h-32z"/><path fill="rgb(89,89,89)" d="M74 729h32v17h-32zM106 729h32v17h-32zM137 729h32v17h-32zM169 729h32v17h-32zM200 729h32v17h-32zM232 729h32v17h-32zM263 729h32v17h-32z"/><path fill="rgb(91,91,91)" d="M294 778h32v17h-32zM326 778h32v17h-32zM357 778h32v17h-32zM389 778h32v17h-32zM420 778h32v17h-32zM452 778h32v17h-32zM483 778h32v17h-32zM515 778h32v17h-32zM546 778h32v17h-32zM577 778h32v17h-32zM609 778h32v17h-32zM640 778h32v17h-32zM672 778h32v17h-32zM703 778h32v17h-32zM735 778h32v17h-32zM766 778h32v17h-32z"/><path fill="rgb(92,92,92)" d="M74 745h32v17h-32zM106 745h32v17h-32zM137 745h32v17h-32zM169 745h32v17h-32zM200 745h32v17h-32zM232 745h32v17h-32zM263 745h32v17h-32z"/><path fill="rgb(94,94,94)" d="M294 794h32v17h-32zM326 794h32v17h-32zM357 794h32v17h-32zM389 794h32v17h-32zM420 794h32v17h-32zM452 794h32v17h-32zM483 794h32v17h-32zM515 794h32v17h-32zM546 794h32v17h-32zM577 794h32v17h-32zM609 794h32v17h-32zM640 794h32v17h-32zM672 794h32v17h-32zM703 794h32v17h-32zM735 794h32v17h-32zM766 794h32v17h-32z"/><path fill="rgb(96,96,96)" d="M74 761h32v17h-32zM106 761h32v17h-32zM137 761h32v17h-32zM169 761h32v17h-32zM200 761h32v17h-32zM232 761h32v17h-32zM263 761h32v17h-32zM294 810h32v17h-32zM326 810h32v17h-32zM357 810h32v17h-32zM389 810h32v17h-32zM420 810h32v17h-32zM452 810h32v17h-32zM483 810h32v17h-32zM515 810h32v17h-32zM546 810h32v17h-32zM577 810h32v17h-32zM609 810h32v17h-32zM640 810h32v17h-32zM672 810h32v17h-32zM703 810h32v17h-32zM735 810h32v17h-32zM766 810h32v17h-32z"/><path fill="rgb(98,98,98)" d="M294 827h32v17h-32zM326 827h32v17h-32zM357 827h32v17h-32zM389 827h32v17h-32zM420 827h32v17h-32zM452 827h32v17h-32zM483 827h32v17h-32zM515 827h32v17h-32zM546 827h32v17h-32zM577 827h32v17h-32zM609 827h32v17h-32zM640 827h32v17h-32zM672 827h32v17h-32zM703 827h32v17h-32zM735 827h32v17h-32zM766 827h32v17h-32z"/><path fill="rgb(99,99,99)" d="M74 778h32v17h-32zM106 778h32v17h-32zM137 778h32v17h-32zM169 778h32v17h-32zM200 778h32v17h-32zM232 778h32v17h-32zM263 778h32v17h-32zM294 843h32v17h-32zM326 843h32v17h-32zM357 843h32v17h-32zM389 843h32v17h-32zM420 843h32v17h-32zM452 843h32v17h-32zM483 843h32v17h-32zM515 843h32v17h-32zM546 843h32v17h-32zM577 843h32v17h-32zM609 843h32v17h-32zM640 843h32v17h-32zM672 843h32v17h-32zM703 843h32v17h-32zM735 843h32v17h-32zM766 843h32v17h-32z"/><path fill="rgb(101,101,101)" d="M294 859h32v17h-32zM326 859h32v17h-32zM357 859h32v17h-32zM389 859h32v17h-32zM420 859h32v17h-32zM452 859h32v17h-32zM483 859h32v17h-32zM515 859h32v17h-32zM546 859h32v17h-32zM577 859h32v17h-32zM609 859h32v17h-32zM640 859h32v17h-32zM672 859h32v17h-32zM703 859h32v17h-32zM735 859h32v17h-32zM766 859h32v17h-32z"/><path fill="rgb(102,102,102)" d="M74 794h32v17h-32zM106 794h32v17h-32zM137 794h32v17h-32zM169 794h32v17h-32zM200 794h32v17h-32zM232 794h32v17h-32zM263 794h32v17h-32zM294 876h32v17h-32zM326 876h32v17h-32zM357 876h32v17h-32zM389 876h32v17h-32zM420 876h32v17h-32zM452 876h32v17h-32zM483 876h32v17h-32zM515 876h32v17h-32zM546 876h32v17h-32zM577 876h32v17h-32zM609 876h32v17h-32zM640 876h32v17h-32zM672 876h32v17h-32zM703 876h32v17h-32zM735 876h32v17h-32zM766 876h32v17h-32z"/><path fill="rgb(104,104,104)" d="M294 892h32v17h-32zM326 892h32v17h-32zM357 892h32v17h-32zM389 892h32v17h-32zM420 892h32v17h-32zM452 892h32v17h-32zM483 892h32v17h-32zM515 892h32v17h-32zM546 892h32v17h-32zM577 892h32v17h-32zM609 892h32v17h-32zM640 892h32v17h-32zM672 892h32v17h-32zM703 892h32v17h-32zM735 892h32v17h-32zM766 892h32v17h-32z"/><path fill="rgb(105,105,105)" d="M74 810h32v17h-32zM106 810h32v17h-32zM137 810h32v17h-32zM169 810h32v17h-32zM200 810h32v17h-32zM232 810h32v17h-32zM263 810h32v17h-32z"/><path fill="rgb(106,106,106)" d="M294 908h32v17h-32zM326 908h32v17h-32zM357 908h32v17h-32zM389 908h32v17h-32zM420 908h32v17h-32zM452 908h32v17h-32zM483 908h32v17h-32zM515 908h32v17h-32zM546 908h32v17h-32zM577 908h32v17h-32zM609 908h32v17h-32zM640 908h32v17h-32zM672 908h32v17h-32zM703 908h32v17h-32zM735 908h32v17h-32zM766 908h32v17h-32z"/><path fill="rgb(107,107,107)" d="M74 925h32v17h-32zM74 827h32v17h-32zM106 925h32v17h-32zM106 827h32v17h-32zM137 925h32v17h-32zM137 827h32v17h-32zM169 925h32v17h-32zM169 827h32v17h-32zM200 925h32v17h-32zM200 827h32v17h-32zM232 925h32v17h-32zM232 827h32v17h-32zM263 925h32v17h-32zM263 827h32v17h-32zM294 925h32v17h-32zM326 925h32v17h-32zM357 925h32v17h-32zM389 925h32v17h-32zM420 925h32v17h-32zM452 925h32v17h-32zM483 925h32v17h-32zM515 925h32v17h-32zM546 925h32v17h-32zM577 925h32v17h-32zM609 925h32v17h-32zM640 925h32v17h-32zM672 925h32v17h-32zM703 925h32v17h-32zM735 925h32v17h-32zM766 925h32v17h-32z"/><path fill="rgb(108,108,108)" d="M74 843h32v17h-32zM106 843h32v17h-32zM137 843h32v17h-32zM169 843h32v17h-32zM200 843h32v17h-32zM232 941h32v17h-32zM232 843h32v17h-32zM263 941h32v17h-32zM263 843h32v17h-32zM294 941h32v17h-32zM326 941h32v17h-32zM357 941h32v17h-32zM389 941h32v17h-32zM420 941h32v17h-32zM452 941h32v17h-32zM483 941h32v17h-32zM515 941h32v17h-32zM546 941h32v17h-32zM577 941h32v17h-32zM609 941h32v17h-32zM640 941h32v17h-32zM672 941h32v17h-32zM703 941h32v17h-32zM735 941h32v17h-32zM766 941h32v17h-32z"/><path fill="rgb(109,109,109)" d="M232 990h32v17h-32zM232 974h32v17h-32zM232 957h32v17h-32zM263 990h32v17h-32zM263 974h32v17h-32zM263 957h32v17h-32zM294 990h32v17h-32zM294 974h32v17h-32zM294 957h32v17h-32zM326 990h32v17h-32zM326 974h32v17h-32zM326 957h32v17h-32zM357 990h32v17h-32zM357 974h32v17h-32zM357 957h32v17h-32zM389 990h32v17h-32zM389 974h32v17h-32zM389 957h32v17h-32zM420 990h32v17h-32zM420 974h32v17h-32zM420 957h32v17h-32zM452 990h32v17h-32zM452 974h32v17h-32zM452 957h32v17h-32zM483 990h32v17h-32zM483 974h32v17h-32zM483 957h32v17h-32zM515 990h32v17h-32zM515 974h32v17h-32zM515 957h32v17h-32zM546 990h32v17h-32zM546 974h32v17h-32zM546 957h32v17h-32zM577 990h32v17h-32zM577 974h32v17h-32zM577 957h32v17h-32zM609 990h32v17h-32zM609 974h32v17h-32zM609 957h32v17h-32zM640 990h32v17h-32zM640 974h32v17h-32zM640 957h32v17h-32zM672 990h32v17h-32zM672 974h32v17h-32zM672 957h32v17h-32zM703 990h32v17h-32zM703 974h32v17h-32zM703 957h32v17h-32zM735 990h32v17h-32zM735 974h32v17h-32zM735 957h32v17h-32zM766 990h32v17h-32zM766 974h32v17h-32zM766 957h32v17h-32z"/><path fill="rgb(110,110,110)" d="M74 859h32v17h-32zM106 859h32v17h-32zM137 859h32v17h-32zM169 859h32v17h-32zM200 859h32v17h-32zM232 1072h32v17h-32zM232 1055h32v17h-32zM232 1039h32v17h-32zM232 1023h32v17h-32zM232 1006h32v17h-32zM232 859h32v17h-32zM263 1072h32v17h-32zM263 1055h32v17h-32zM263 1039h32v17h-32zM263 1023h32v17h-32zM263 1006h32v17h-32zM263 859h32v17h-32zM294 1072h32v17h-32zM294 1055h32v17h-32zM294 1039h32v17h-32zM294 1023h32v17h-32zM294 1006h32v17h-32zM326 1072h32v17h-32zM326 1055h32v17h-32zM326 1039h32v17h-32zM326 1023h32v17h-32zM326 1006h32v17h-32zM357 1072h32v17h-32zM357 1055h32v17h-32zM357 1039h32v17h-32zM357 1023h32v17h-32zM357 1006h32v17h-32zM389 1072h32v17h-32zM389 1055h32v17h-32zM389 1039h32v17h-32zM389 1023h32v17h-32zM389 1006h32v17h-32zM420 1072h32v17h-32zM420 1055h32v17h-32zM420 1039h32v17h-32zM420 1023h32v17h-32zM420 1006h32v17h-32zM452 1072h32v17h-32zM452 1055h32v17h-32zM452 1039h32v17h-32zM452 1023h32v17h-32zM452 1006h32v17h-32zM483 1072h32v17h-32zM483 1055h32v17h-32zM483 1039h32v17h-32zM483 1023h32v17h-32zM483 1006h32v17h-32zM515 1072h32v17h-32zM515 1055h32v17h-32zM515 1039h32v17h-32zM515 1023h32v17h-32zM515 1006h32v17h-32zM546 1072h32v17h-32zM546 1055h32v17h-32zM546 1039h32v17h-32zM546 1023h32v17h-32zM546 1006h32v17h-32zM577 1072h32v17h-32zM577 1055h32v17h-32zM577 1039h32v17h-32zM577 1023h32v17h-32zM577 1006h32v17h-32zM609 1072h32v17h-32zM609 1055h32v17h-32zM609 1039h32v17h-32zM609 1023h32v17h-32zM609 1006h32v17h-32zM640 1072h32v17h-32zM640 1055h32v17h-32zM640 1039h32v17h-32zM640 1023h32v17h-32zM640 1006h32v17h-32zM672 1072h32v17h-32zM672 1055h32v17h-32zM672 1039h32v17h-32zM672 1023h32v17h-32zM672 1006h32v17h-32zM703 1072h32v17h-32zM703 1055h32v17h-32zM703 1039h32v17h-32zM703 1023h32v17h-32zM703 1006h32v17h-32zM735 1072h32v17h-32zM735 1055h32v17h-32zM735 1039h32v17h-32zM735 1023h32v17h-32zM735 1006h32v17h-32zM766 1072h32v17h-32zM766 1055h32v17h-32zM766 1039h32v17h-32zM766 1023h32v17h-32zM766 1006h32v17h-32z"/><path fill="rgb(111,111,111)" d="M74 876h32v17h-32zM106 876h32v17h-32zM137 876h32v17h-32zM169 876h32v17h-32zM200 876h32v17h-32zM232 876h32v17h-32zM263 876h32v17h-32z"/><path fill="rgb(114,114,114)" d="M74 892h32v17h-32zM106 892h32v17h-32zM137 892h32v17h-32zM169 892h32v17h-32zM200 892h32v17h-32zM232 892h32v17h-32zM263 892h32v17h-32z"/><path fill="rgb(116,116,116)" d="M74 908h32v17h-32zM106 908h32v17h-32zM137 908h32v17h-32zM169 908h32v17h-32zM200 908h32v17h-32zM232 908h32v17h-32zM263 908h32v17h-32z"/></g><g filter="url(#nB)"><path fill="rgb(50,50,50)" d="M74 630h32v17h-32zM74 614h32v17h-32zM74 598h32v17h-32zM106 630h32v17h-32zM106 614h32v17h-32zM106 598h32v17h-32zM137 630h32v17h-32zM137 614h32v17h-32zM137 598h32v17h-32zM169 630h32v17h-32zM169 614h32v17h-32zM169 598h32v17h-32zM200 630h32v17h-32zM200 614h32v17h-32zM200 598h32v17h-32zM232 630h32v17h-32zM232 614h32v17h-32zM232 598h32v17h-32zM263 630h32v17h-32zM263 614h32v17h-32zM263 598h32v17h-32z"/><path fill="rgb(51,51,51)" d="M74 647h32v17h-32zM106 647h32v17h-32zM137 647h32v17h-32zM169 647h32v17h-32zM200 647h32v17h-32zM232 647h32v17h-32zM263 647h32v17h-32z"/><path fill="rgb(53,53,53)" d="M74 663h32v17h-32zM106 663h32v17h-32zM137 663h32v17h-32zM169 663h32v17h-32zM200 663h32v17h-32zM232 663h32v17h-32zM263 663h32v17h-32z"/><path fill="rgb(54,54,54)" d="M74 679h32v17h-32zM106 679h32v17h-32zM137 679h32v17h-32zM169 679h32v17h-32zM200 679h32v17h-32zM232 679h32v17h-32zM263 679h32v17h-32z"/><path fill="rgb(57,57,57)" d="M74 696h32v17h-32zM106 696h32v17h-32zM137 696h32v17h-32zM169 696h32v17h-32zM200 696h32v17h-32zM232 696h32v17h-32zM263 696h32v17h-32zM294 630h32v17h-32zM294 614h32v17h-32zM294 598h32v17h-32zM326 630h32v17h-32zM326 614h32v17h-32zM326 598h32v17h-32zM357 630h32v17h-32zM357 614h32v17h-32zM357 598h32v17h-32zM389 630h32v17h-32zM389 614h32v17h-32zM389 598h32v17h-32zM420 630h32v17h-32zM420 614h32v17h-32zM420 598h32v17h-32zM452 630h32v17h-32zM452 614h32v17h-32zM452 598h32v17h-32zM483 630h32v17h-32zM483 614h32v17h-32zM483 598h32v17h-32zM515 630h32v17h-32zM515 614h32v17h-32zM515 598h32v17h-32zM546 630h32v17h-32zM546 614h32v17h-32zM546 598h32v17h-32zM577 630h32v17h-32zM577 614h32v17h-32zM577 598h32v17h-32zM609 630h32v17h-32zM609 614h32v17h-32zM609 598h32v17h-32zM640 630h32v17h-32zM640 614h32v17h-32zM640 598h32v17h-32zM672 630h32v17h-32zM672 614h32v17h-32zM672 598h32v17h-32zM703 630h32v17h-32zM703 614h32v17h-32zM703 598h32v17h-32zM735 630h32v17h-32zM735 614h32v17h-32zM735 598h32v17h-32zM766 630h32v17h-32zM766 614h32v17h-32zM766 598h32v17h-32z"/><path fill="rgb(58,58,58)" d="M294 647h32v17h-32zM326 647h32v17h-32zM357 647h32v17h-32zM389 647h32v17h-32zM420 647h32v17h-32zM452 647h32v17h-32zM483 647h32v17h-32zM515 647h32v17h-32zM546 647h32v17h-32zM577 647h32v17h-32zM609 647h32v17h-32zM640 647h32v17h-32zM672 647h32v17h-32zM703 647h32v17h-32zM735 647h32v17h-32zM766 647h32v17h-32z"/><path fill="rgb(60,60,60)" d="M74 712h32v17h-32zM106 712h32v17h-32zM137 712h32v17h-32zM169 712h32v17h-32zM200 712h32v17h-32zM232 712h32v17h-32zM263 712h32v17h-32zM294 663h32v17h-32zM326 663h32v17h-32zM357 663h32v17h-32zM389 663h32v17h-32zM420 663h32v17h-32zM452 663h32v17h-32zM483 663h32v17h-32zM515 663h32v17h-32zM546 663h32v17h-32zM577 663h32v17h-32zM609 663h32v17h-32zM640 663h32v17h-32zM672 663h32v17h-32zM703 663h32v17h-32zM735 663h32v17h-32zM766 663h32v17h-32z"/><path fill="rgb(62,62,62)" d="M294 679h32v17h-32zM326 679h32v17h-32zM357 679h32v17h-32zM389 679h32v17h-32zM420 679h32v17h-32zM452 679h32v17h-32zM483 679h32v17h-32zM515 679h32v17h-32zM546 679h32v17h-32zM577 679h32v17h-32zM609 679h32v17h-32zM640 679h32v17h-32zM672 679h32v17h-32zM703 679h32v17h-32zM735 679h32v17h-32zM766 679h32v17h-32z"/><path fill="rgb(63,63,63)" d="M74 729h32v17h-32zM106 729h32v17h-32zM137 729h32v17h-32zM169 729h32v17h-32zM200 729h32v17h-32zM232 729h32v17h-32zM263 729h32v17h-32z"/><path fill="rgb(66,66,66)" d="M74 745h32v17h-32zM106 745h32v17h-32zM137 745h32v17h-32zM169 745h32v17h-32zM200 745h32v17h-32zM232 745h32v17h-32zM263 745h32v17h-32zM294 696h32v17h-32zM326 696h32v17h-32zM357 696h32v17h-32zM389 696h32v17h-32zM420 696h32v17h-32zM452 696h32v17h-32zM483 696h32v17h-32zM515 696h32v17h-32zM546 696h32v17h-32zM577 696h32v17h-32zM609 696h32v17h-32zM640 696h32v17h-32zM672 696h32v17h-32zM703 696h32v17h-32zM735 696h32v17h-32zM766 696h32v17h-32z"/><path fill="rgb(69,69,69)" d="M74 761h32v17h-32zM106 761h32v17h-32zM137 761h32v17h-32zM169 761h32v17h-32zM200 761h32v17h-32zM232 761h32v17h-32zM263 761h32v17h-32zM294 712h32v17h-32zM326 712h32v17h-32zM357 712h32v17h-32zM389 712h32v17h-32zM420 712h32v17h-32zM452 712h32v17h-32zM483 712h32v17h-32zM515 712h32v17h-32zM546 712h32v17h-32zM577 712h32v17h-32zM609 712h32v17h-32zM640 712h32v17h-32zM672 712h32v17h-32zM703 712h32v17h-32zM735 712h32v17h-32zM766 712h32v17h-32z"/><path fill="rgb(72,72,72)" d="M74 778h32v17h-32zM106 778h32v17h-32zM137 778h32v17h-32zM169 778h32v17h-32zM200 778h32v17h-32zM232 778h32v17h-32zM263 778h32v17h-32zM294 729h32v17h-32zM326 729h32v17h-32zM357 729h32v17h-32zM389 729h32v17h-32zM420 729h32v17h-32zM452 729h32v17h-32zM483 729h32v17h-32zM515 729h32v17h-32zM546 729h32v17h-32zM577 729h32v17h-32zM609 729h32v17h-32zM640 729h32v17h-32zM672 729h32v17h-32zM703 729h32v17h-32zM735 729h32v17h-32zM766 729h32v17h-32z"/><path fill="rgb(75,75,75)" d="M74 794h32v17h-32zM106 794h32v17h-32zM137 794h32v17h-32zM169 794h32v17h-32zM200 794h32v17h-32zM232 794h32v17h-32zM263 794h32v17h-32z"/><path fill="rgb(76,76,76)" d="M294 745h32v17h-32zM326 745h32v17h-32zM357 745h32v17h-32zM389 745h32v17h-32zM420 745h32v17h-32zM452 745h32v17h-32zM483 745h32v17h-32zM515 745h32v17h-32zM546 745h32v17h-32zM577 745h32v17h-32zM609 745h32v17h-32zM640 745h32v17h-32zM672 745h32v17h-32zM703 745h32v17h-32zM735 745h32v17h-32zM766 745h32v17h-32z"/><path fill="rgb(77,77,77)" d="M74 810h32v17h-32zM106 810h32v17h-32zM137 810h32v17h-32zM169 810h32v17h-32zM200 810h32v17h-32zM232 810h32v17h-32zM263 810h32v17h-32z"/><path fill="rgb(79,79,79)" d="M74 827h32v17h-32zM106 827h32v17h-32zM137 827h32v17h-32zM169 827h32v17h-32zM200 827h32v17h-32zM232 827h32v17h-32zM263 827h32v17h-32z"/><path fill="rgb(81,81,81)" d="M294 761h32v17h-32zM326 761h32v17h-32zM357 761h32v17h-32zM389 761h32v17h-32zM420 761h32v17h-32zM452 761h32v17h-32zM483 761h32v17h-32zM515 761h32v17h-32zM546 761h32v17h-32zM577 761h32v17h-32zM609 761h32v17h-32zM640 761h32v17h-32zM672 761h32v17h-32zM703 761h32v17h-32zM735 761h32v17h-32zM766 761h32v17h-32z"/><path fill="rgb(82,82,82)" d="M74 843h32v17h-32zM106 843h32v17h-32zM137 843h32v17h-32zM169 843h32v17h-32zM200 843h32v17h-32zM232 843h32v17h-32zM263 843h32v17h-32z"/><path fill="rgb(83,83,83)" d="M74 859h32v17h-32zM106 859h32v17h-32zM137 859h32v17h-32zM169 859h32v17h-32zM200 859h32v17h-32zM232 859h32v17h-32zM263 859h32v17h-32z"/><path fill="rgb(85,85,85)" d="M74 876h32v17h-32zM106 876h32v17h-32zM137 876h32v17h-32zM169 876h32v17h-32zM200 876h32v17h-32zM232 876h32v17h-32zM263 876h32v17h-32z"/><path fill="rgb(86,86,86)" d="M294 778h32v17h-32zM326 778h32v17h-32zM357 778h32v17h-32zM389 778h32v17h-32zM420 778h32v17h-32zM452 778h32v17h-32zM483 778h32v17h-32zM515 778h32v17h-32zM546 778h32v17h-32zM577 778h32v17h-32zM609 778h32v17h-32zM640 778h32v17h-32zM672 778h32v17h-32zM703 778h32v17h-32zM735 778h32v17h-32zM766 778h32v17h-32z"/><path fill="rgb(88,88,88)" d="M74 892h32v17h-32zM106 892h32v17h-32zM137 892h32v17h-32zM169 892h32v17h-32zM200 892h32v17h-32zM232 892h32v17h-32zM263 892h32v17h-32z"/><path fill="rgb(90,90,90)" d="M74 908h32v17h-32zM106 908h32v17h-32zM137 908h32v17h-32zM169 908h32v17h-32zM200 908h32v17h-32zM232 908h32v17h-32zM263 908h32v17h-32zM294 794h32v17h-32zM326 794h32v17h-32zM357 794h32v17h-32zM389 794h32v17h-32zM420 794h32v17h-32zM452 794h32v17h-32zM483 794h32v17h-32zM515 794h32v17h-32zM546 794h32v17h-32zM577 794h32v17h-32zM609 794h32v17h-32zM640 794h32v17h-32zM672 794h32v17h-32zM703 794h32v17h-32zM735 794h32v17h-32zM766 794h32v17h-32z"/><path fill="rgb(92,92,92)" d="M294 810h32v17h-32zM326 810h32v17h-32zM357 810h32v17h-32zM389 810h32v17h-32zM420 810h32v17h-32zM452 810h32v17h-32zM483 810h32v17h-32zM515 810h32v17h-32zM546 810h32v17h-32zM577 810h32v17h-32zM609 810h32v17h-32zM640 810h32v17h-32zM672 810h32v17h-32zM703 810h32v17h-32zM735 810h32v17h-32zM766 810h32v17h-32z"/><path fill="rgb(93,93,93)" d="M294 827h32v17h-32zM326 827h32v17h-32zM357 827h32v17h-32zM389 827h32v17h-32zM420 827h32v17h-32zM452 827h32v17h-32zM483 827h32v17h-32zM515 827h32v17h-32zM546 827h32v17h-32zM577 827h32v17h-32zM609 827h32v17h-32zM640 827h32v17h-32zM672 827h32v17h-32zM703 827h32v17h-32zM735 827h32v17h-32zM766 827h32v17h-32z"/><path fill="rgb(95,95,95)" d="M294 843h32v17h-32zM326 843h32v17h-32zM357 843h32v17h-32zM389 843h32v17h-32zM420 843h32v17h-32zM452 843h32v17h-32zM483 843h32v17h-32zM515 843h32v17h-32zM546 843h32v17h-32zM577 843h32v17h-32zM609 843h32v17h-32zM640 843h32v17h-32zM672 843h32v17h-32zM703 843h32v17h-32zM735 843h32v17h-32zM766 843h32v17h-32z"/><path fill="rgb(96,96,96)" d="M294 859h32v17h-32zM326 859h32v17h-32zM357 859h32v17h-32zM389 859h32v17h-32zM420 859h32v17h-32zM452 859h32v17h-32zM483 859h32v17h-32zM515 859h32v17h-32zM546 859h32v17h-32zM577 859h32v17h-32zM609 859h32v17h-32zM640 859h32v17h-32zM672 859h32v17h-32zM703 859h32v17h-32zM735 859h32v17h-32zM766 859h32v17h-32z"/><path fill="rgb(97,97,97)" d="M294 876h32v17h-32zM326 876h32v17h-32zM357 876h32v17h-32zM389 876h32v17h-32zM420 876h32v17h-32zM452 876h32v17h-32zM483 876h32v17h-32zM515 876h32v17h-32zM546 876h32v17h-32zM577 876h32v17h-32zM609 876h32v17h-32zM640 876h32v17h-32zM672 876h32v17h-32zM703 876h32v17h-32zM735 876h32v17h-32zM766 876h32v17h-32z"/><path fill="rgb(100,100,100)" d="M294 892h32v17h-32zM326 892h32v17h-32zM357 892h32v17h-32zM389 892h32v17h-32zM420 892h32v17h-32zM452 892h32v17h-32zM483 892h32v17h-32zM515 892h32v17h-32zM546 892h32v17h-32zM577 892h32v17h-32zM609 892h32v17h-32zM640 892h32v17h-32zM672 892h32v17h-32zM703 892h32v17h-32zM735 892h32v17h-32zM766 892h32v17h-32z"/><path fill="rgb(101,101,101)" d="M294 908h32v17h-32zM326 908h32v17h-32zM357 908h32v17h-32zM389 908h32v17h-32zM420 908h32v17h-32zM452 908h32v17h-32zM483 908h32v17h-32zM515 908h32v17h-32zM546 908h32v17h-32zM577 908h32v17h-32zM609 908h32v17h-32zM640 908h32v17h-32zM672 908h32v17h-32zM703 908h32v17h-32zM735 908h32v17h-32zM766 908h32v17h-32z"/><path fill="rgb(103,103,103)" d="M74 925h32v17h-32zM106 925h32v17h-32zM137 925h32v17h-32zM169 925h32v17h-32zM200 925h32v17h-32zM232 941h32v17h-32zM232 925h32v17h-32zM263 941h32v17h-32zM263 925h32v17h-32zM294 941h32v17h-32zM294 925h32v17h-32zM326 941h32v17h-32zM326 925h32v17h-32zM357 941h32v17h-32zM357 925h32v17h-32zM389 941h32v17h-32zM389 925h32v17h-32zM420 941h32v17h-32zM420 925h32v17h-32zM452 941h32v17h-32zM452 925h32v17h-32zM483 941h32v17h-32zM483 925h32v17h-32zM515 941h32v17h-32zM515 925h32v17h-32zM546 941h32v17h-32zM546 925h32v17h-32zM577 941h32v17h-32zM577 925h32v17h-32zM609 941h32v17h-32zM609 925h32v17h-32zM640 941h32v17h-32zM640 925h32v17h-32zM672 941h32v17h-32zM672 925h32v17h-32zM703 941h32v17h-32zM703 925h32v17h-32zM735 941h32v17h-32zM735 925h32v17h-32zM766 941h32v17h-32zM766 925h32v17h-32z"/><path fill="rgb(104,104,104)" d="M232 974h32v17h-32zM232 957h32v17h-32zM263 974h32v17h-32zM263 957h32v17h-32zM294 974h32v17h-32zM294 957h32v17h-32zM326 974h32v17h-32zM326 957h32v17h-32zM357 974h32v17h-32zM357 957h32v17h-32zM389 974h32v17h-32zM389 957h32v17h-32zM420 974h32v17h-32zM420 957h32v17h-32zM452 974h32v17h-32zM452 957h32v17h-32zM483 974h32v17h-32zM483 957h32v17h-32zM515 974h32v17h-32zM515 957h32v17h-32zM546 974h32v17h-32zM546 957h32v17h-32zM577 974h32v17h-32zM577 957h32v17h-32zM609 974h32v17h-32zM609 957h32v17h-32zM640 974h32v17h-32zM640 957h32v17h-32zM672 974h32v17h-32zM672 957h32v17h-32zM703 974h32v17h-32zM703 957h32v17h-32zM735 974h32v17h-32zM735 957h32v17h-32zM766 974h32v17h-32zM766 957h32v17h-32z"/><path fill="rgb(105,105,105)" d="M232 1072h32v17h-32zM232 1055h32v17h-32zM232 1039h32v17h-32zM232 1023h32v17h-32zM232 1006h32v17h-32zM232 990h32v17h-32zM263 1072h32v17h-32zM263 1055h32v17h-32zM263 1039h32v17h-32zM263 1023h32v17h-32zM263 1006h32v17h-32zM263 990h32v17h-32zM294 1072h32v17h-32zM294 1055h32v17h-32zM294 1039h32v17h-32zM294 1023h32v17h-32zM294 1006h32v17h-32zM294 990h32v17h-32zM326 1072h32v17h-32zM326 1055h32v17h-32zM326 1039h32v17h-32zM326 1023h32v17h-32zM326 1006h32v17h-32zM326 990h32v17h-32zM357 1072h32v17h-32zM357 1055h32v17h-32zM357 1039h32v17h-32zM357 1023h32v17h-32zM357 1006h32v17h-32zM357 990h32v17h-32zM389 1072h32v17h-32zM389 1055h32v17h-32zM389 1039h32v17h-32zM389 1023h32v17h-32zM389 1006h32v17h-32zM389 990h32v17h-32zM420 1072h32v17h-32zM420 1055h32v17h-32zM420 1039h32v17h-32zM420 1023h32v17h-32zM420 1006h32v17h-32zM420 990h32v17h-32zM452 1072h32v17h-32zM452 1055h32v17h-32zM452 1039h32v17h-32zM452 1023h32v17h-32zM452 1006h32v17h-32zM452 990h32v17h-32zM483 1072h32v17h-32zM483 1055h32v17h-32zM483 1039h32v17h-32zM483 1023h32v17h-32zM483 1006h32v17h-32zM483 990h32v17h-32zM515 1072h32v17h-32zM515 1055h32v17h-32zM515 1039h32v17h-32zM515 1023h32v17h-32zM515 1006h32v17h-32zM515 990h32v17h-32zM546 1072h32v17h-32zM546 1055h32v17h-32zM546 1039h32v17h-32zM546 1023h32v17h-32zM546 1006h32v17h-32zM546 990h32v17h-32zM577 1072h32v17h-32zM577 1055h32v17h-32zM577 1039h32v17h-32zM577 1023h32v17h-32zM577 1006h32v17h-32zM577 990h32v17h-32zM609 1072h32v17h-32zM609 1055h32v17h-32zM609 1039h32v17h-32zM609 1023h32v17h-32zM609 1006h32v17h-32zM609 990h32v17h-32zM640 1072h32v17h-32zM640 1055h32v17h-32zM640 1039h32v17h-32zM640 1023h32v17h-32zM640 1006h32v17h-32zM640 990h32v17h-32zM672 1072h32v17h-32zM672 1055h32v17h-32zM672 1039h32v17h-32zM672 1023h32v17h-32zM672 1006h32v17h-32zM672 990h32v17h-32zM703 1072h32v17h-32zM703 1055h32v17h-32zM703 1039h32v17h-32zM703 1023h32v17h-32zM703 1006h32v17h-32zM703 990h32v17h-32zM735 1072h32v17h-32zM735 1055h32v17h-32zM735 1039h32v17h-32zM735 1023h32v17h-32zM735 1006h32v17h-32zM735 990h32v17h-32zM766 1072h32v17h-32zM766 1055h32v17h-32zM766 1039h32v17h-32zM766 1023h32v17h-32zM766 1006h32v17h-32zM766 990h32v17h-32z"/><path fill="rgb(122,122,122)" d="M74 941h32v17h-32zM106 941h32v17h-32zM137 941h32v17h-32zM169 941h32v17h-32zM200 941h32v17h-32z"/><path fill="rgb(123,123,123)" d="M74 957h32v17h-32zM106 957h32v17h-32zM137 957h32v17h-32zM169 957h32v17h-32zM200 957h32v17h-32z"/><path fill="rgb(124,124,124)" d="M74 974h32v17h-32zM106 974h32v17h-32zM137 974h32v17h-32zM169 974h32v17h-32zM200 974h32v17h-32z"/><path fill="rgb(125,125,125)" d="M74 1006h32v17h-32zM74 990h32v17h-32zM106 1006h32v17h-32zM106 990h32v17h-32zM137 1006h32v17h-32zM137 990h32v17h-32zM169 1006h32v17h-32zM169 990h32v17h-32zM200 1006h32v17h-32zM200 990h32v17h-32z"/><path fill="rgb(126,126,126)" d="M74 1072h32v17h-32zM74 1055h32v17h-32zM74 1039h32v17h-32zM74 1023h32v17h-32zM106 1072h32v17h-32zM106 1055h32v17h-32zM106 1039h32v17h-32zM106 1023h32v17h-32zM137 1072h32v17h-32zM137 1055h32v17h-32zM137 1039h32v17h-32zM137 1023h32v17h-32zM169 1072h32v17h-32zM169 1055h32v17h-32zM169 1039h32v17h-32zM169 1023h32v17h-32zM200 1072h32v17h-32zM200 1055h32v17h-32zM200 1039h32v17h-32zM200 1023h32v17h-32z"/></g></g>
<g clip-path="url(#cd)"><g fill="rgb(205, 178, 228)" filter="url(#tb)"><path fill-opacity="0.004" d="M818 660h33v18h-33zM818 643h33v18h-33zM818 625h33v18h-33zM818 608h33v18h-33zM818 591h33v18h-33zM818 573h33v18h-33zM850 660h33v18h-33zM850 643h33v18h-33zM850 625h33v18h-33zM850 608h33v18h-33zM850 591h33v18h-33zM850 573h33v18h-33zM882 660h33v18h-33zM882 643h33v18h-33zM882 625h33v18h-33zM882 608h33v18h-33zM882 591h33v18h-33zM882 573h33v18h-33zM914 660h33v18h-33zM914 643h33v18h-33zM914 625h33v18h-33zM914 608h33v18h-33zM914 591h33v18h-33zM914 573h33v18h-33zM945 660h33v18h-33zM945 643h33v18h-33zM945 625h33v18h-33zM945 608h33v18h-33zM945 591h33v18h-33zM945 573h33v18h-33zM977 660h33v18h-33zM977 643h33v18h-33zM977 625h33v18h-33zM977 608h33v18h-33zM977 591h33v18h-33zM977 573h33v18h-33zM1009 660h33v18h-33zM1009 643h33v18h-33zM1009 625h33v18h-33zM1009 608h33v18h-33zM1009 591h33v18h-33zM1009 573h33v18h-33zM1040 695h33v18h-33zM1040 678h33v18h-33zM1072 695h33v18h-33zM1072 678h33v18h-33zM1104 695h33v18h-33zM1104 678h33v18h-33zM1136 695h33v18h-33zM1136 678h33v18h-33zM1168 782h33v18h-33zM1168 765h33v18h-33zM1168 747h33v18h-33zM1199 782h33v18h-33zM1199 765h33v18h-33zM1199 747h33v18h-33zM1231 782h33v18h-33zM1231 765h33v18h-33zM1231 747h33v18h-33zM1263 782h33v18h-33zM1263 765h33v18h-33zM1263 747h33v18h-33zM1294 782h33v18h-33zM1294 765h33v18h-33zM1294 747h33v18h-33zM1326 782h33v18h-33zM1326 765h33v18h-33zM1326 747h33v18h-33zM1358 782h33v18h-33zM1358 765h33v18h-33zM1358 747h33v18h-33zM1390 782h33v18h-33zM1390 765h33v18h-33zM1390 747h33v18h-33zM1422 782h33v18h-33zM1422 765h33v18h-33zM1422 747h33v18h-33zM1453 782h33v18h-33zM1453 765h33v18h-33zM1453 747h33v18h-33zM1485 782h33v18h-33zM1485 765h33v18h-33zM1485 747h33v18h-33zM1517 782h33v18h-33zM1517 765h33v18h-33zM1517 747h33v18h-33z"/><path fill-opacity="0.008" d="M818 678h33v18h-33zM850 678h33v18h-33zM882 678h33v18h-33zM914 678h33v18h-33zM945 678h33v18h-33zM977 678h33v18h-33zM1009 678h33v18h-33zM1040 730h33v18h-33zM1040 713h33v18h-33zM1072 730h33v18h-33zM1072 713h33v18h-33zM1104 730h33v18h-33zM1104 713h33v18h-33zM1136 730h33v18h-33zM1136 713h33v18h-33z"/><path fill-opacity="0.012" d="M818 695h33v18h-33zM850 695h33v18h-33zM882 695h33v18h-33zM914 695h33v18h-33zM945 695h33v18h-33zM977 695h33v18h-33zM1009 695h33v18h-33zM1040 747h33v18h-33zM1072 747h33v18h-33zM1104 747h33v18h-33zM1136 747h33v18h-33z"/><path fill-opacity="0.016" d="M818 713h33v18h-33zM850 713h33v18h-33zM882 713h33v18h-33zM914 713h33v18h-33zM945 713h33v18h-33zM977 713h33v18h-33zM1009 713h33v18h-33zM1040 765h33v18h-33zM1072 765h33v18h-33zM1104 765h33v18h-33zM1136 765h33v18h-33z"/><path fill-opacity="0.020" d="M818 730h33v18h-33zM850 730h33v18h-33zM882 730h33v18h-33zM914 730h33v18h-33zM945 730h33v18h-33zM977 730h33v18h-33zM1009 730h33v18h-33zM1040 782h33v18h-33zM1072 782h33v18h-33zM1104 782h33v18h-33zM1136 782h33v18h-33z"/><path fill-opacity="0.024" d="M818 991h33v18h-33zM818 747h33v18h-33zM850 991h33v18h-33zM850 747h33v18h-33zM882 991h33v18h-33zM882 747h33v18h-33zM914 991h33v18h-33zM914 747h33v18h-33zM945 991h33v18h-33zM945 747h33v18h-33zM977 991h33v18h-33zM977 747h33v18h-33zM1009 991h33v18h-33zM1009 747h33v18h-33zM1040 991h33v18h-33zM1072 991h33v18h-33zM1104 991h33v18h-33zM1136 991h33v18h-33zM1168 991h33v18h-33zM1199 991h33v18h-33zM1231 991h33v18h-33zM1263 991h33v18h-33zM1294 991h33v18h-33zM1326 991h33v18h-33zM1358 991h33v18h-33zM1390 991h33v18h-33zM1422 991h33v18h-33zM1453 991h33v18h-33zM1485 991h33v18h-33zM1517 991h33v18h-33z"/><path fill-opacity="0.027" d="M1040 800h33v18h-33zM1072 800h33v18h-33zM1104 800h33v18h-33zM1136 800h33v18h-33zM1168 800h33v18h-33zM1199 800h33v18h-33zM1231 800h33v18h-33zM1263 800h33v18h-33zM1294 800h33v18h-33zM1326 800h33v18h-33zM1358 800h33v18h-33zM1390 800h33v18h-33zM1422 800h33v18h-33zM1453 800h33v18h-33zM1485 800h33v18h-33zM1517 800h33v18h-33z"/><path fill-opacity="0.031" d="M1040 817h33v18h-33zM1072 817h33v18h-33zM1104 817h33v18h-33zM1136 817h33v18h-33zM1168 817h33v18h-33zM1199 817h33v18h-33zM1231 817h33v18h-33zM1263 817h33v18h-33zM1294 817h33v18h-33zM1326 817h33v18h-33zM1358 817h33v18h-33zM1390 817h33v18h-33zM1422 817h33v18h-33zM1453 817h33v18h-33zM1485 817h33v18h-33zM1517 817h33v18h-33z"/><path fill-opacity="0.035" d="M818 765h33v18h-33zM850 765h33v18h-33zM882 765h33v18h-33zM914 765h33v18h-33zM945 765h33v18h-33zM977 765h33v18h-33zM1009 765h33v18h-33z"/><path fill-opacity="0.043" d="M818 782h33v18h-33zM850 782h33v18h-33zM882 782h33v18h-33zM914 782h33v18h-33zM945 782h33v18h-33zM977 782h33v18h-33zM1009 782h33v18h-33zM1040 834h33v18h-33zM1072 834h33v18h-33zM1104 834h33v18h-33zM1136 834h33v18h-33zM1168 834h33v18h-33zM1199 834h33v18h-33zM1231 834h33v18h-33zM1263 834h33v18h-33zM1294 834h33v18h-33zM1326 834h33v18h-33zM1358 834h33v18h-33zM1390 834h33v18h-33zM1422 834h33v18h-33zM1453 834h33v18h-33zM1485 834h33v18h-33zM1517 834h33v18h-33z"/><path fill-opacity="0.047" d="M818 1078h33v18h-33zM818 1061h33v18h-33zM818 1043h33v18h-33zM818 1026h33v18h-33zM818 1008h33v18h-33zM850 1078h33v18h-33zM850 1061h33v18h-33zM850 1043h33v18h-33zM850 1026h33v18h-33zM850 1008h33v18h-33zM882 1078h33v18h-33zM882 1061h33v18h-33zM882 1043h33v18h-33zM882 1026h33v18h-33zM882 1008h33v18h-33zM914 1078h33v18h-33zM914 1061h33v18h-33zM914 1043h33v18h-33zM914 1026h33v18h-33zM914 1008h33v18h-33zM945 1078h33v18h-33zM945 1061h33v18h-33zM945 1043h33v18h-33zM945 1026h33v18h-33zM945 1008h33v18h-33zM977 1078h33v18h-33zM977 1061h33v18h-33zM977 1043h33v18h-33zM977 1026h33v18h-33zM977 1008h33v18h-33zM1009 1078h33v18h-33zM1009 1061h33v18h-33zM1009 1043h33v18h-33zM1009 1026h33v18h-33zM1009 1008h33v18h-33z"/><path fill-opacity="0.051" d="M818 800h33v18h-33zM850 800h33v18h-33zM882 800h33v18h-33zM914 800h33v18h-33zM945 800h33v18h-33zM977 800h33v18h-33zM1009 800h33v18h-33zM1040 852h33v18h-33zM1072 852h33v18h-33zM1104 852h33v18h-33zM1136 852h33v18h-33zM1168 852h33v18h-33zM1199 852h33v18h-33zM1231 852h33v18h-33zM1263 852h33v18h-33zM1294 852h33v18h-33zM1326 852h33v18h-33zM1358 852h33v18h-33zM1390 852h33v18h-33zM1422 852h33v18h-33zM1453 852h33v18h-33zM1485 852h33v18h-33zM1517 852h33v18h-33z"/><path fill-opacity="0.063" d="M1040 869h33v18h-33zM1072 869h33v18h-33zM1104 869h33v18h-33zM1136 869h33v18h-33zM1168 869h33v18h-33zM1199 869h33v18h-33zM1231 869h33v18h-33zM1263 869h33v18h-33zM1294 869h33v18h-33zM1326 869h33v18h-33zM1358 869h33v18h-33zM1390 869h33v18h-33zM1422 869h33v18h-33zM1453 869h33v18h-33zM1485 869h33v18h-33zM1517 869h33v18h-33z"/><path fill-opacity="0.067" d="M818 817h33v18h-33zM850 817h33v18h-33zM882 817h33v18h-33zM914 817h33v18h-33zM945 817h33v18h-33zM977 817h33v18h-33zM1009 817h33v18h-33z"/><path fill-opacity="0.075" d="M818 974h33v18h-33zM850 974h33v18h-33zM882 974h33v18h-33zM914 974h33v18h-33zM945 974h33v18h-33zM977 974h33v18h-33zM1009 974h33v18h-33zM1040 974h33v18h-33zM1072 974h33v18h-33zM1104 974h33v18h-33zM1136 974h33v18h-33zM1168 974h33v18h-33zM1199 974h33v18h-33zM1231 974h33v18h-33zM1263 974h33v18h-33zM1294 974h33v18h-33zM1326 974h33v18h-33zM1358 974h33v18h-33zM1390 974h33v18h-33zM1422 974h33v18h-33zM1453 974h33v18h-33zM1485 974h33v18h-33zM1517 974h33v18h-33z"/><path fill-opacity="0.082" d="M818 834h33v18h-33zM850 834h33v18h-33zM882 834h33v18h-33zM914 834h33v18h-33zM945 834h33v18h-33zM977 834h33v18h-33zM1009 834h33v18h-33z"/><path fill-opacity="0.086" d="M1040 887h33v18h-33zM1072 887h33v18h-33zM1104 887h33v18h-33zM1136 887h33v18h-33zM1168 887h33v18h-33zM1199 887h33v18h-33zM1231 887h33v18h-33zM1263 887h33v18h-33zM1294 887h33v18h-33zM1326 887h33v18h-33zM1358 887h33v18h-33zM1390 887h33v18h-33zM1422 887h33v18h-33zM1453 887h33v18h-33zM1485 887h33v18h-33zM1517 887h33v18h-33z"/><path fill-opacity="0.102" d="M818 852h33v18h-33zM850 852h33v18h-33zM882 852h33v18h-33zM914 852h33v18h-33zM945 852h33v18h-33zM977 852h33v18h-33zM1009 852h33v18h-33z"/><path fill-opacity="0.110" d="M818 904h33v18h-33zM850 904h33v18h-33zM882 904h33v18h-33zM914 904h33v18h-33zM945 904h33v18h-33zM977 904h33v18h-33zM1009 904h33v18h-33zM1040 904h33v18h-33zM1072 904h33v18h-33zM1104 904h33v18h-33zM1136 904h33v18h-33zM1168 904h33v18h-33zM1199 904h33v18h-33zM1231 904h33v18h-33zM1263 904h33v18h-33zM1294 904h33v18h-33zM1326 904h33v18h-33zM1358 904h33v18h-33zM1390 904h33v18h-33zM1422 904h33v18h-33zM1453 904h33v18h-33zM1485 904h33v18h-33zM1517 904h33v18h-33z"/><path fill-opacity="0.118" d="M818 956h33v18h-33zM818 921h33v18h-33zM850 956h33v18h-33zM850 921h33v18h-33zM882 956h33v18h-33zM882 921h33v18h-33zM914 956h33v18h-33zM914 921h33v18h-33zM945 956h33v18h-33zM945 921h33v18h-33zM977 956h33v18h-33zM977 921h33v18h-33zM1009 956h33v18h-33zM1009 921h33v18h-33zM1040 956h33v18h-33zM1040 921h33v18h-33zM1072 956h33v18h-33zM1072 921h33v18h-33zM1104 956h33v18h-33zM1104 921h33v18h-33zM1136 956h33v18h-33zM1136 921h33v18h-33zM1168 956h33v18h-33zM1168 921h33v18h-33zM1199 956h33v18h-33zM1199 921h33v18h-33zM1231 956h33v18h-33zM1231 921h33v18h-33zM1263 956h33v18h-33zM1263 921h33v18h-33zM1294 956h33v18h-33zM1294 921h33v18h-33zM1326 956h33v18h-33zM1326 921h33v18h-33zM1358 956h33v18h-33zM1358 921h33v18h-33zM1390 956h33v18h-33zM1390 921h33v18h-33zM1422 956h33v18h-33zM1422 921h33v18h-33zM1453 956h33v18h-33zM1453 921h33v18h-33zM1485 956h33v18h-33zM1485 921h33v18h-33zM1517 956h33v18h-33zM1517 921h33v18h-33z"/><path fill-opacity="0.125" d="M818 939h33v18h-33zM818 869h33v18h-33zM850 939h33v18h-33zM850 869h33v18h-33zM882 939h33v18h-33zM882 869h33v18h-33zM914 939h33v18h-33zM914 869h33v18h-33zM945 939h33v18h-33zM945 869h33v18h-33zM977 939h33v18h-33zM977 869h33v18h-33zM1009 939h33v18h-33zM1009 869h33v18h-33zM1040 939h33v18h-33zM1072 939h33v18h-33zM1104 939h33v18h-33zM1136 939h33v18h-33zM1168 939h33v18h-33zM1199 939h33v18h-33zM1231 939h33v18h-33zM1263 939h33v18h-33zM1294 939h33v18h-33zM1326 939h33v18h-33zM1358 939h33v18h-33zM1390 939h33v18h-33zM1422 939h33v18h-33zM1453 939h33v18h-33zM1485 939h33v18h-33zM1517 939h33v18h-33z"/><path fill-opacity="0.145" d="M818 887h33v18h-33zM850 887h33v18h-33zM882 887h33v18h-33zM914 887h33v18h-33zM945 887h33v18h-33zM977 887h33v18h-33zM1009 887h33v18h-33z"/></g><g filter="url(#nR)"><path fill="rgb(35,35,35)" d="M1040 1078h33v18h-33zM1040 1061h33v18h-33zM1040 1043h33v18h-33zM1040 1026h33v18h-33zM1072 1078h33v18h-33zM1072 1061h33v18h-33zM1072 1043h33v18h-33zM1072 1026h33v18h-33zM1104 1078h33v18h-33zM1104 1061h33v18h-33zM1104 1043h33v18h-33zM1104 1026h33v18h-33zM1136 1078h33v18h-33zM1136 1061h33v18h-33zM1136 1043h33v18h-33zM1136 1026h33v18h-33zM1168 1078h33v18h-33zM1168 1061h33v18h-33zM1168 1043h33v18h-33zM1168 1026h33v18h-33zM1199 1078h33v18h-33zM1199 1061h33v18h-33zM1199 1043h33v18h-33zM1199 1026h33v18h-33zM1231 1078h33v18h-33zM1231 1061h33v18h-33zM1231 1043h33v18h-33zM1231 1026h33v18h-33zM1263 1078h33v18h-33zM1263 1061h33v18h-33zM1263 1043h33v18h-33zM1263 1026h33v18h-33zM1294 1078h33v18h-33zM1294 1061h33v18h-33zM1294 1043h33v18h-33zM1294 1026h33v18h-33zM1326 1078h33v18h-33zM1326 1061h33v18h-33zM1326 1043h33v18h-33zM1326 1026h33v18h-33zM1358 1078h33v18h-33zM1358 1061h33v18h-33zM1358 1043h33v18h-33zM1358 1026h33v18h-33zM1390 1078h33v18h-33zM1390 1061h33v18h-33zM1390 1043h33v18h-33zM1390 1026h33v18h-33zM1422 1078h33v18h-33zM1422 1061h33v18h-33zM1422 1043h33v18h-33zM1422 1026h33v18h-33zM1453 1078h33v18h-33zM1453 1061h33v18h-33zM1453 1043h33v18h-33zM1453 1026h33v18h-33zM1485 1078h33v18h-33zM1485 1061h33v18h-33zM1485 1043h33v18h-33zM1485 1026h33v18h-33zM1517 1078h33v18h-33zM1517 1061h33v18h-33zM1517 1043h33v18h-33zM1517 1026h33v18h-33z"/><path fill="rgb(39,39,39)" d="M1168 625h33v18h-33zM1168 608h33v18h-33zM1168 591h33v18h-33zM1168 573h33v18h-33zM1199 625h33v18h-33zM1199 608h33v18h-33zM1199 591h33v18h-33zM1199 573h33v18h-33zM1231 625h33v18h-33zM1231 608h33v18h-33zM1231 591h33v18h-33zM1231 573h33v18h-33zM1263 625h33v18h-33zM1263 608h33v18h-33zM1263 591h33v18h-33zM1263 573h33v18h-33zM1294 625h33v18h-33zM1294 608h33v18h-33zM1294 591h33v18h-33zM1294 573h33v18h-33zM1326 625h33v18h-33zM1326 608h33v18h-33zM1326 591h33v18h-33zM1326 573h33v18h-33zM1358 625h33v18h-33zM1358 608h33v18h-33zM1358 591h33v18h-33zM1358 573h33v18h-33zM1390 625h33v18h-33zM1390 608h33v18h-33zM1390 591h33v18h-33zM1390 573h33v18h-33zM1422 625h33v18h-33zM1422 608h33v18h-33zM1422 591h33v18h-33zM1422 573h33v18h-33zM1453 625h33v18h-33zM1453 608h33v18h-33zM1453 591h33v18h-33zM1453 573h33v18h-33zM1485 625h33v18h-33zM1485 608h33v18h-33zM1485 591h33v18h-33zM1485 573h33v18h-33zM1517 625h33v18h-33zM1517 608h33v18h-33zM1517 591h33v18h-33zM1517 573h33v18h-33z"/><path fill="rgb(40,40,40)" d="M1168 643h33v18h-33zM1199 643h33v18h-33zM1231 643h33v18h-33zM1263 643h33v18h-33zM1294 643h33v18h-33zM1326 643h33v18h-33zM1358 643h33v18h-33zM1390 643h33v18h-33zM1422 643h33v18h-33zM1453 643h33v18h-33zM1485 643h33v18h-33zM1517 643h33v18h-33z"/><path fill="rgb(42,42,42)" d="M1168 660h33v18h-33zM1199 660h33v18h-33zM1231 660h33v18h-33zM1263 660h33v18h-33zM1294 660h33v18h-33zM1326 660h33v18h-33zM1358 660h33v18h-33zM1390 660h33v18h-33zM1422 660h33v18h-33zM1453 660h33v18h-33zM1485 660h33v18h-33zM1517 660h33v18h-33z"/><path fill="rgb(46,46,46)" d="M1168 678h33v18h-33zM1199 678h33v18h-33zM1231 678h33v18h-33zM1263 678h33v18h-33zM1294 678h33v18h-33zM1326 678h33v18h-33zM1358 678h33v18h-33zM1390 678h33v18h-33zM1422 678h33v18h-33zM1453 678h33v18h-33zM1485 678h33v18h-33zM1517 678h33v18h-33z"/><path fill="rgb(47,47,47)" d="M818 991h33v18h-33zM850 991h33v18h-33zM882 991h33v18h-33zM914 991h33v18h-33zM945 991h33v18h-33zM977 991h33v18h-33zM1009 991h33v18h-33z"/><path fill="rgb(51,51,51)" d="M1168 695h33v18h-33zM1199 695h33v18h-33zM1231 695h33v18h-33zM1263 695h33v18h-33zM1294 695h33v18h-33zM1326 695h33v18h-33zM1358 695h33v18h-33zM1390 695h33v18h-33zM1422 695h33v18h-33zM1453 695h33v18h-33zM1485 695h33v18h-33zM1517 695h33v18h-33z"/><path fill="rgb(52,52,52)" d="M1040 1008h33v18h-33zM1072 1008h33v18h-33zM1104 1008h33v18h-33zM1136 1008h33v18h-33zM1168 1008h33v18h-33zM1199 1008h33v18h-33zM1231 1008h33v18h-33zM1263 1008h33v18h-33zM1294 1008h33v18h-33zM1326 1008h33v18h-33zM1358 1008h33v18h-33zM1390 1008h33v18h-33zM1422 1008h33v18h-33zM1453 1008h33v18h-33zM1485 1008h33v18h-33zM1517 1008h33v18h-33z"/><path fill="rgb(53,53,53)" d="M818 1078h33v18h-33zM818 1061h33v18h-33zM818 1043h33v18h-33zM818 1026h33v18h-33zM818 1008h33v18h-33zM850 1078h33v18h-33zM850 1061h33v18h-33zM850 1043h33v18h-33zM850 1026h33v18h-33zM850 1008h33v18h-33zM882 1078h33v18h-33zM882 1061h33v18h-33zM882 1043h33v18h-33zM882 1026h33v18h-33zM882 1008h33v18h-33zM914 1078h33v18h-33zM914 1061h33v18h-33zM914 1043h33v18h-33zM914 1026h33v18h-33zM914 1008h33v18h-33zM945 1078h33v18h-33zM945 1061h33v18h-33zM945 1043h33v18h-33zM945 1026h33v18h-33zM945 1008h33v18h-33zM977 1078h33v18h-33zM977 1061h33v18h-33zM977 1043h33v18h-33zM977 1026h33v18h-33zM977 1008h33v18h-33zM1009 1078h33v18h-33zM1009 1061h33v18h-33zM1009 1043h33v18h-33zM1009 1026h33v18h-33zM1009 1008h33v18h-33z"/><path fill="rgb(54,54,54)" d="M1072 625h33v18h-33zM1072 608h33v18h-33zM1072 591h33v18h-33zM1072 573h33v18h-33zM1104 625h33v18h-33zM1104 608h33v18h-33zM1104 591h33v18h-33zM1104 573h33v18h-33zM1136 625h33v18h-33zM1136 608h33v18h-33zM1136 591h33v18h-33zM1136 573h33v18h-33zM1168 713h33v18h-33zM1199 713h33v18h-33zM1231 713h33v18h-33zM1263 713h33v18h-33zM1294 713h33v18h-33zM1326 713h33v18h-33zM1358 713h33v18h-33zM1390 713h33v18h-33zM1422 713h33v18h-33zM1453 713h33v18h-33zM1485 713h33v18h-33zM1517 713h33v18h-33z"/><path fill="rgb(56,56,56)" d="M818 974h33v18h-33zM850 974h33v18h-33zM882 974h33v18h-33zM914 974h33v18h-33zM945 974h33v18h-33zM977 974h33v18h-33zM1009 974h33v18h-33zM1072 643h33v18h-33zM1104 643h33v18h-33zM1136 643h33v18h-33z"/><path fill="rgb(57,57,57)" d="M1168 730h33v18h-33zM1199 730h33v18h-33zM1231 730h33v18h-33zM1263 730h33v18h-33zM1294 730h33v18h-33zM1326 730h33v18h-33zM1358 730h33v18h-33zM1390 730h33v18h-33zM1422 730h33v18h-33zM1453 730h33v18h-33zM1485 730h33v18h-33zM1517 730h33v18h-33z"/><path fill="rgb(58,58,58)" d="M818 956h33v18h-33zM850 956h33v18h-33zM882 956h33v18h-33zM914 956h33v18h-33zM945 956h33v18h-33zM977 956h33v18h-33zM1009 956h33v18h-33zM1072 660h33v18h-33zM1104 660h33v18h-33zM1136 660h33v18h-33z"/><path fill="rgb(59,59,59)" d="M818 939h33v18h-33zM850 939h33v18h-33zM882 939h33v18h-33zM914 939h33v18h-33zM945 939h33v18h-33zM977 939h33v18h-33zM1009 939h33v18h-33z"/><path fill="rgb(60,60,60)" d="M1168 747h33v18h-33zM1199 747h33v18h-33zM1231 747h33v18h-33zM1263 747h33v18h-33zM1294 747h33v18h-33zM1326 747h33v18h-33zM1358 747h33v18h-33zM1390 747h33v18h-33zM1422 747h33v18h-33zM1453 747h33v18h-33zM1485 747h33v18h-33zM1517 747h33v18h-33z"/><path fill="rgb(64,64,64)" d="M1072 678h33v18h-33zM1104 678h33v18h-33zM1136 678h33v18h-33zM1168 765h33v18h-33zM1199 765h33v18h-33zM1231 765h33v18h-33zM1263 765h33v18h-33zM1294 765h33v18h-33zM1326 765h33v18h-33zM1358 765h33v18h-33zM1390 765h33v18h-33zM1422 765h33v18h-33zM1453 765h33v18h-33zM1485 765h33v18h-33zM1517 765h33v18h-33z"/><path fill="rgb(65,65,65)" d="M1040 608h33v18h-33zM1040 591h33v18h-33zM1040 573h33v18h-33z"/><path fill="rgb(67,67,67)" d="M1040 625h33v18h-33z"/><path fill="rgb(68,68,68)" d="M1168 782h33v18h-33zM1199 782h33v18h-33zM1231 782h33v18h-33zM1263 782h33v18h-33zM1294 782h33v18h-33zM1326 782h33v18h-33zM1358 782h33v18h-33zM1390 782h33v18h-33zM1422 782h33v18h-33zM1453 782h33v18h-33zM1485 782h33v18h-33zM1517 782h33v18h-33z"/><path fill="rgb(69,69,69)" d="M1040 643h33v18h-33z"/><path fill="rgb(70,70,70)" d="M1072 695h33v18h-33zM1104 695h33v18h-33zM1136 695h33v18h-33z"/><path fill="rgb(72,72,72)" d="M1040 660h33v18h-33z"/><path fill="rgb(75,75,75)" d="M1072 713h33v18h-33zM1104 713h33v18h-33zM1136 713h33v18h-33z"/><path fill="rgb(78,78,78)" d="M818 608h33v18h-33zM818 591h33v18h-33zM818 573h33v18h-33zM850 608h33v18h-33zM850 591h33v18h-33zM850 573h33v18h-33zM882 608h33v18h-33zM882 591h33v18h-33zM882 573h33v18h-33zM914 608h33v18h-33zM914 591h33v18h-33zM914 573h33v18h-33zM945 608h33v18h-33zM945 591h33v18h-33zM945 573h33v18h-33zM977 608h33v18h-33zM977 591h33v18h-33zM977 573h33v18h-33zM1009 608h33v18h-33zM1009 591h33v18h-33zM1009 573h33v18h-33z"/><path fill="rgb(79,79,79)" d="M818 625h33v18h-33zM850 625h33v18h-33zM882 625h33v18h-33zM914 625h33v18h-33zM945 625h33v18h-33zM977 625h33v18h-33zM1009 625h33v18h-33zM1072 730h33v18h-33zM1104 730h33v18h-33zM1136 730h33v18h-33z"/><path fill="rgb(80,80,80)" d="M1040 678h33v18h-33z"/><path fill="rgb(82,82,82)" d="M818 643h33v18h-33zM850 643h33v18h-33zM882 643h33v18h-33zM914 643h33v18h-33zM945 643h33v18h-33zM977 643h33v18h-33zM1009 643h33v18h-33z"/><path fill="rgb(83,83,83)" d="M1072 747h33v18h-33zM1104 747h33v18h-33zM1136 747h33v18h-33z"/><path fill="rgb(84,84,84)" d="M818 660h33v18h-33zM850 660h33v18h-33zM882 660h33v18h-33zM914 660h33v18h-33zM945 660h33v18h-33zM977 660h33v18h-33zM1009 660h33v18h-33z"/><path fill="rgb(85,85,85)" d="M1040 695h33v18h-33z"/><path fill="rgb(87,87,87)" d="M1072 765h33v18h-33zM1104 765h33v18h-33zM1136 765h33v18h-33z"/><path fill="rgb(90,90,90)" d="M1040 713h33v18h-33z"/><path fill="rgb(91,91,91)" d="M818 678h33v18h-33zM850 678h33v18h-33zM882 678h33v18h-33zM914 678h33v18h-33zM945 678h33v18h-33zM977 678h33v18h-33zM1009 678h33v18h-33zM1072 782h33v18h-33zM1104 782h33v18h-33zM1136 782h33v18h-33z"/><path fill="rgb(94,94,94)" d="M1040 730h33v18h-33zM1072 800h33v18h-33zM1104 800h33v18h-33zM1136 800h33v18h-33zM1168 800h33v18h-33zM1199 800h33v18h-33zM1231 800h33v18h-33zM1263 800h33v18h-33zM1294 800h33v18h-33zM1326 800h33v18h-33zM1358 800h33v18h-33zM1390 800h33v18h-33zM1422 800h33v18h-33zM1453 800h33v18h-33zM1485 800h33v18h-33zM1517 800h33v18h-33z"/><path fill="rgb(96,96,96)" d="M818 695h33v18h-33zM850 695h33v18h-33zM882 695h33v18h-33zM914 695h33v18h-33zM945 695h33v18h-33zM977 695h33v18h-33zM1009 695h33v18h-33zM1072 817h33v18h-33zM1104 817h33v18h-33zM1136 817h33v18h-33zM1168 817h33v18h-33zM1199 817h33v18h-33zM1231 817h33v18h-33zM1263 817h33v18h-33zM1294 817h33v18h-33zM1326 817h33v18h-33zM1358 817h33v18h-33zM1390 817h33v18h-33zM1422 817h33v18h-33zM1453 817h33v18h-33zM1485 817h33v18h-33zM1517 817h33v18h-33z"/><path fill="rgb(97,97,97)" d="M1040 747h33v18h-33z"/><path fill="rgb(99,99,99)" d="M1072 834h33v18h-33zM1104 834h33v18h-33zM1136 834h33v18h-33zM1168 834h33v18h-33zM1199 834h33v18h-33zM1231 834h33v18h-33zM1263 834h33v18h-33zM1294 834h33v18h-33zM1326 834h33v18h-33zM1358 834h33v18h-33zM1390 834h33v18h-33zM1422 834h33v18h-33zM1453 834h33v18h-33zM1485 834h33v18h-33zM1517 834h33v18h-33z"/><path fill="rgb(100,100,100)" d="M1040 991h33v18h-33zM1072 991h33v18h-33zM1104 991h33v18h-33zM1136 991h33v18h-33zM1168 991h33v18h-33zM1199 991h33v18h-33zM1231 991h33v18h-33zM1263 991h33v18h-33zM1294 991h33v18h-33zM1326 991h33v18h-33zM1358 991h33v18h-33zM1390 991h33v18h-33zM1422 991h33v18h-33zM1453 991h33v18h-33zM1485 991h33v18h-33zM1517 991h33v18h-33z"/><path fill="rgb(101,101,101)" d="M818 713h33v18h-33zM850 713h33v18h-33zM882 713h33v18h-33zM914 713h33v18h-33zM945 713h33v18h-33zM977 713h33v18h-33zM1009 713h33v18h-33z"/><path fill="rgb(102,102,102)" d="M1040 765h33v18h-33zM1072 852h33v18h-33zM1104 852h33v18h-33zM1136 852h33v18h-33zM1168 852h33v18h-33zM1199 852h33v18h-33zM1231 852h33v18h-33zM1263 852h33v18h-33zM1294 852h33v18h-33zM1326 852h33v18h-33zM1358 852h33v18h-33zM1390 852h33v18h-33zM1422 852h33v18h-33zM1453 852h33v18h-33zM1485 852h33v18h-33zM1517 852h33v18h-33z"/><path fill="rgb(104,104,104)" d="M1072 869h33v18h-33zM1104 869h33v18h-33zM1136 869h33v18h-33zM1168 869h33v18h-33zM1199 869h33v18h-33zM1231 869h33v18h-33zM1263 869h33v18h-33zM1294 869h33v18h-33zM1326 869h33v18h-33zM1358 869h33v18h-33zM1390 869h33v18h-33zM1422 869h33v18h-33zM1453 869h33v18h-33zM1485 869h33v18h-33zM1517 869h33v18h-33z"/><path fill="rgb(105,105,105)" d="M818 730h33v18h-33zM850 730h33v18h-33zM882 730h33v18h-33zM914 730h33v18h-33zM945 730h33v18h-33zM977 730h33v18h-33zM1009 730h33v18h-33z"/><path fill="rgb(106,106,106)" d="M1040 782h33v18h-33z"/><path fill="rgb(107,107,107)" d="M1072 887h33v18h-33zM1104 887h33v18h-33zM1136 887h33v18h-33zM1168 887h33v18h-33zM1199 887h33v18h-33zM1231 887h33v18h-33zM1263 887h33v18h-33zM1294 887h33v18h-33zM1326 887h33v18h-33zM1358 887h33v18h-33zM1390 887h33v18h-33zM1422 887h33v18h-33zM1453 887h33v18h-33zM1485 887h33v18h-33zM1517 887h33v18h-33z"/><path fill="rgb(109,109,109)" d="M818 747h33v18h-33zM850 747h33v18h-33zM882 747h33v18h-33zM914 747h33v18h-33zM945 747h33v18h-33zM977 747h33v18h-33zM1009 747h33v18h-33z"/><path fill="rgb(110,110,110)" d="M818 921h33v18h-33zM850 921h33v18h-33zM882 921h33v18h-33zM914 921h33v18h-33zM945 921h33v18h-33zM977 921h33v18h-33zM1009 921h33v18h-33zM1040 800h33v18h-33z"/><path fill="rgb(113,113,113)" d="M1040 817h33v18h-33z"/><path fill="rgb(114,114,114)" d="M818 765h33v18h-33zM850 765h33v18h-33zM882 765h33v18h-33zM914 765h33v18h-33zM945 765h33v18h-33zM977 765h33v18h-33zM1009 765h33v18h-33zM1040 974h33v18h-33zM1072 974h33v18h-33zM1104 974h33v18h-33zM1136 974h33v18h-33zM1168 974h33v18h-33zM1199 974h33v18h-33zM1231 974h33v18h-33zM1263 974h33v18h-33zM1294 974h33v18h-33zM1326 974h33v18h-33zM1358 974h33v18h-33zM1390 974h33v18h-33zM1422 974h33v18h-33zM1453 974h33v18h-33zM1485 974h33v18h-33zM1517 974h33v18h-33z"/><path fill="rgb(117,117,117)" d="M1040 834h33v18h-33z"/><path fill="rgb(118,118,118)" d="M818 782h33v18h-33zM850 782h33v18h-33zM882 782h33v18h-33zM914 782h33v18h-33zM945 782h33v18h-33zM977 782h33v18h-33zM1009 782h33v18h-33zM1040 956h33v18h-33zM1040 921h33v18h-33zM1040 904h33v18h-33zM1072 956h33v18h-33zM1072 921h33v18h-33zM1072 904h33v18h-33zM1104 956h33v18h-33zM1104 921h33v18h-33zM1104 904h33v18h-33zM1136 956h33v18h-33zM1136 921h33v18h-33zM1136 904h33v18h-33zM1168 956h33v18h-33zM1168 921h33v18h-33zM1168 904h33v18h-33zM1199 956h33v18h-33zM1199 921h33v18h-33zM1199 904h33v18h-33zM1231 956h33v18h-33zM1231 921h33v18h-33zM1231 904h33v18h-33zM1263 956h33v18h-33zM1263 921h33v18h-33zM1263 904h33v18h-33zM1294 956h33v18h-33zM1294 921h33v18h-33zM1294 904h33v18h-33zM1326 956h33v18h-33zM1326 921h33v18h-33zM1326 904h33v18h-33zM1358 956h33v18h-33zM1358 921h33v18h-33zM1358 904h33v18h-33zM1390 956h33v18h-33zM1390 921h33v18h-33zM1390 904h33v18h-33zM1422 956h33v18h-33zM1422 921h33v18h-33zM1422 904h33v18h-33zM1453 956h33v18h-33zM1453 921h33v18h-33zM1453 904h33v18h-33zM1485 956h33v18h-33zM1485 921h33v18h-33zM1485 904h33v18h-33zM1517 956h33v18h-33zM1517 921h33v18h-33zM1517 904h33v18h-33z"/><path fill="rgb(119,119,119)" d="M1040 939h33v18h-33zM1072 939h33v18h-33zM1104 939h33v18h-33zM1136 939h33v18h-33zM1168 939h33v18h-33zM1199 939h33v18h-33zM1231 939h33v18h-33zM1263 939h33v18h-33zM1294 939h33v18h-33zM1326 939h33v18h-33zM1358 939h33v18h-33zM1390 939h33v18h-33zM1422 939h33v18h-33zM1453 939h33v18h-33zM1485 939h33v18h-33zM1517 939h33v18h-33z"/><path fill="rgb(120,120,120)" d="M818 800h33v18h-33zM850 800h33v18h-33zM882 800h33v18h-33zM914 800h33v18h-33zM945 800h33v18h-33zM977 800h33v18h-33zM1009 800h33v18h-33zM1040 852h33v18h-33z"/><path fill="rgb(123,123,123)" d="M818 817h33v18h-33zM850 817h33v18h-33zM882 817h33v18h-33zM914 817h33v18h-33zM945 817h33v18h-33zM977 817h33v18h-33zM1009 817h33v18h-33zM1040 869h33v18h-33z"/><path fill="rgb(127,127,127)" d="M818 834h33v18h-33zM850 834h33v18h-33zM882 834h33v18h-33zM914 834h33v18h-33zM945 834h33v18h-33zM977 834h33v18h-33zM1009 834h33v18h-33zM1040 887h33v18h-33z"/><path fill="rgb(129,129,129)" d="M818 852h33v18h-33zM850 852h33v18h-33zM882 852h33v18h-33zM914 852h33v18h-33zM945 852h33v18h-33zM977 852h33v18h-33zM1009 852h33v18h-33z"/><path fill="rgb(130,130,130)" d="M818 904h33v18h-33zM850 904h33v18h-33zM882 904h33v18h-33zM914 904h33v18h-33zM945 904h33v18h-33zM977 904h33v18h-33zM1009 904h33v18h-33z"/><path fill="rgb(131,131,131)" d="M818 869h33v18h-33zM850 869h33v18h-33zM882 869h33v18h-33zM914 869h33v18h-33zM945 869h33v18h-33zM977 869h33v18h-33zM1009 869h33v18h-33z"/><path fill="rgb(137,137,137)" d="M818 887h33v18h-33zM850 887h33v18h-33zM882 887h33v18h-33zM914 887h33v18h-33zM945 887h33v18h-33zM977 887h33v18h-33zM1009 887h33v18h-33z"/></g><g filter="url(#nB)"><path fill="rgb(28,28,28)" d="M1040 608h33v18h-33zM1040 591h33v18h-33zM1040 573h33v18h-33z"/><path fill="rgb(29,29,29)" d="M1040 1078h33v18h-33zM1040 1061h33v18h-33zM1040 1043h33v18h-33zM1040 1026h33v18h-33zM1040 625h33v18h-33zM1072 1078h33v18h-33zM1072 1061h33v18h-33zM1072 1043h33v18h-33zM1072 1026h33v18h-33zM1104 1078h33v18h-33zM1104 1061h33v18h-33zM1104 1043h33v18h-33zM1104 1026h33v18h-33zM1136 1078h33v18h-33zM1136 1061h33v18h-33zM1136 1043h33v18h-33zM1136 1026h33v18h-33zM1168 1078h33v18h-33zM1168 1061h33v18h-33zM1168 1043h33v18h-33zM1168 1026h33v18h-33zM1199 1078h33v18h-33zM1199 1061h33v18h-33zM1199 1043h33v18h-33zM1199 1026h33v18h-33zM1231 1078h33v18h-33zM1231 1061h33v18h-33zM1231 1043h33v18h-33zM1231 1026h33v18h-33zM1263 1078h33v18h-33zM1263 1061h33v18h-33zM1263 1043h33v18h-33zM1263 1026h33v18h-33zM1294 1078h33v18h-33zM1294 1061h33v18h-33zM1294 1043h33v18h-33zM1294 1026h33v18h-33zM1326 1078h33v18h-33zM1326 1061h33v18h-33zM1326 1043h33v18h-33zM1326 1026h33v18h-33zM1358 1078h33v18h-33zM1358 1061h33v18h-33zM1358 1043h33v18h-33zM1358 1026h33v18h-33zM1390 1078h33v18h-33zM1390 1061h33v18h-33zM1390 1043h33v18h-33zM1390 1026h33v18h-33zM1422 1078h33v18h-33zM1422 1061h33v18h-33zM1422 1043h33v18h-33zM1422 1026h33v18h-33zM1453 1078h33v18h-33zM1453 1061h33v18h-33zM1453 1043h33v18h-33zM1453 1026h33v18h-33zM1485 1078h33v18h-33zM1485 1061h33v18h-33zM1485 1043h33v18h-33zM1485 1026h33v18h-33zM1517 1078h33v18h-33zM1517 1061h33v18h-33zM1517 1043h33v18h-33zM1517 1026h33v18h-33z"/><path fill="rgb(31,31,31)" d="M1040 643h33v18h-33z"/><path fill="rgb(32,32,32)" d="M1168 608h33v18h-33zM1168 591h33v18h-33zM1168 573h33v18h-33zM1199 608h33v18h-33zM1199 591h33v18h-33zM1199 573h33v18h-33zM1231 608h33v18h-33zM1231 591h33v18h-33zM1231 573h33v18h-33zM1263 608h33v18h-33zM1263 591h33v18h-33zM1263 573h33v18h-33zM1294 608h33v18h-33zM1294 591h33v18h-33zM1294 573h33v18h-33zM1326 608h33v18h-33zM1326 591h33v18h-33zM1326 573h33v18h-33zM1358 608h33v18h-33zM1358 591h33v18h-33zM1358 573h33v18h-33zM1390 608h33v18h-33zM1390 591h33v18h-33zM1390 573h33v18h-33zM1422 608h33v18h-33zM1422 591h33v18h-33zM1422 573h33v18h-33zM1453 608h33v18h-33zM1453 591h33v18h-33zM1453 573h33v18h-33zM1485 608h33v18h-33zM1485 591h33v18h-33zM1485 573h33v18h-33zM1517 608h33v18h-33zM1517 591h33v18h-33zM1517 573h33v18h-33z"/><path fill="rgb(33,33,33)" d="M1168 625h33v18h-33zM1199 625h33v18h-33zM1231 625h33v18h-33zM1263 625h33v18h-33zM1294 625h33v18h-33zM1326 625h33v18h-33zM1358 625h33v18h-33zM1390 625h33v18h-33zM1422 625h33v18h-33zM1453 625h33v18h-33zM1485 625h33v18h-33zM1517 625h33v18h-33z"/><path fill="rgb(34,34,34)" d="M1040 660h33v18h-33z"/><path fill="rgb(36,36,36)" d="M1168 643h33v18h-33zM1199 643h33v18h-33zM1231 643h33v18h-33zM1263 643h33v18h-33zM1294 643h33v18h-33zM1326 643h33v18h-33zM1358 643h33v18h-33zM1390 643h33v18h-33zM1422 643h33v18h-33zM1453 643h33v18h-33zM1485 643h33v18h-33zM1517 643h33v18h-33z"/><path fill="rgb(39,39,39)" d="M818 608h33v18h-33zM818 591h33v18h-33zM818 573h33v18h-33zM850 608h33v18h-33zM850 591h33v18h-33zM850 573h33v18h-33zM882 608h33v18h-33zM882 591h33v18h-33zM882 573h33v18h-33zM914 608h33v18h-33zM914 591h33v18h-33zM914 573h33v18h-33zM945 608h33v18h-33zM945 591h33v18h-33zM945 573h33v18h-33zM977 608h33v18h-33zM977 591h33v18h-33zM977 573h33v18h-33zM1009 608h33v18h-33zM1009 591h33v18h-33zM1009 573h33v18h-33zM1168 660h33v18h-33zM1199 660h33v18h-33zM1231 660h33v18h-33zM1263 660h33v18h-33zM1294 660h33v18h-33zM1326 660h33v18h-33zM1358 660h33v18h-33zM1390 660h33v18h-33zM1422 660h33v18h-33zM1453 660h33v18h-33zM1485 660h33v18h-33zM1517 660h33v18h-33z"/><path fill="rgb(40,40,40)" d="M818 625h33v18h-33zM850 625h33v18h-33zM882 625h33v18h-33zM914 625h33v18h-33zM945 625h33v18h-33zM977 625h33v18h-33zM1009 625h33v18h-33zM1040 678h33v18h-33z"/><path fill="rgb(41,41,41)" d="M818 643h33v18h-33zM850 643h33v18h-33zM882 643h33v18h-33zM914 643h33v18h-33zM945 643h33v18h-33zM977 643h33v18h-33zM1009 643h33v18h-33z"/><path fill="rgb(43,43,43)" d="M818 660h33v18h-33zM850 660h33v18h-33zM882 660h33v18h-33zM914 660h33v18h-33zM945 660h33v18h-33zM977 660h33v18h-33zM1009 660h33v18h-33zM1040 695h33v18h-33zM1168 678h33v18h-33zM1199 678h33v18h-33zM1231 678h33v18h-33zM1263 678h33v18h-33zM1294 678h33v18h-33zM1326 678h33v18h-33zM1358 678h33v18h-33zM1390 678h33v18h-33zM1422 678h33v18h-33zM1453 678h33v18h-33zM1485 678h33v18h-33zM1517 678h33v18h-33z"/><path fill="rgb(47,47,47)" d="M1040 713h33v18h-33zM1168 695h33v18h-33zM1199 695h33v18h-33zM1231 695h33v18h-33zM1263 695h33v18h-33zM1294 695h33v18h-33zM1326 695h33v18h-33zM1358 695h33v18h-33zM1390 695h33v18h-33zM1422 695h33v18h-33zM1453 695h33v18h-33zM1485 695h33v18h-33zM1517 695h33v18h-33z"/><path fill="rgb(48,48,48)" d="M818 678h33v18h-33zM850 678h33v18h-33zM882 678h33v18h-33zM914 678h33v18h-33zM945 678h33v18h-33zM977 678h33v18h-33zM1009 678h33v18h-33z"/><path fill="rgb(50,50,50)" d="M1040 1008h33v18h-33zM1040 730h33v18h-33zM1072 1008h33v18h-33zM1104 1008h33v18h-33zM1136 1008h33v18h-33zM1168 1008h33v18h-33zM1199 1008h33v18h-33zM1231 1008h33v18h-33zM1263 1008h33v18h-33zM1294 1008h33v18h-33zM1326 1008h33v18h-33zM1358 1008h33v18h-33zM1390 1008h33v18h-33zM1422 1008h33v18h-33zM1453 1008h33v18h-33zM1485 1008h33v18h-33zM1517 1008h33v18h-33z"/><path fill="rgb(51,51,51)" d="M1072 608h33v18h-33zM1072 591h33v18h-33zM1072 573h33v18h-33zM1104 608h33v18h-33zM1104 591h33v18h-33zM1104 573h33v18h-33zM1136 608h33v18h-33zM1136 591h33v18h-33zM1136 573h33v18h-33zM1168 713h33v18h-33zM1199 713h33v18h-33zM1231 713h33v18h-33zM1263 713h33v18h-33zM1294 713h33v18h-33zM1326 713h33v18h-33zM1358 713h33v18h-33zM1390 713h33v18h-33zM1422 713h33v18h-33zM1453 713h33v18h-33zM1485 713h33v18h-33zM1517 713h33v18h-33z"/><path fill="rgb(52,52,52)" d="M818 695h33v18h-33zM850 695h33v18h-33zM882 695h33v18h-33zM914 695h33v18h-33zM945 695h33v18h-33zM977 695h33v18h-33zM1009 695h33v18h-33zM1072 625h33v18h-33zM1104 625h33v18h-33zM1136 625h33v18h-33z"/><path fill="rgb(53,53,53)" d="M1040 747h33v18h-33zM1072 643h33v18h-33zM1104 643h33v18h-33zM1136 643h33v18h-33z"/><path fill="rgb(54,54,54)" d="M1168 730h33v18h-33zM1199 730h33v18h-33zM1231 730h33v18h-33zM1263 730h33v18h-33zM1294 730h33v18h-33zM1326 730h33v18h-33zM1358 730h33v18h-33zM1390 730h33v18h-33zM1422 730h33v18h-33zM1453 730h33v18h-33zM1485 730h33v18h-33zM1517 730h33v18h-33z"/><path fill="rgb(55,55,55)" d="M818 713h33v18h-33zM850 713h33v18h-33zM882 713h33v18h-33zM914 713h33v18h-33zM945 713h33v18h-33zM977 713h33v18h-33zM1009 713h33v18h-33zM1040 765h33v18h-33zM1072 660h33v18h-33zM1104 660h33v18h-33zM1136 660h33v18h-33z"/><path fill="rgb(56,56,56)" d="M1168 747h33v18h-33zM1199 747h33v18h-33zM1231 747h33v18h-33zM1263 747h33v18h-33zM1294 747h33v18h-33zM1326 747h33v18h-33zM1358 747h33v18h-33zM1390 747h33v18h-33zM1422 747h33v18h-33zM1453 747h33v18h-33zM1485 747h33v18h-33zM1517 747h33v18h-33z"/><path fill="rgb(57,57,57)" d="M818 730h33v18h-33zM850 730h33v18h-33zM882 730h33v18h-33zM914 730h33v18h-33zM945 730h33v18h-33zM977 730h33v18h-33zM1009 730h33v18h-33zM1040 782h33v18h-33z"/><path fill="rgb(60,60,60)" d="M818 747h33v18h-33zM850 747h33v18h-33zM882 747h33v18h-33zM914 747h33v18h-33zM945 747h33v18h-33zM977 747h33v18h-33zM1009 747h33v18h-33zM1040 800h33v18h-33zM1072 678h33v18h-33zM1104 678h33v18h-33zM1136 678h33v18h-33zM1168 765h33v18h-33zM1199 765h33v18h-33zM1231 765h33v18h-33zM1263 765h33v18h-33zM1294 765h33v18h-33zM1326 765h33v18h-33zM1358 765h33v18h-33zM1390 765h33v18h-33zM1422 765h33v18h-33zM1453 765h33v18h-33zM1485 765h33v18h-33zM1517 765h33v18h-33z"/><path fill="rgb(62,62,62)" d="M1040 817h33v18h-33z"/><path fill="rgb(63,63,63)" d="M818 765h33v18h-33zM850 765h33v18h-33zM882 765h33v18h-33zM914 765h33v18h-33zM945 765h33v18h-33zM977 765h33v18h-33zM1009 765h33v18h-33zM1168 782h33v18h-33zM1199 782h33v18h-33zM1231 782h33v18h-33zM1263 782h33v18h-33zM1294 782h33v18h-33zM1326 782h33v18h-33zM1358 782h33v18h-33zM1390 782h33v18h-33zM1422 782h33v18h-33zM1453 782h33v18h-33zM1485 782h33v18h-33zM1517 782h33v18h-33z"/><path fill="rgb(64,64,64)" d="M1072 695h33v18h-33zM1104 695h33v18h-33zM1136 695h33v18h-33z"/><path fill="rgb(65,65,65)" d="M818 782h33v18h-33zM850 782h33v18h-33zM882 782h33v18h-33zM914 782h33v18h-33zM945 782h33v18h-33zM977 782h33v18h-33zM1009 782h33v18h-33zM1040 834h33v18h-33z"/><path fill="rgb(66,66,66)" d="M818 800h33v18h-33zM850 800h33v18h-33zM882 800h33v18h-33zM914 800h33v18h-33zM945 800h33v18h-33zM977 800h33v18h-33zM1009 800h33v18h-33zM1040 852h33v18h-33z"/><path fill="rgb(68,68,68)" d="M818 817h33v18h-33zM850 817h33v18h-33zM882 817h33v18h-33zM914 817h33v18h-33zM945 817h33v18h-33zM977 817h33v18h-33zM1009 817h33v18h-33zM1040 869h33v18h-33zM1072 713h33v18h-33zM1104 713h33v18h-33zM1136 713h33v18h-33z"/><path fill="rgb(70,70,70)" d="M818 834h33v18h-33zM850 834h33v18h-33zM882 834h33v18h-33zM914 834h33v18h-33zM945 834h33v18h-33zM977 834h33v18h-33zM1009 834h33v18h-33zM1040 887h33v18h-33z"/><path fill="rgb(71,71,71)" d="M818 904h33v18h-33zM818 852h33v18h-33zM850 904h33v18h-33zM850 852h33v18h-33zM882 904h33v18h-33zM882 852h33v18h-33zM914 904h33v18h-33zM914 852h33v18h-33zM945 904h33v18h-33zM945 852h33v18h-33zM977 904h33v18h-33zM977 852h33v18h-33zM1009 904h33v18h-33zM1009 852h33v18h-33zM1072 730h33v18h-33zM1104 730h33v18h-33zM1136 730h33v18h-33z"/><path fill="rgb(72,72,72)" d="M818 869h33v18h-33zM850 869h33v18h-33zM882 869h33v18h-33zM914 869h33v18h-33zM945 869h33v18h-33zM977 869h33v18h-33zM1009 869h33v18h-33z"/><path fill="rgb(75,75,75)" d="M1072 747h33v18h-33zM1104 747h33v18h-33zM1136 747h33v18h-33z"/><path fill="rgb(76,76,76)" d="M1040 991h33v18h-33zM1072 991h33v18h-33zM1104 991h33v18h-33zM1136 991h33v18h-33zM1168 991h33v18h-33zM1199 991h33v18h-33zM1231 991h33v18h-33zM1263 991h33v18h-33zM1294 991h33v18h-33zM1326 991h33v18h-33zM1358 991h33v18h-33zM1390 991h33v18h-33zM1422 991h33v18h-33zM1453 991h33v18h-33zM1485 991h33v18h-33zM1517 991h33v18h-33z"/><path fill="rgb(77,77,77)" d="M818 887h33v18h-33zM850 887h33v18h-33zM882 887h33v18h-33zM914 887h33v18h-33zM945 887h33v18h-33zM977 887h33v18h-33zM1009 887h33v18h-33z"/><path fill="rgb(80,80,80)" d="M1072 765h33v18h-33zM1104 765h33v18h-33zM1136 765h33v18h-33z"/><path fill="rgb(85,85,85)" d="M1072 782h33v18h-33zM1104 782h33v18h-33zM1136 782h33v18h-33z"/><path fill="rgb(90,90,90)" d="M1072 800h33v18h-33zM1104 800h33v18h-33zM1136 800h33v18h-33zM1168 800h33v18h-33zM1199 800h33v18h-33zM1231 800h33v18h-33zM1263 800h33v18h-33zM1294 800h33v18h-33zM1326 800h33v18h-33zM1358 800h33v18h-33zM1390 800h33v18h-33zM1422 800h33v18h-33zM1453 800h33v18h-33zM1485 800h33v18h-33zM1517 800h33v18h-33z"/><path fill="rgb(92,92,92)" d="M1040 974h33v18h-33zM1072 974h33v18h-33zM1072 817h33v18h-33zM1104 974h33v18h-33zM1104 817h33v18h-33zM1136 974h33v18h-33zM1136 817h33v18h-33zM1168 974h33v18h-33zM1168 817h33v18h-33zM1199 974h33v18h-33zM1199 817h33v18h-33zM1231 974h33v18h-33zM1231 817h33v18h-33zM1263 974h33v18h-33zM1263 817h33v18h-33zM1294 974h33v18h-33zM1294 817h33v18h-33zM1326 974h33v18h-33zM1326 817h33v18h-33zM1358 974h33v18h-33zM1358 817h33v18h-33zM1390 974h33v18h-33zM1390 817h33v18h-33zM1422 974h33v18h-33zM1422 817h33v18h-33zM1453 974h33v18h-33zM1453 817h33v18h-33zM1485 974h33v18h-33zM1485 817h33v18h-33zM1517 974h33v18h-33zM1517 817h33v18h-33z"/><path fill="rgb(95,95,95)" d="M1040 956h33v18h-33zM1040 921h33v18h-33zM1040 904h33v18h-33zM1072 956h33v18h-33zM1072 921h33v18h-33zM1072 904h33v18h-33zM1072 834h33v18h-33zM1104 956h33v18h-33zM1104 921h33v18h-33zM1104 904h33v18h-33zM1104 834h33v18h-33zM1136 956h33v18h-33zM1136 921h33v18h-33zM1136 904h33v18h-33zM1136 834h33v18h-33zM1168 956h33v18h-33zM1168 921h33v18h-33zM1168 904h33v18h-33zM1168 834h33v18h-33zM1199 956h33v18h-33zM1199 921h33v18h-33zM1199 904h33v18h-33zM1199 834h33v18h-33zM1231 956h33v18h-33zM1231 921h33v18h-33zM1231 904h33v18h-33zM1231 834h33v18h-33zM1263 956h33v18h-33zM1263 921h33v18h-33zM1263 904h33v18h-33zM1263 834h33v18h-33zM1294 956h33v18h-33zM1294 921h33v18h-33zM1294 904h33v18h-33zM1294 834h33v18h-33zM1326 956h33v18h-33zM1326 921h33v18h-33zM1326 904h33v18h-33zM1326 834h33v18h-33zM1358 956h33v18h-33zM1358 921h33v18h-33zM1358 904h33v18h-33zM1358 834h33v18h-33zM1390 956h33v18h-33zM1390 921h33v18h-33zM1390 904h33v18h-33zM1390 834h33v18h-33zM1422 956h33v18h-33zM1422 921h33v18h-33zM1422 904h33v18h-33zM1422 834h33v18h-33zM1453 956h33v18h-33zM1453 921h33v18h-33zM1453 904h33v18h-33zM1453 834h33v18h-33zM1485 956h33v18h-33zM1485 921h33v18h-33zM1485 904h33v18h-33zM1485 834h33v18h-33zM1517 956h33v18h-33zM1517 921h33v18h-33zM1517 904h33v18h-33zM1517 834h33v18h-33z"/><path fill="rgb(96,96,96)" d="M1040 939h33v18h-33zM1072 939h33v18h-33zM1104 939h33v18h-33zM1136 939h33v18h-33zM1168 939h33v18h-33zM1199 939h33v18h-33zM1231 939h33v18h-33zM1263 939h33v18h-33zM1294 939h33v18h-33zM1326 939h33v18h-33zM1358 939h33v18h-33zM1390 939h33v18h-33zM1422 939h33v18h-33zM1453 939h33v18h-33zM1485 939h33v18h-33zM1517 939h33v18h-33z"/><path fill="rgb(97,97,97)" d="M1072 852h33v18h-33zM1104 852h33v18h-33zM1136 852h33v18h-33zM1168 852h33v18h-33zM1199 852h33v18h-33zM1231 852h33v18h-33zM1263 852h33v18h-33zM1294 852h33v18h-33zM1326 852h33v18h-33zM1358 852h33v18h-33zM1390 852h33v18h-33zM1422 852h33v18h-33zM1453 852h33v18h-33zM1485 852h33v18h-33zM1517 852h33v18h-33z"/><path fill="rgb(99,99,99)" d="M1072 869h33v18h-33zM1104 869h33v18h-33zM1136 869h33v18h-33zM1168 869h33v18h-33zM1199 869h33v18h-33zM1231 869h33v18h-33zM1263 869h33v18h-33zM1294 869h33v18h-33zM1326 869h33v18h-33zM1358 869h33v18h-33zM1390 869h33v18h-33zM1422 869h33v18h-33zM1453 869h33v18h-33zM1485 869h33v18h-33zM1517 869h33v18h-33z"/><path fill="rgb(102,102,102)" d="M1072 887h33v18h-33zM1104 887h33v18h-33zM1136 887h33v18h-33zM1168 887h33v18h-33zM1199 887h33v18h-33zM1231 887h33v18h-33zM1263 887h33v18h-33zM1294 887h33v18h-33zM1326 887h33v18h-33zM1358 887h33v18h-33zM1390 887h33v18h-33zM1422 887h33v18h-33zM1453 887h33v18h-33zM1485 887h33v18h-33zM1517 887h33v18h-33z"/><path fill="rgb(105,105,105)" d="M818 921h33v18h-33zM850 921h33v18h-33zM882 921h33v18h-33zM914 921h33v18h-33zM945 921h33v18h-33zM977 921h33v18h-33zM1009 921h33v18h-33z"/><path fill="rgb(108,108,108)" d="M818 991h33v18h-33zM850 991h33v18h-33zM882 991h33v18h-33zM914 991h33v18h-33zM945 991h33v18h-33zM977 991h33v18h-33zM1009 991h33v18h-33z"/><path fill="rgb(117,117,117)" d="M818 1078h33v18h-33zM818 1061h33v18h-33zM818 1043h33v18h-33zM818 1026h33v18h-33zM818 1008h33v18h-33zM850 1078h33v18h-33zM850 1061h33v18h-33zM850 1043h33v18h-33zM850 1026h33v18h-33zM850 1008h33v18h-33zM882 1078h33v18h-33zM882 1061h33v18h-33zM882 1043h33v18h-33zM882 1026h33v18h-33zM882 1008h33v18h-33zM914 1078h33v18h-33zM914 1061h33v18h-33zM914 1043h33v18h-33zM914 1026h33v18h-33zM914 1008h33v18h-33zM945 1078h33v18h-33zM945 1061h33v18h-33zM945 1043h33v18h-33zM945 1026h33v18h-33zM945 1008h33v18h-33zM977 1078h33v18h-33zM977 1061h33v18h-33zM977 1043h33v18h-33zM977 1026h33v18h-33zM977 1008h33v18h-33zM1009 1078h33v18h-33zM1009 1061h33v18h-33zM1009 1043h33v18h-33zM1009 1026h33v18h-33zM1009 1008h33v18h-33z"/><path fill="rgb(123,123,123)" d="M818 974h33v18h-33zM850 974h33v18h-33zM882 974h33v18h-33zM914 974h33v18h-33zM945 974h33v18h-33zM977 974h33v18h-33zM1009 974h33v18h-33z"/><path fill="rgb(128,128,128)" d="M818 956h33v18h-33zM818 939h33v18h-33zM850 956h33v18h-33zM850 939h33v18h-33zM882 956h33v18h-33zM882 939h33v18h-33zM914 956h33v18h-33zM914 939h33v18h-33zM945 956h33v18h-33zM945 939h33v18h-33zM977 956h33v18h-33zM977 939h33v18h-33zM1009 956h33v18h-33zM1009 939h33v18h-33z"/></g></g>
<path d="M186.0 470.2h0.01M194.9 470.2h0.01M203.9 470.2h0.01M212.9 470.2h0.01M221.9 470.2h0.01M230.8 470.2h0.01M239.8 470.2h0.01" stroke="#1a1ad0" stroke-width="2.6" stroke-linecap="round" opacity="0.85"/>
<path d="M186.0 456.3h0.01M194.9 456.3h0.01M203.9 456.3h0.01M212.9 456.3h0.01M221.9 456.3h0.01M230.8 456.3h0.01M239.8 456.3h0.01" stroke="#1a1ad0" stroke-width="2.6" stroke-linecap="round" opacity="0.7"/>
<path d="M186.0 442.3h0.01M194.9 442.3h0.01M203.9 442.3h0.01M212.9 442.3h0.01M221.9 442.3h0.01M230.8 442.3h0.01M239.8 442.3h0.01" stroke="#1a1ad0" stroke-width="2.6" stroke-linecap="round" opacity="0.45"/>
<path d="M186.0 428.3h0.01M194.9 428.3h0.01M203.9 428.3h0.01M212.9 428.3h0.01M221.9 428.3h0.01M230.8 428.3h0.01M239.8 428.3h0.01" stroke="#1a1ad0" stroke-width="2.6" stroke-linecap="round" opacity="0.35"/>
<path d="M239.8 470.2h0.01M248.8 470.2h0.01M257.7 470.2h0.01M266.7 470.2h0.01M275.7 470.2h0.01M284.7 470.2h0.01M293.6 470.2h0.01M302.6 470.2h0.01M311.6 470.2h0.01M320.5 470.2h0.01M329.5 470.2h0.01M338.5 470.2h0.01M347.5 470.2h0.01M356.4 470.2h0.01M365.4 470.2h0.01M374.4 470.2h0.01M383.3 470.2h0.01M392.3 470.2h0.01M401.3 470.2h0.01M410.3 470.2h0.01M419.2 470.2h0.01M428.2 470.2h0.01M437.2 470.2h0.01M446.1 470.2h0.01M455.1 470.2h0.01M464.1 470.2h0.01M473.1 470.2h0.01M482.0 470.2h0.01M491.0 470.2h0.01M500.0 470.2h0.01M508.9 470.2h0.01M517.9 470.2h0.01M526.9 470.2h0.01M535.9 470.2h0.01M544.8 470.2h0.01M553.8 470.2h0.01M562.8 470.2h0.01M571.7 470.2h0.01M580.7 470.2h0.01M589.7 470.2h0.01M598.7 470.2h0.01M607.6 470.2h0.01M616.6 470.2h0.01M625.6 470.2h0.01M634.5 470.2h0.01M643.5 470.2h0.01M652.5 470.2h0.01M661.5 470.2h0.01M670.4 470.2h0.01M679.4 470.2h0.01M688.4 470.2h0.01M697.3 470.2h0.01M706.3 470.2h0.01M715.3 470.2h0.01M724.3 470.2h0.01M733.2 470.2h0.01M742.2 470.2h0.01" stroke="#7050a0" stroke-width="2.2" stroke-linecap="round" opacity="0.35"/>
<path d="M239.8 456.3h0.01M248.8 456.3h0.01M257.7 456.3h0.01M266.7 456.3h0.01M275.7 456.3h0.01M284.7 456.3h0.01M293.6 456.3h0.01M302.6 456.3h0.01M311.6 456.3h0.01M320.5 456.3h0.01M329.5 456.3h0.01M338.5 456.3h0.01M347.5 456.3h0.01M356.4 456.3h0.01M365.4 456.3h0.01M374.4 456.3h0.01M383.3 456.3h0.01M392.3 456.3h0.01M401.3 456.3h0.01M410.3 456.3h0.01M419.2 456.3h0.01M428.2 456.3h0.01M437.2 456.3h0.01M446.1 456.3h0.01M455.1 456.3h0.01M464.1 456.3h0.01M473.1 456.3h0.01M482.0 456.3h0.01M491.0 456.3h0.01M500.0 456.3h0.01M508.9 456.3h0.01M517.9 456.3h0.01M526.9 456.3h0.01M535.9 456.3h0.01M544.8 456.3h0.01M553.8 456.3h0.01M562.8 456.3h0.01M571.7 456.3h0.01M580.7 456.3h0.01M589.7 456.3h0.01M598.7 456.3h0.01M607.6 456.3h0.01M616.6 456.3h0.01M625.6 456.3h0.01M634.5 456.3h0.01M643.5 456.3h0.01M652.5 456.3h0.01M661.5 456.3h0.01M670.4 456.3h0.01M679.4 456.3h0.01M688.4 456.3h0.01M697.3 456.3h0.01M706.3 456.3h0.01M715.3 456.3h0.01M724.3 456.3h0.01M733.2 456.3h0.01M742.2 456.3h0.01" stroke="#7050a0" stroke-width="2.2" stroke-linecap="round" opacity="0.25"/>
<path d="M921.8 470.4h0.01M930.8 470.4h0.01M939.8 470.4h0.01M948.9 470.4h0.01M957.9 470.4h0.01M966.9 470.4h0.01M975.9 470.4h0.01" stroke="#1a1ad0" stroke-width="2.6" stroke-linecap="round" opacity="0.8"/>
<path d="M921.8 456.5h0.01M930.8 456.5h0.01M939.8 456.5h0.01M948.9 456.5h0.01M957.9 456.5h0.01M966.9 456.5h0.01M975.9 456.5h0.01" stroke="#1a1ad0" stroke-width="2.6" stroke-linecap="round" opacity="0.55"/>
<path d="M921.8 442.7h0.01M930.8 442.7h0.01M939.8 442.7h0.01M948.9 442.7h0.01M957.9 442.7h0.01M966.9 442.7h0.01M975.9 442.7h0.01" stroke="#1a1ad0" stroke-width="2.6" stroke-linecap="round" opacity="0.35"/>
<path d="M975.9 470.4h0.01M984.9 470.4h0.01M993.9 470.4h0.01M1002.9 470.4h0.01M1012.0 470.4h0.01M1021.0 470.4h0.01M1030.0 470.4h0.01M1039.0 470.4h0.01M1048.0 470.4h0.01M1057.0 470.4h0.01M1066.0 470.4h0.01M1075.1 470.4h0.01M1084.1 470.4h0.01M1093.1 470.4h0.01M1102.1 470.4h0.01M1111.1 470.4h0.01M1120.1 470.4h0.01M1129.1 470.4h0.01M1138.2 470.4h0.01M1147.2 470.4h0.01M1156.2 470.4h0.01M1165.2 470.4h0.01M1174.2 470.4h0.01M1183.2 470.4h0.01M1192.2 470.4h0.01M1201.3 470.4h0.01M1210.3 470.4h0.01M1219.3 470.4h0.01M1228.3 470.4h0.01M1237.3 470.4h0.01M1246.3 470.4h0.01M1255.3 470.4h0.01M1264.4 470.4h0.01M1273.4 470.4h0.01M1282.4 470.4h0.01M1291.4 470.4h0.01M1300.4 470.4h0.01M1309.4 470.4h0.01M1318.4 470.4h0.01M1327.5 470.4h0.01M1336.5 470.4h0.01M1345.5 470.4h0.01M1354.5 470.4h0.01M1363.5 470.4h0.01M1372.5 470.4h0.01M1381.5 470.4h0.01M1390.6 470.4h0.01M1399.6 470.4h0.01M1408.6 470.4h0.01M1417.6 470.4h0.01M1426.6 470.4h0.01M1435.6 470.4h0.01M1444.6 470.4h0.01M1453.7 470.4h0.01M1462.7 470.4h0.01M1471.7 470.4h0.01M1480.7 470.4h0.01" stroke="#7050a0" stroke-width="2.2" stroke-linecap="round" opacity="0.55"/>
<path d="M975.9 456.5h0.01M984.9 456.5h0.01M993.9 456.5h0.01M1002.9 456.5h0.01M1012.0 456.5h0.01M1021.0 456.5h0.01M1030.0 456.5h0.01M1039.0 456.5h0.01M1048.0 456.5h0.01M1057.0 456.5h0.01M1066.0 456.5h0.01M1075.1 456.5h0.01M1084.1 456.5h0.01M1093.1 456.5h0.01M1102.1 456.5h0.01M1111.1 456.5h0.01M1120.1 456.5h0.01M1129.1 456.5h0.01M1138.2 456.5h0.01M1147.2 456.5h0.01M1156.2 456.5h0.01M1165.2 456.5h0.01M1174.2 456.5h0.01M1183.2 456.5h0.01M1192.2 456.5h0.01M1201.3 456.5h0.01M1210.3 456.5h0.01M1219.3 456.5h0.01M1228.3 456.5h0.01M1237.3 456.5h0.01M1246.3 456.5h0.01M1255.3 456.5h0.01M1264.4 456.5h0.01M1273.4 456.5h0.01M1282.4 456.5h0.01M1291.4 456.5h0.01M1300.4 456.5h0.01M1309.4 456.5h0.01M1318.4 456.5h0.01M1327.5 456.5h0.01M1336.5 456.5h0.01M1345.5 456.5h0.01M1354.5 456.5h0.01M1363.5 456.5h0.01M1372.5 456.5h0.01M1381.5 456.5h0.01M1390.6 456.5h0.01M1399.6 456.5h0.01M1408.6 456.5h0.01M1417.6 456.5h0.01M1426.6 456.5h0.01M1435.6 456.5h0.01M1444.6 456.5h0.01M1453.7 456.5h0.01M1462.7 456.5h0.01M1471.7 456.5h0.01M1480.7 456.5h0.01" stroke="#7050a0" stroke-width="2.2" stroke-linecap="round" opacity="0.4"/>
<path d="M177.6 1025.9h0.01M186.6 1025.9h0.01M195.6 1025.9h0.01M204.5 1025.9h0.01M213.5 1025.9h0.01M222.5 1025.9h0.01M231.5 1025.9h0.01" stroke="#1a1ad0" stroke-width="2.6" stroke-linecap="round" opacity="0.85"/>
<path d="M177.6 1012.9h0.01M186.6 1012.9h0.01M195.6 1012.9h0.01M204.5 1012.9h0.01M213.5 1012.9h0.01M222.5 1012.9h0.01M231.5 1012.9h0.01" stroke="#1a1ad0" stroke-width="2.6" stroke-linecap="round" opacity="0.4"/>
<path d="M231.5 1025.9h0.01M240.5 1025.9h0.01M249.5 1025.9h0.01M258.5 1025.9h0.01M267.4 1025.9h0.01M276.4 1025.9h0.01M285.4 1025.9h0.01M294.4 1025.9h0.01M303.4 1025.9h0.01M312.4 1025.9h0.01M321.4 1025.9h0.01M330.3 1025.9h0.01M339.3 1025.9h0.01M348.3 1025.9h0.01M357.3 1025.9h0.01M366.3 1025.9h0.01M375.3 1025.9h0.01M384.3 1025.9h0.01M393.2 1025.9h0.01M402.2 1025.9h0.01M411.2 1025.9h0.01M420.2 1025.9h0.01M429.2 1025.9h0.01M438.2 1025.9h0.01M447.2 1025.9h0.01M456.1 1025.9h0.01M465.1 1025.9h0.01M474.1 1025.9h0.01M483.1 1025.9h0.01M492.1 1025.9h0.01M501.1 1025.9h0.01M510.1 1025.9h0.01M519.0 1025.9h0.01M528.0 1025.9h0.01M537.0 1025.9h0.01M546.0 1025.9h0.01M555.0 1025.9h0.01M564.0 1025.9h0.01M573.0 1025.9h0.01M581.9 1025.9h0.01M590.9 1025.9h0.01M599.9 1025.9h0.01M608.9 1025.9h0.01M617.9 1025.9h0.01M626.9 1025.9h0.01M635.9 1025.9h0.01M644.8 1025.9h0.01M653.8 1025.9h0.01M662.8 1025.9h0.01M671.8 1025.9h0.01M680.8 1025.9h0.01M689.8 1025.9h0.01M698.8 1025.9h0.01M707.7 1025.9h0.01M716.7 1025.9h0.01M725.7 1025.9h0.01M734.7 1025.9h0.01" stroke="#7050a0" stroke-width="2.2" stroke-linecap="round" opacity="0.5"/>
<path d="M231.5 1012.9h0.01M240.5 1012.9h0.01M249.5 1012.9h0.01M258.5 1012.9h0.01M267.4 1012.9h0.01M276.4 1012.9h0.01M285.4 1012.9h0.01M294.4 1012.9h0.01M303.4 1012.9h0.01M312.4 1012.9h0.01M321.4 1012.9h0.01M330.3 1012.9h0.01M339.3 1012.9h0.01M348.3 1012.9h0.01M357.3 1012.9h0.01M366.3 1012.9h0.01M375.3 1012.9h0.01M384.3 1012.9h0.01M393.2 1012.9h0.01M402.2 1012.9h0.01M411.2 1012.9h0.01M420.2 1012.9h0.01M429.2 1012.9h0.01M438.2 1012.9h0.01M447.2 1012.9h0.01M456.1 1012.9h0.01M465.1 1012.9h0.01M474.1 1012.9h0.01M483.1 1012.9h0.01M492.1 1012.9h0.01M501.1 1012.9h0.01M510.1 1012.9h0.01M519.0 1012.9h0.01M528.0 1012.9h0.01M537.0 1012.9h0.01M546.0 1012.9h0.01M555.0 1012.9h0.01M564.0 1012.9h0.01M573.0 1012.9h0.01M581.9 1012.9h0.01M590.9 1012.9h0.01M599.9 1012.9h0.01M608.9 1012.9h0.01M617.9 1012.9h0.01M626.9 1012.9h0.01M635.9 1012.9h0.01M644.8 1012.9h0.01M653.8 1012.9h0.01M662.8 1012.9h0.01M671.8 1012.9h0.01M680.8 1012.9h0.01M689.8 1012.9h0.01M698.8 1012.9h0.01M707.7 1012.9h0.01M716.7 1012.9h0.01M725.7 1012.9h0.01M734.7 1012.9h0.01" stroke="#7050a0" stroke-width="2.2" stroke-linecap="round" opacity="0.25"/>

<path d="M177.2 65.3V484.0H743.2" fill="none" stroke="#666" stroke-width="1.7"/>
<path d="M177.2 484.2h6.5 M177.2 414.4h6.5 M177.2 344.6h6.5 M177.2 274.8h6.5 M177.2 204.9h6.5 M177.2 135.1h6.5 M177.2 65.3h6.5 M239.8 484.0v-6.5 M365.4 484.0v-6.5 M491.0 484.0v-6.5 M616.6 484.0v-6.5 M742.2 484.0v-6.5" stroke="#666" stroke-width="1.7"/>
<text x="165.4" y="492.7" class="t" font-size="22.5" text-anchor="end">0</text>
<text x="165.4" y="422.9" class="t" font-size="22.5" text-anchor="end">5</text>
<text x="165.4" y="353.1" class="t" font-size="22.5" text-anchor="end">10</text>
<text x="165.4" y="283.3" class="t" font-size="22.5" text-anchor="end">15</text>
<text x="165.4" y="213.4" class="t" font-size="22.5" text-anchor="end">20</text>
<text x="165.4" y="143.6" class="t" font-size="22.5" text-anchor="end">25</text>
<text x="165.4" y="73.8" class="t" font-size="22.5" text-anchor="end">30</text>
<text x="239.8" y="516.0" class="t" font-size="22.5" text-anchor="middle">2</text>
<text x="365.4" y="516.0" class="t" font-size="22.5" text-anchor="middle">4</text>
<text x="491.0" y="516.0" class="t" font-size="22.5" text-anchor="middle">6</text>
<text x="616.6" y="516.0" class="t" font-size="22.5" text-anchor="middle">8</text>
<text x="742.2" y="516.0" class="t" font-size="22.5" text-anchor="middle">10</text>
<line x1="177.3" y1="344.0" x2="742.2" y2="344.0" stroke="#000" stroke-width="3.6" stroke-dasharray="17.3 18.7"/>
<polyline points="177.0,271.6 239.8,305.6 302.6,331.0 365.4,327.6 428.2,331.6 491.0,337.4 553.8,338.0 616.6,334.4 679.4,341.6 742.2,338.0" fill="none" stroke="#ee0000" stroke-width="4.6" stroke-linejoin="round"/>
<circle cx="177.0" cy="271.6" r="6.7" fill="none" stroke="#ee0000" stroke-width="4.4"/>
<circle cx="239.8" cy="305.6" r="6.7" fill="none" stroke="#ee0000" stroke-width="4.4"/>
<circle cx="302.6" cy="331.0" r="6.7" fill="none" stroke="#ee0000" stroke-width="4.4"/>
<circle cx="365.4" cy="327.6" r="6.7" fill="none" stroke="#ee0000" stroke-width="4.4"/>
<circle cx="428.2" cy="331.6" r="6.7" fill="none" stroke="#ee0000" stroke-width="4.4"/>
<circle cx="491.0" cy="337.4" r="6.7" fill="none" stroke="#ee0000" stroke-width="4.4"/>
<circle cx="553.8" cy="338.0" r="6.7" fill="none" stroke="#ee0000" stroke-width="4.4"/>
<circle cx="616.6" cy="334.4" r="6.7" fill="none" stroke="#ee0000" stroke-width="4.4"/>
<circle cx="679.4" cy="341.6" r="6.7" fill="none" stroke="#ee0000" stroke-width="4.4"/>
<circle cx="742.2" cy="338.0" r="6.7" fill="none" stroke="#ee0000" stroke-width="4.4"/>
<polyline points="177.0,398.0 239.8,370.6 302.6,347.0 365.4,343.4 428.2,347.0 491.0,343.6 553.8,345.6 616.6,348.0 679.4,349.0 742.2,345.6" fill="none" stroke="#0000ee" stroke-width="4.6" stroke-linejoin="round"/>
<circle cx="177.0" cy="398.0" r="6.7" fill="none" stroke="#0000ee" stroke-width="4.4"/>
<circle cx="239.8" cy="370.6" r="6.7" fill="none" stroke="#0000ee" stroke-width="4.4"/>
<circle cx="302.6" cy="347.0" r="6.7" fill="none" stroke="#0000ee" stroke-width="4.4"/>
<circle cx="365.4" cy="343.4" r="6.7" fill="none" stroke="#0000ee" stroke-width="4.4"/>
<circle cx="428.2" cy="347.0" r="6.7" fill="none" stroke="#0000ee" stroke-width="4.4"/>
<circle cx="491.0" cy="343.6" r="6.7" fill="none" stroke="#0000ee" stroke-width="4.4"/>
<circle cx="553.8" cy="345.6" r="6.7" fill="none" stroke="#0000ee" stroke-width="4.4"/>
<circle cx="616.6" cy="348.0" r="6.7" fill="none" stroke="#0000ee" stroke-width="4.4"/>
<circle cx="679.4" cy="349.0" r="6.7" fill="none" stroke="#0000ee" stroke-width="4.4"/>
<circle cx="742.2" cy="345.6" r="6.7" fill="none" stroke="#0000ee" stroke-width="4.4"/>
<text x="327.8" y="559.2" class="g" textLength="231.0" lengthAdjust="spacingAndGlyphs">generation</text>
<path d="M913.6 68.0V484.3H1481.7" fill="none" stroke="#666" stroke-width="1.7"/>
<path d="M913.6 484.3h6.5 M913.6 414.9h6.5 M913.6 345.5h6.5 M913.6 276.1h6.5 M913.6 206.8h6.5 M913.6 137.4h6.5 M913.6 68.0h6.5 M975.9 484.3v-6.5 M1102.1 484.3v-6.5 M1228.3 484.3v-6.5 M1354.5 484.3v-6.5 M1480.7 484.3v-6.5" stroke="#666" stroke-width="1.7"/>
<text x="902.3" y="492.8" class="t" font-size="22.5" text-anchor="end">0</text>
<text x="902.3" y="423.4" class="t" font-size="22.5" text-anchor="end">5</text>
<text x="902.3" y="354.0" class="t" font-size="22.5" text-anchor="end">10</text>
<text x="902.3" y="284.6" class="t" font-size="22.5" text-anchor="end">15</text>
<text x="902.3" y="215.3" class="t" font-size="22.5" text-anchor="end">20</text>
<text x="902.3" y="145.9" class="t" font-size="22.5" text-anchor="end">25</text>
<text x="902.3" y="76.5" class="t" font-size="22.5" text-anchor="end">30</text>
<text x="975.9" y="516.2" class="t" font-size="22.5" text-anchor="middle">2</text>
<text x="1102.1" y="516.2" class="t" font-size="22.5" text-anchor="middle">4</text>
<text x="1228.3" y="516.2" class="t" font-size="22.5" text-anchor="middle">6</text>
<text x="1354.5" y="516.2" class="t" font-size="22.5" text-anchor="middle">8</text>
<text x="1480.7" y="516.2" class="t" font-size="22.5" text-anchor="middle">10</text>
<line x1="913.6" y1="344.8" x2="1480.7" y2="344.8" stroke="#000" stroke-width="3.6" stroke-dasharray="17.4 18.48"/>
<polyline points="912.8,276.6 975.9,342.0 1039.0,347.0 1102.1,317.6 1165.2,336.0 1228.3,353.6 1291.4,359.0 1354.5,358.0 1417.6,358.4 1480.7,359.0" fill="none" stroke="#ee0000" stroke-width="4.6" stroke-linejoin="round"/>
<circle cx="912.8" cy="276.6" r="6.7" fill="none" stroke="#ee0000" stroke-width="4.4"/>
<circle cx="975.9" cy="342.0" r="6.7" fill="none" stroke="#ee0000" stroke-width="4.4"/>
<circle cx="1039.0" cy="347.0" r="6.7" fill="none" stroke="#ee0000" stroke-width="4.4"/>
<circle cx="1102.1" cy="317.6" r="6.7" fill="none" stroke="#ee0000" stroke-width="4.4"/>
<circle cx="1165.2" cy="336.0" r="6.7" fill="none" stroke="#ee0000" stroke-width="4.4"/>
<circle cx="1228.3" cy="353.6" r="6.7" fill="none" stroke="#ee0000" stroke-width="4.4"/>
<circle cx="1291.4" cy="359.0" r="6.7" fill="none" stroke="#ee0000" stroke-width="4.4"/>
<circle cx="1354.5" cy="358.0" r="6.7" fill="none" stroke="#ee0000" stroke-width="4.4"/>
<circle cx="1417.6" cy="358.4" r="6.7" fill="none" stroke="#ee0000" stroke-width="4.4"/>
<circle cx="1480.7" cy="359.0" r="6.7" fill="none" stroke="#ee0000" stroke-width="4.4"/>
<polyline points="912.8,399.0 975.9,363.0 1039.0,361.4 1102.1,344.0 1165.2,347.6 1228.3,337.6 1291.4,341.0 1354.5,345.0 1417.6,337.6 1480.7,333.6" fill="none" stroke="#0000ee" stroke-width="4.6" stroke-linejoin="round"/>
<circle cx="912.8" cy="399.0" r="6.7" fill="none" stroke="#0000ee" stroke-width="4.4"/>
<circle cx="975.9" cy="363.0" r="6.7" fill="none" stroke="#0000ee" stroke-width="4.4"/>
<circle cx="1039.0" cy="361.4" r="6.7" fill="none" stroke="#0000ee" stroke-width="4.4"/>
<circle cx="1102.1" cy="344.0" r="6.7" fill="none" stroke="#0000ee" stroke-width="4.4"/>
<circle cx="1165.2" cy="347.6" r="6.7" fill="none" stroke="#0000ee" stroke-width="4.4"/>
<circle cx="1228.3" cy="337.6" r="6.7" fill="none" stroke="#0000ee" stroke-width="4.4"/>
<circle cx="1291.4" cy="341.0" r="6.7" fill="none" stroke="#0000ee" stroke-width="4.4"/>
<circle cx="1354.5" cy="345.0" r="6.7" fill="none" stroke="#0000ee" stroke-width="4.4"/>
<circle cx="1417.6" cy="337.6" r="6.7" fill="none" stroke="#0000ee" stroke-width="4.4"/>
<circle cx="1480.7" cy="333.6" r="6.7" fill="none" stroke="#0000ee" stroke-width="4.4"/>
<text x="1075.6" y="559.3" class="g" textLength="230.7" lengthAdjust="spacingAndGlyphs">generation</text>
<path d="M168.6 646.8V1039.0H735.7" fill="none" stroke="#666" stroke-width="1.7"/>
<path d="M168.6 1039.0h6.5 M168.6 973.6h6.5 M168.6 908.3h6.5 M168.6 842.9h6.5 M168.6 777.5h6.5 M168.6 712.2h6.5 M168.6 646.8h6.5 M231.5 1039.0v-6.5 M357.3 1039.0v-6.5 M483.1 1039.0v-6.5 M608.9 1039.0v-6.5 M734.7 1039.0v-6.5" stroke="#666" stroke-width="1.7"/>
<text x="158.2" y="1047.1" class="t" font-size="21.5" text-anchor="end">0</text>
<text x="158.2" y="981.8" class="t" font-size="21.5" text-anchor="end">5</text>
<text x="158.2" y="916.4" class="t" font-size="21.5" text-anchor="end">10</text>
<text x="158.2" y="851.0" class="t" font-size="21.5" text-anchor="end">15</text>
<text x="158.2" y="785.7" class="t" font-size="21.5" text-anchor="end">20</text>
<text x="158.2" y="720.3" class="t" font-size="21.5" text-anchor="end">25</text>
<text x="158.2" y="654.9" class="t" font-size="21.5" text-anchor="end">30</text>
<text x="231.5" y="1069.6" class="t" font-size="21.5" text-anchor="middle">2</text>
<text x="357.3" y="1069.6" class="t" font-size="21.5" text-anchor="middle">4</text>
<text x="483.1" y="1069.6" class="t" font-size="21.5" text-anchor="middle">6</text>
<text x="608.9" y="1069.6" class="t" font-size="21.5" text-anchor="middle">8</text>
<text x="734.7" y="1069.6" class="t" font-size="21.5" text-anchor="middle">10</text>
<line x1="169.3" y1="908.4" x2="734.7" y2="908.4" stroke="#000" stroke-width="3.6" stroke-dasharray="16.4 17.4"/>
<polyline points="168.6,858.6 231.5,880.0 294.4,896.4 357.3,898.0 420.2,890.6 483.1,888.0 546.0,910.0 608.9,919.0 671.8,911.0 734.7,907.0" fill="none" stroke="#ee0000" stroke-width="4.6" stroke-linejoin="round"/>
<circle cx="168.6" cy="858.6" r="6.7" fill="none" stroke="#ee0000" stroke-width="4.4"/>
<circle cx="231.5" cy="880.0" r="6.7" fill="none" stroke="#ee0000" stroke-width="4.4"/>
<circle cx="294.4" cy="896.4" r="6.7" fill="none" stroke="#ee0000" stroke-width="4.4"/>
<circle cx="357.3" cy="898.0" r="6.7" fill="none" stroke="#ee0000" stroke-width="4.4"/>
<circle cx="420.2" cy="890.6" r="6.7" fill="none" stroke="#ee0000" stroke-width="4.4"/>
<circle cx="483.1" cy="888.0" r="6.7" fill="none" stroke="#ee0000" stroke-width="4.4"/>
<circle cx="546.0" cy="910.0" r="6.7" fill="none" stroke="#ee0000" stroke-width="4.4"/>
<circle cx="608.9" cy="919.0" r="6.7" fill="none" stroke="#ee0000" stroke-width="4.4"/>
<circle cx="671.8" cy="911.0" r="6.7" fill="none" stroke="#ee0000" stroke-width="4.4"/>
<circle cx="734.7" cy="907.0" r="6.7" fill="none" stroke="#ee0000" stroke-width="4.4"/>
<polyline points="168.6,964.4 231.5,937.0 294.4,918.0 357.3,906.0 420.2,903.6 483.1,907.0 546.0,904.4 608.9,915.6 671.8,921.0 734.7,917.0" fill="none" stroke="#0000ee" stroke-width="4.6" stroke-linejoin="round"/>
<circle cx="168.6" cy="964.4" r="6.7" fill="none" stroke="#0000ee" stroke-width="4.4"/>
<circle cx="231.5" cy="937.0" r="6.7" fill="none" stroke="#0000ee" stroke-width="4.4"/>
<circle cx="294.4" cy="918.0" r="6.7" fill="none" stroke="#0000ee" stroke-width="4.4"/>
<circle cx="357.3" cy="906.0" r="6.7" fill="none" stroke="#0000ee" stroke-width="4.4"/>
<circle cx="420.2" cy="903.6" r="6.7" fill="none" stroke="#0000ee" stroke-width="4.4"/>
<circle cx="483.1" cy="907.0" r="6.7" fill="none" stroke="#0000ee" stroke-width="4.4"/>
<circle cx="546.0" cy="904.4" r="6.7" fill="none" stroke="#0000ee" stroke-width="4.4"/>
<circle cx="608.9" cy="915.6" r="6.7" fill="none" stroke="#0000ee" stroke-width="4.4"/>
<circle cx="671.8" cy="921.0" r="6.7" fill="none" stroke="#0000ee" stroke-width="4.4"/>
<circle cx="734.7" cy="917.0" r="6.7" fill="none" stroke="#0000ee" stroke-width="4.4"/>
<text x="327.9" y="1116.0" class="g" textLength="231.0" lengthAdjust="spacingAndGlyphs">generation</text>
<path d="M914.9 625.5V1043.3H1486.0" fill="none" stroke="#666" stroke-width="1.7"/>
<path d="M914.9 1043.3h6.5 M914.9 973.7h6.5 M914.9 904.0h6.5 M914.9 834.4h6.5 M914.9 764.8h6.5 M914.9 695.1h6.5 M914.9 625.5h6.5 M977.0 1043.3v-6.5 M1104.0 1043.3v-6.5 M1231.0 1043.3v-6.5 M1358.0 1043.3v-6.5 M1485.0 1043.3v-6.5" stroke="#666" stroke-width="1.7"/>
<text x="902.6" y="1051.8" class="t" font-size="22.5" text-anchor="end">0</text>
<text x="902.6" y="982.2" class="t" font-size="22.5" text-anchor="end">5</text>
<text x="902.6" y="912.5" class="t" font-size="22.5" text-anchor="end">10</text>
<text x="902.6" y="842.9" class="t" font-size="22.5" text-anchor="end">15</text>
<text x="902.6" y="773.3" class="t" font-size="22.5" text-anchor="end">20</text>
<text x="902.6" y="703.6" class="t" font-size="22.5" text-anchor="end">25</text>
<text x="902.6" y="634.0" class="t" font-size="22.5" text-anchor="end">30</text>
<text x="977.0" y="1075.5" class="t" font-size="22.5" text-anchor="middle">2</text>
<text x="1104.0" y="1075.5" class="t" font-size="22.5" text-anchor="middle">4</text>
<text x="1231.0" y="1075.5" class="t" font-size="22.5" text-anchor="middle">6</text>
<text x="1358.0" y="1075.5" class="t" font-size="22.5" text-anchor="middle">8</text>
<text x="1485.0" y="1075.5" class="t" font-size="22.5" text-anchor="middle">10</text>
<line x1="915.0" y1="903.6" x2="1485.0" y2="903.6" stroke="#000" stroke-width="3.6" stroke-dasharray="17.5 18.5"/>
<polyline points="913.5,832.0 977.0,868.6 1040.5,885.4 1104.0,892.0 1167.5,897.0 1231.0,907.0 1294.5,908.0 1358.0,911.0 1421.5,909.0 1485.0,910.0" fill="none" stroke="#ee0000" stroke-width="4.6" stroke-linejoin="round"/>
<circle cx="913.5" cy="832.0" r="6.7" fill="none" stroke="#ee0000" stroke-width="4.4"/>
<circle cx="977.0" cy="868.6" r="6.7" fill="none" stroke="#ee0000" stroke-width="4.4"/>
<circle cx="1040.5" cy="885.4" r="6.7" fill="none" stroke="#ee0000" stroke-width="4.4"/>
<circle cx="1104.0" cy="892.0" r="6.7" fill="none" stroke="#ee0000" stroke-width="4.4"/>
<circle cx="1167.5" cy="897.0" r="6.7" fill="none" stroke="#ee0000" stroke-width="4.4"/>
<circle cx="1231.0" cy="907.0" r="6.7" fill="none" stroke="#ee0000" stroke-width="4.4"/>
<circle cx="1294.5" cy="908.0" r="6.7" fill="none" stroke="#ee0000" stroke-width="4.4"/>
<circle cx="1358.0" cy="911.0" r="6.7" fill="none" stroke="#ee0000" stroke-width="4.4"/>
<circle cx="1421.5" cy="909.0" r="6.7" fill="none" stroke="#ee0000" stroke-width="4.4"/>
<circle cx="1485.0" cy="910.0" r="6.7" fill="none" stroke="#ee0000" stroke-width="4.4"/>
<polyline points="913.5,965.0 977.0,934.6 1040.5,913.4 1104.0,912.4 1167.5,906.0 1231.0,906.0 1294.5,907.0 1358.0,897.0 1421.5,902.4 1485.0,910.0" fill="none" stroke="#0000ee" stroke-width="4.6" stroke-linejoin="round"/>
<circle cx="913.5" cy="965.0" r="6.7" fill="none" stroke="#0000ee" stroke-width="4.4"/>
<circle cx="977.0" cy="934.6" r="6.7" fill="none" stroke="#0000ee" stroke-width="4.4"/>
<circle cx="1040.5" cy="913.4" r="6.7" fill="none" stroke="#0000ee" stroke-width="4.4"/>
<circle cx="1104.0" cy="912.4" r="6.7" fill="none" stroke="#0000ee" stroke-width="4.4"/>
<circle cx="1167.5" cy="906.0" r="6.7" fill="none" stroke="#0000ee" stroke-width="4.4"/>
<circle cx="1231.0" cy="906.0" r="6.7" fill="none" stroke="#0000ee" stroke-width="4.4"/>
<circle cx="1294.5" cy="907.0" r="6.7" fill="none" stroke="#0000ee" stroke-width="4.4"/>
<circle cx="1358.0" cy="897.0" r="6.7" fill="none" stroke="#0000ee" stroke-width="4.4"/>
<circle cx="1421.5" cy="902.4" r="6.7" fill="none" stroke="#0000ee" stroke-width="4.4"/>
<circle cx="1485.0" cy="910.0" r="6.7" fill="none" stroke="#0000ee" stroke-width="4.4"/>
<text x="1075.6" y="1116.0" class="g" textLength="230.7" lengthAdjust="spacingAndGlyphs">generation</text>
<path d="M177.2 470.2h0.01M177.2 456.3h0.01M177.2 442.3h0.01M177.2 428.3h0.01" stroke="#1010c0" stroke-width="3" stroke-linecap="round" opacity="0.85"/>
<path d="M177.2 246.8h0.01M177.2 232.9h0.01M177.2 218.9h0.01M177.2 204.9h0.01M177.2 191.0h0.01M177.2 177.0h0.01M177.2 163.1h0.01" stroke="#b01838" stroke-width="2.4" stroke-linecap="round" opacity="0.5"/>
<path d="M913.6 470.4h0.01M913.6 456.5h0.01M913.6 442.7h0.01M913.6 428.8h0.01" stroke="#1010c0" stroke-width="3" stroke-linecap="round" opacity="0.85"/>
<path d="M913.6 248.4h0.01M913.6 234.5h0.01M913.6 220.6h0.01M913.6 206.8h0.01M913.6 192.9h0.01M913.6 179.0h0.01M913.6 165.1h0.01" stroke="#b01838" stroke-width="2.4" stroke-linecap="round" opacity="0.5"/>
<path d="M168.6 1025.9h0.01M168.6 1012.9h0.01M168.6 999.8h0.01M168.6 986.7h0.01" stroke="#1010c0" stroke-width="3" stroke-linecap="round" opacity="0.85"/>
<path d="M168.6 816.8h0.01M168.6 803.7h0.01M168.6 790.6h0.01M168.6 777.5h0.01M168.6 764.5h0.01M168.6 751.4h0.01M168.6 738.3h0.01" stroke="#b01838" stroke-width="2.4" stroke-linecap="round" opacity="0.5"/>
<path d="M914.9 1029.4h0.01M914.9 1015.4h0.01M914.9 1001.5h0.01M914.9 987.6h0.01M914.9 973.7h0.01" stroke="#1010c0" stroke-width="3" stroke-linecap="round" opacity="0.85"/>
<path d="M914.9 806.5h0.01M914.9 792.6h0.01M914.9 778.7h0.01M914.9 764.8h0.01M914.9 750.8h0.01M914.9 736.9h0.01M914.9 723.0h0.01" stroke="#b01838" stroke-width="2.4" stroke-linecap="round" opacity="0.5"/>

<text class="L" x="0" y="61.5" textLength="43" lengthAdjust="spacingAndGlyphs">a</text>
<text class="L" x="748" y="61.5">b</text>
<text class="L" x="0" y="649.5">c</text>
<text class="L" x="749" y="649.5">d</text>

<path transform="translate(0 0)" d="M78.1 34.9L91 32.6L91.2 33.6L77.4 81.5C77 83.2 77.6 84 78.8 83.4C80.8 82.3 83 80.3 84.6 78.6L85.4 79.6C83 83.5 79.2 88 75.2 88C72 88 70.6 86.4 71.3 83.6L82.2 39.2C82.8 37 81.8 36.2 79 36.4Z"/><text class="si" font-size="46" x="90" y="114">b</text>
<path transform="translate(744.2 0.4)" d="M78.1 34.9L91 32.6L91.2 33.6L77.4 81.5C77 83.2 77.6 84 78.8 83.4C80.8 82.3 83 80.3 84.6 78.6L85.4 79.6C83 83.5 79.2 88 75.2 88C72 88 70.6 86.4 71.3 83.6L82.2 39.2C82.8 37 81.8 36.2 79 36.4Z"/><text class="si" font-size="46" x="833.5" y="114">b</text>
<path transform="translate(-0.4 589.6)" d="M78.1 34.9L91 32.6L91.2 33.6L77.4 81.5C77 83.2 77.6 84 78.8 83.4C80.8 82.3 83 80.3 84.6 78.6L85.4 79.6C83 83.5 79.2 88 75.2 88C72 88 70.6 86.4 71.3 83.6L82.2 39.2C82.8 37 81.8 36.2 79 36.4Z"/><text class="si" font-size="46" x="90" y="703">b</text>
<path transform="translate(744.2 589.6)" d="M78.1 34.9L91 32.6L91.2 33.6L77.4 81.5C77 83.2 77.6 84 78.8 83.4C80.8 82.3 83 80.3 84.6 78.6L85.4 79.6C83 83.5 79.2 88 75.2 88C72 88 70.6 86.4 71.3 83.6L82.2 39.2C82.8 37 81.8 36.2 79 36.4Z"/><text class="si" font-size="46" x="833.5" y="703">b</text>
<text class="s" font-size="50" transform="translate(48.7 348) scale(0.8 1)">1</text><text class="s" font-size="50" transform="translate(75.5 348) scale(0.95 1)">/</text><text class="si" font-size="55" transform="translate(100.5 348.5) scale(1.1 1)">α</text>
<text class="s" font-size="50" transform="translate(792.7 348) scale(0.8 1)">1</text><text class="s" font-size="50" transform="translate(819 348) scale(0.95 1)">/</text><text class="si" font-size="55" transform="translate(842 348.5) scale(1.1 1)">α</text>
<text class="s" font-size="50" transform="translate(48.7 914) scale(0.8 1)">1</text><text class="s" font-size="50" transform="translate(75.5 914) scale(0.95 1)">/</text><text class="si" font-size="55" transform="translate(100.5 914.5) scale(1.1 1)">α</text>
<text class="s" font-size="50" transform="translate(792.7 914) scale(0.8 1)">1</text><text class="s" font-size="50" transform="translate(819 914) scale(0.95 1)">/</text><text class="si" font-size="55" transform="translate(842 914.5) scale(1.1 1)">α</text>
</svg>
</body></html>
